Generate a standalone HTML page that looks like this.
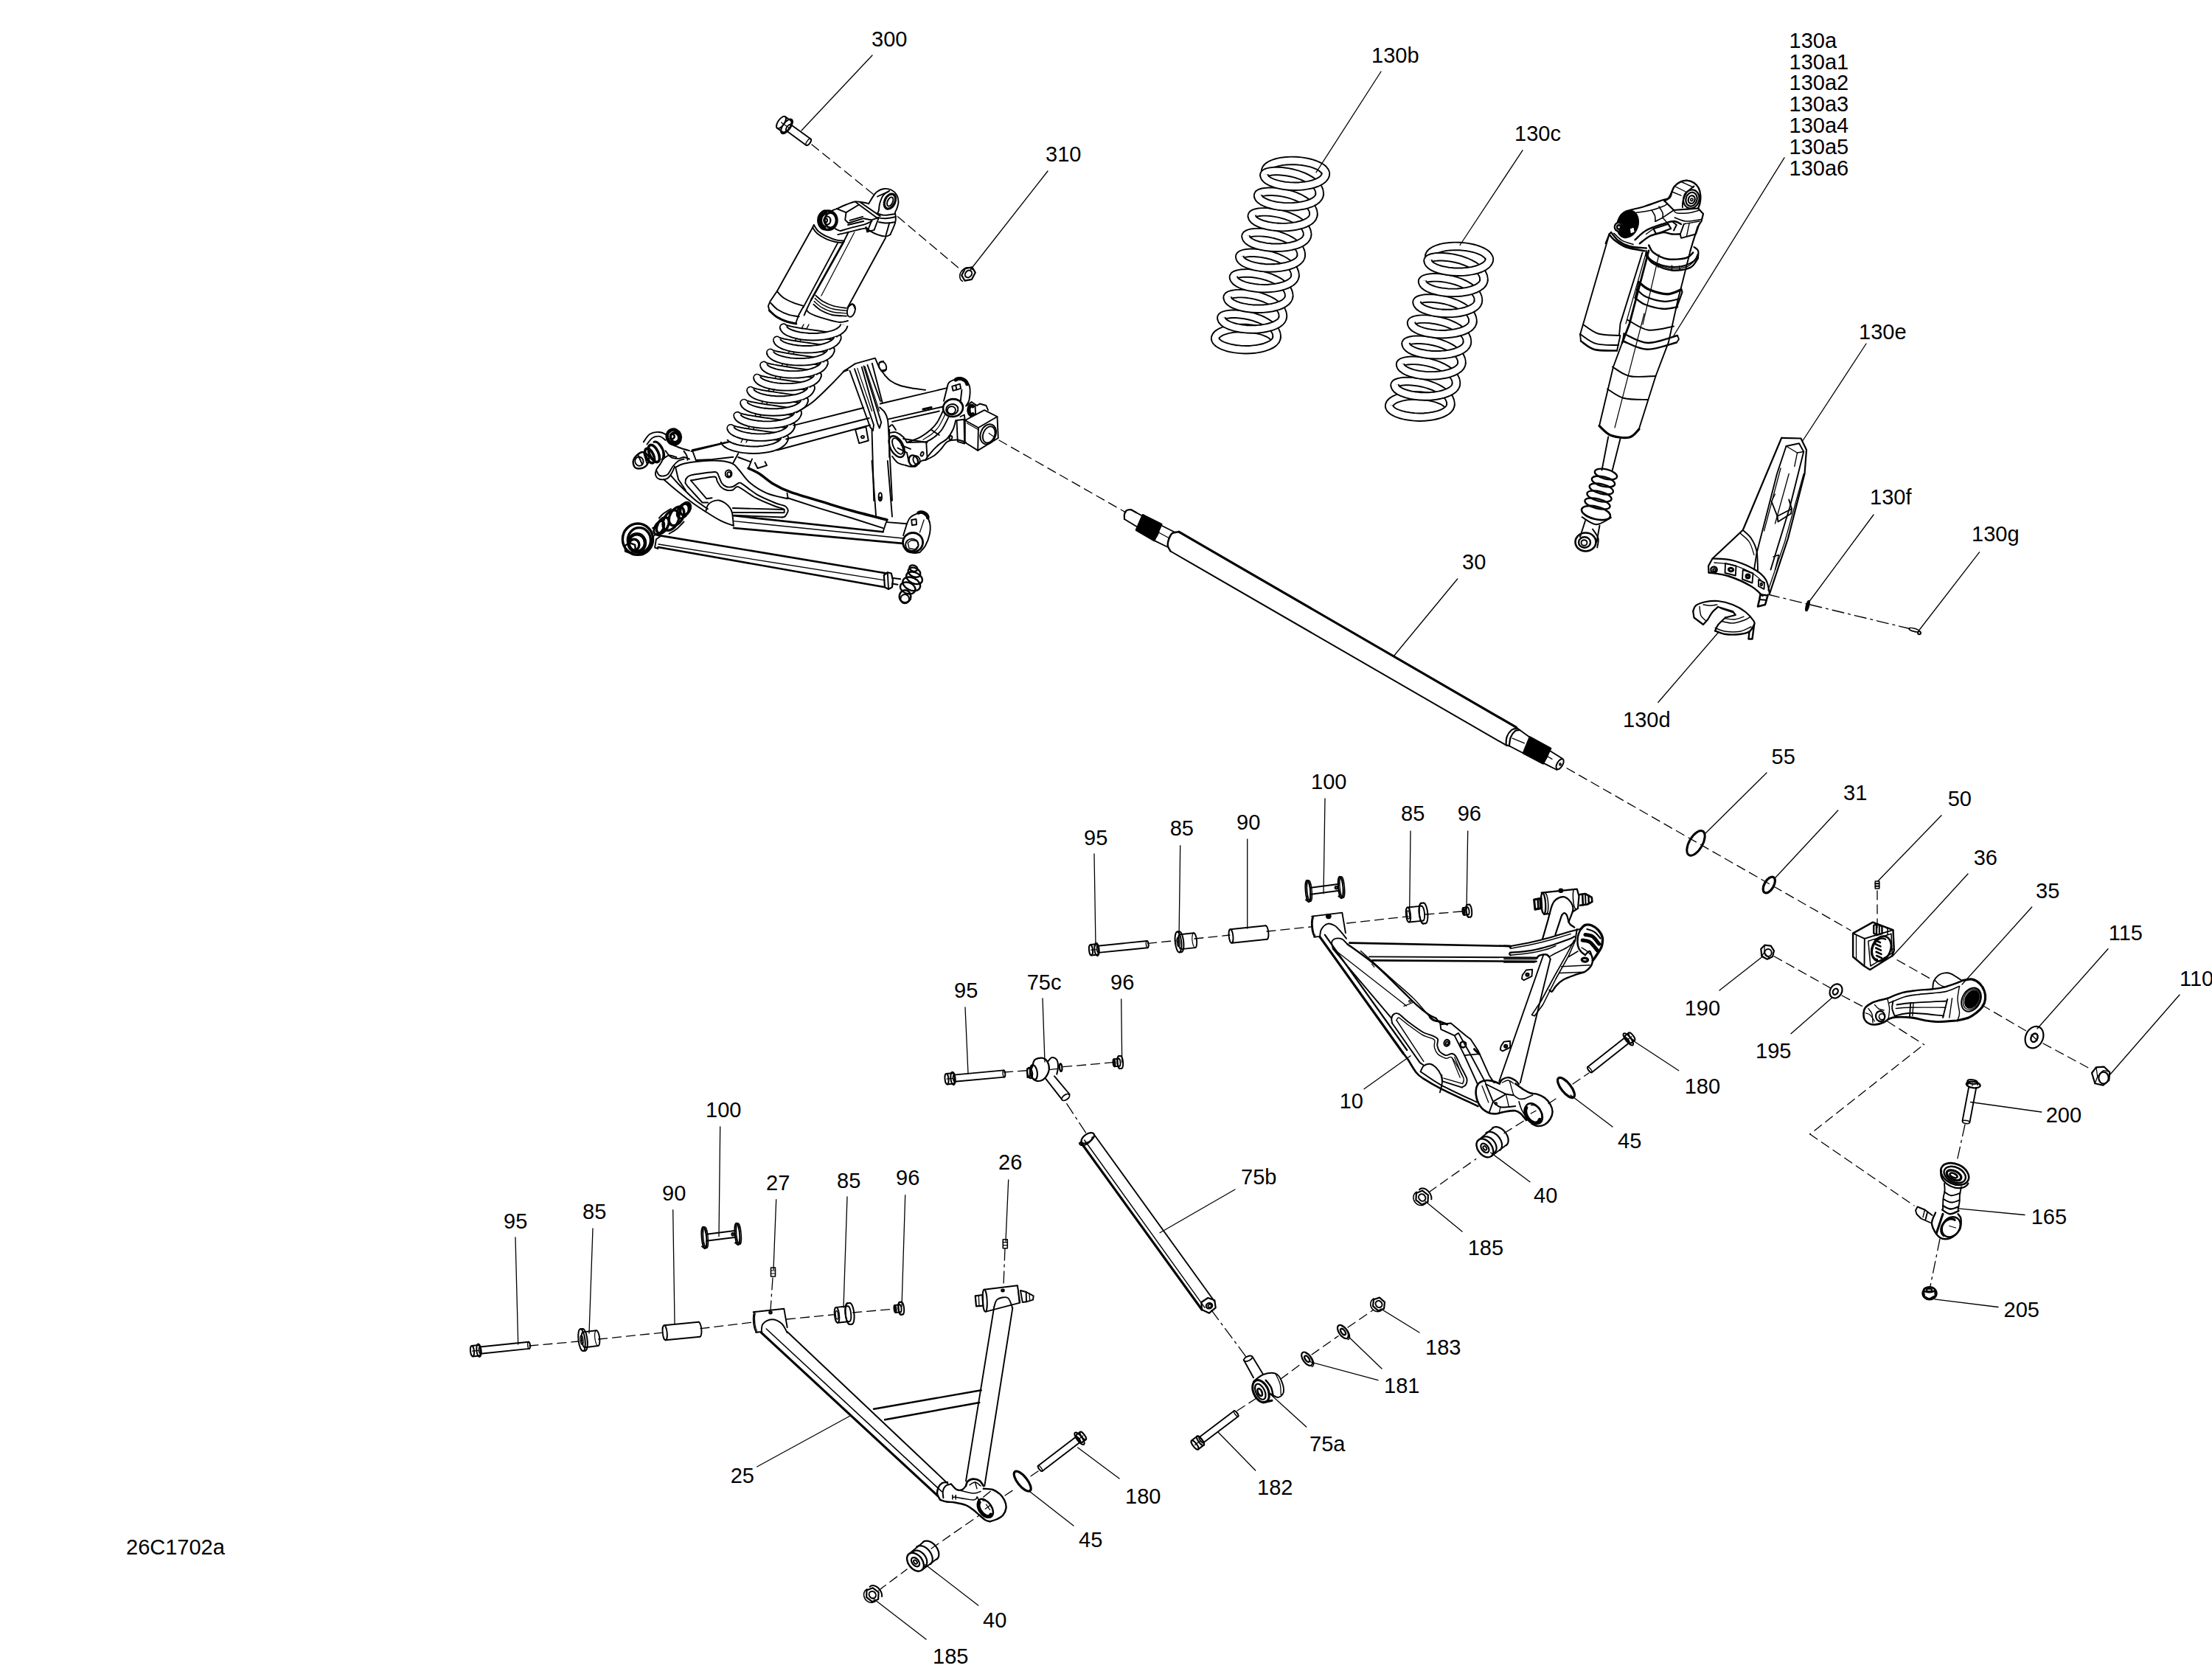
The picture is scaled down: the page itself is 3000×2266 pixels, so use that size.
<!DOCTYPE html>
<html><head><meta charset="utf-8"><title>26C1702a</title>
<style>
html,body{margin:0;padding:0;background:#fff;}
svg{display:block;}
svg path,svg ellipse{stroke-linecap:round;stroke-linejoin:round;}
svg text{font-family:"Liberation Sans",sans-serif;font-size:29px;fill:#000;}
</style></head><body>
<svg xmlns="http://www.w3.org/2000/svg" width="3000" height="2266" viewBox="0 0 3000 2266">
<rect width="3000" height="2266" fill="#fff"/>
<g id="p_10_asm_shock">
<path d="M1054 173.8 L1061.5 179.1" fill="none" stroke="#000" stroke-width="2"/>
<path d="M1065 158.2 L1072.5 163.5" fill="none" stroke="#000" stroke-width="2"/>
<ellipse cx="1059.5" cy="166" rx="4.3" ry="9.5" transform="rotate(35.2 1059.5 166)" fill="none" stroke="#000" stroke-width="2"/>
<path d="M1072.5 163.5 L1073.2 164.4 L1073.5 165.8 L1073.3 167.6 L1072.8 169.6 L1071.8 171.7 L1070.5 173.8 L1069 175.7 L1067.3 177.3 L1065.6 178.5 L1064 179.3 L1062.6 179.4 L1061.5 179.1" fill="none" stroke="#000" stroke-width="2"/>
<path d="M1059.5 166 L1067 171.3" fill="none" stroke="#000" stroke-width="1.2"/>
<ellipse cx="1067" cy="171.3" rx="5.2" ry="11.5" transform="rotate(36 1067 171.3)" fill="none" stroke="#000" stroke-width="2"/>
<path d="M1066.5 177.3 L1093.4 196.9" fill="none" stroke="#000" stroke-width="1.9"/>
<path d="M1072.6 168.9 L1099.6 188.5" fill="none" stroke="#000" stroke-width="1.9"/>
<path d="M1066.5 177.3 L1066.1 176.8 L1065.9 176.1 L1066 175.1 L1066.3 174 L1066.9 172.9 L1067.6 171.7 L1068.5 170.7 L1069.4 169.8 L1070.3 169.2 L1071.2 168.8 L1072 168.7 L1072.6 168.9" fill="none" stroke="#000" stroke-width="1.9"/>
<path d="M1099.6 188.5 L1099.9 189 L1100.1 189.7 L1100 190.7 L1099.7 191.8 L1099.1 192.9 L1098.4 194.1 L1097.5 195.1 L1096.6 196 L1095.7 196.6 L1094.8 197 L1094 197.1 L1093.4 196.9" fill="none" stroke="#000" stroke-width="1.9"/>
<path d="M1069.7 173.3 L1069.7 173.3 L1069.7 173.3 L1069.7 173.3 L1069.7 173.3 L1069.7 173.3 L1069.7 173.3 L1069.7 173.3 L1069.7 173.3 L1069.7 173.3 L1069.7 173.3 L1069.7 173.3 L1069.7 173.3 L1069.7 173.3 L1069.7 173.3 L1069.7 173.3 L1069.7 173.3 L1069.7 173.3 L1069.7 173.3 L1069.7 173.3 L1069.7 173.3 L1069.7 173.3 L1069.7 173.3 L1069.7 173.3 L1069.7 173.3" fill="none" stroke="#000" stroke-width="1.9"/>
<ellipse cx="1096.5" cy="192.7" rx="2.3" ry="5.2" transform="rotate(36 1096.5 192.7)" fill="none" stroke="#000" stroke-width="1.4"/>
<path d="M1318 378.8 L1308.6 380.7 L1304.2 373.4 L1309 364.2 L1318.4 362.3 L1322.8 369.6Z" fill="none" stroke="#000" stroke-width="2.2"/>
<ellipse cx="1313.5" cy="371.5" rx="4.2" ry="5.2" transform="rotate(40 1313.5 371.5)" fill="none" stroke="#000" stroke-width="2"/>
<path d="M1305.5 381.4 L1304.4 380.7 L1303.5 379.9 L1302.8 378.9 L1302.3 377.7 L1301.9 376.5 L1301.7 375.2 L1301.7 373.8 L1301.9 372.4 L1302.3 371 L1302.9 369.6 L1303.7 368.3 L1304.6 367.1 L1305.6 366 L1306.8 365 L1308 364.2 L1309.3 363.6 L1310.7 363.1 L1312 362.9 L1313.4 362.8 L1314.6 363 L1315.9 363.3 L1317 363.9 L1317.9 364.6 L1318.8 365.5" fill="none" stroke="#000" stroke-width="1.6"/>
<path d="M1178.1 276.2 C1179.1 274.7 1181.9 269.6 1183.8 266.9 C1185.6 264.2 1186.9 261.8 1189.4 260 C1191.9 258.2 1195.5 256.4 1198.8 256 C1202 255.6 1205.8 256.1 1208.8 257.5 C1211.7 258.9 1214.6 261.7 1216.2 264.4 C1217.9 267.1 1218.5 270.7 1218.5 273.8 C1218.5 276.8 1217.2 280.1 1216.5 282.5 C1215.8 284.9 1214.3 286.2 1214 288.1 C1213.7 290 1214.8 291.4 1214.8 293.8 C1214.8 296.1 1215.2 298.4 1214 302.5 C1212.8 306.6 1208.6 315.5 1207.5 318.1" fill="none" stroke="#000" stroke-width="1.9"/>
<path d="M1206.2 258.8 C1204.8 259.8 1199.9 262.1 1197.8 265 C1195.6 267.9 1194.1 272.9 1193.1 276.2 C1192.1 279.6 1192.4 282.8 1191.9 285 C1191.4 287.2 1190.3 288.6 1190 289.4" fill="none" stroke="#000" stroke-width="1.9"/>
<path d="M1190 266.5 L1204.8 259.8" fill="none" stroke="#000" stroke-width="1.9"/>
<ellipse cx="1206.9" cy="273.1" rx="6.9" ry="10.6" transform="rotate(25 1206.9 273.1)" fill="none" stroke="#000" stroke-width="3.2"/>
<ellipse cx="1207.2" cy="273.5" rx="3.5" ry="6.5" transform="rotate(25 1207.2 273.5)" fill="none" stroke="#000" stroke-width="1.9"/>
<path d="M1190 289.4 C1191.7 289.8 1196 291.8 1200 291.9 C1204 292 1211.7 290.3 1214 290" fill="none" stroke="#000" stroke-width="1.9"/>
<path d="M1189.4 295 C1191.4 295.2 1197 296.4 1201.2 296.2 C1205.5 296.1 1212.5 294.4 1214.8 294" fill="none" stroke="#000" stroke-width="1.9"/>
<path d="M1191.9 301.2 C1193.6 301.5 1198.8 302.5 1202.5 302.5 C1206.2 302.5 1212.1 301.5 1214 301.2" fill="none" stroke="#000" stroke-width="1.9"/>
<path d="M1207.5 318.1 C1206.5 318.5 1204.2 320.6 1201.2 320.6 C1198.3 320.6 1193.5 319.4 1190 318.1 C1186.5 316.9 1182.6 314.8 1180 313.1 C1177.4 311.5 1175.3 309 1174.4 308.1" fill="none" stroke="#000" stroke-width="1.9"/>
<path d="M1206.2 302.5 L1201.2 320" fill="none" stroke="#000" stroke-width="1.9"/>
<path d="M1135 283.1 C1137.1 282.2 1143.3 279.1 1147.5 277.5 C1151.7 275.9 1155.8 274 1160 273.5 C1164.2 273 1169.5 274.3 1172.5 274.8 C1175.5 275.2 1177.2 276 1178.1 276.2" fill="none" stroke="#000" stroke-width="1.9"/>
<path d="M1160 273.5 L1165 277.5 L1188.8 295" fill="none" stroke="#000" stroke-width="1.9"/>
<path d="M1166.2 274 L1193.8 293.1" fill="none" stroke="#000" stroke-width="1.9"/>
<path d="M1165 277.5 L1147.5 288.1 L1135 283.1" fill="none" stroke="#000" stroke-width="1.9"/>
<path d="M1147.5 288.1 L1146.2 298.1 L1150.6 302.5 L1171.2 296.2 L1182.5 298.5" fill="none" stroke="#000" stroke-width="1.9"/>
<path d="M1140 313.1 C1142.1 312.5 1147.1 310.8 1152.5 309.4 C1157.9 307.9 1167.5 305.9 1172.5 304.4 C1177.5 302.8 1180.8 300.7 1182.5 300" fill="none" stroke="#000" stroke-width="1.9"/>
<path d="M1136.2 318.1 C1138.5 317.6 1145.2 316.1 1150 315 C1154.8 313.9 1160.8 312.2 1165 311.2 C1169.2 310.3 1173.3 309.7 1175 309.4" fill="none" stroke="#000" stroke-width="1.9"/>
<path d="M1152.5 298.8 L1170 293.8" fill="none" stroke="#000" stroke-width="1.9"/>
<path d="M1150 305 L1171.2 300" fill="none" stroke="#000" stroke-width="1.9"/>
<path d="M1182.5 298.1 L1191.9 295 L1185.6 311.9 L1176.2 314.4Z" fill="none" stroke="#000" stroke-width="1.9"/>
<path d="M1174.4 308.1 L1176.2 314.4" fill="none" stroke="#000" stroke-width="1.9"/>
<path d="M1127.5 286.5 C1128.1 286.1 1130 284.9 1131.2 284.4 C1132.5 283.8 1134.4 283.3 1135 283.1" fill="none" stroke="#000" stroke-width="1.9"/>
<path d="M1132.5 310 C1133.1 310.3 1135 311.4 1136.2 311.9 C1137.5 312.4 1139.4 312.9 1140 313.1" fill="none" stroke="#000" stroke-width="1.9"/>
<ellipse cx="1123.1" cy="298.8" rx="11.9" ry="12.8" transform="rotate(0 1123.1 298.8)" fill="none" stroke="#000" stroke-width="3.5"/>
<ellipse cx="1126.2" cy="298.8" rx="7.8" ry="10" transform="rotate(0 1126.2 298.8)" fill="none" stroke="#000" stroke-width="2.6"/>
<ellipse cx="1121.9" cy="299" rx="4.5" ry="5.5" transform="rotate(0 1121.9 299)" fill="none" stroke="#000" stroke-width="2.2"/>
<ellipse cx="1120" cy="298.8" rx="2" ry="2.5" transform="rotate(0 1120 298.8)" fill="none" stroke="#000" stroke-width="2.2"/>
<path d="M1116.8 308.7 L1115.9 308.1 L1115.2 307.5 L1114.5 306.7 L1113.8 305.9 L1113.3 305 L1112.8 304.1 L1112.4 303.1 L1112.1 302 L1111.8 301 L1111.7 299.9 L1111.6 298.8 L1111.7 297.7 L1111.8 296.7 L1112 295.6 L1112.3 294.6 L1112.7 293.6 L1113.2 292.6 L1113.7 291.7 L1114.4 290.9 L1115.1 290.2 L1115.8 289.5 L1116.6 288.9 L1117.5 288.4 L1118.4 287.9" fill="none" stroke="#000" stroke-width="7"/>
<path d="M1103.8 305 C1104.8 306.5 1106.9 311 1110 313.8 C1113.1 316.5 1118.3 319.3 1122.5 321.2 C1126.7 323.2 1131.4 324.8 1135 325.6 C1138.6 326.5 1142.8 326.4 1144.4 326.5" fill="none" stroke="#000" stroke-width="1.9"/>
<path d="M1102.1 308.5 C1103.1 309.8 1104.9 313.9 1108.1 316.5 C1111.3 319.1 1117 322.4 1121.2 324.4 C1125.5 326.3 1130.2 327.4 1133.8 328.2 C1137.3 329.1 1141.2 329.1 1142.8 329.2" fill="none" stroke="#000" stroke-width="1.9"/>
<path d="M1103.8 305 L1102.1 308.5 L1053.8 395" fill="none" stroke="#000" stroke-width="1.9"/>
<path d="M1136.2 329.4 L1089.4 416.9" fill="none" stroke="#000" stroke-width="1.9"/>
<path d="M1144.4 327.5 L1100 406.9" fill="none" stroke="#000" stroke-width="2.6"/>
<path d="M1158.8 315 L1113.8 401.2" fill="none" stroke="#000" stroke-width="1.2"/>
<path d="M1201.2 322.2 L1150 416.2" fill="none" stroke="#000" stroke-width="1.9"/>
<path d="M1150.6 315 L1144.4 327.5" fill="none" stroke="#000" stroke-width="1.9"/>
<path d="M1053.8 395 C1055.2 396.5 1058.8 401.1 1062.5 403.8 C1066.2 406.4 1071.7 408.8 1076.2 410.6 C1080.8 412.5 1087.7 414.1 1090 414.8" fill="none" stroke="#000" stroke-width="1.9"/>
<path d="M1053.8 395 L1044.4 408.8 L1041.9 415 L1043.5 421.2" fill="none" stroke="#000" stroke-width="1.9"/>
<path d="M1045 410.6 C1046.7 412.2 1050.8 417.3 1055 420 C1059.2 422.7 1065.2 425.3 1070 426.9 C1074.8 428.4 1081.5 429 1083.8 429.4" fill="none" stroke="#000" stroke-width="1.9"/>
<path d="M1043.5 421.2 C1045.2 422.7 1049.8 427.5 1053.8 430 C1057.8 432.5 1063.2 434.8 1067.5 436.2 C1071.8 437.8 1077.7 438.5 1079.8 439" fill="none" stroke="#000" stroke-width="3"/>
<path d="M1090 415 L1083.1 427.5 L1079 439" fill="none" stroke="#000" stroke-width="1.9"/>
<path d="M1100 406.9 L1095 417.5 L1090.6 427.5" fill="none" stroke="#000" stroke-width="1.9"/>
<path d="M1106.2 400.6 C1107.9 402 1112.2 406.4 1116.2 408.8 C1120.3 411.1 1125.3 413.5 1130.6 415 C1135.9 416.5 1145.2 417.3 1148.1 417.8" fill="none" stroke="#000" stroke-width="1.8"/>
<path d="M1105.2 404.6 C1106.9 406 1111.1 410.4 1115.2 412.8 C1119.4 415.1 1124.4 417.6 1129.9 419 C1135.4 420.4 1145.1 421 1148.1 421.4" fill="none" stroke="#000" stroke-width="1.4"/>
<path d="M1104.2 408.6 C1105.9 410 1110.1 414.4 1114.2 416.8 C1118.4 419.1 1123.5 421.6 1129.1 423 C1134.8 424.4 1145 424.6 1148.1 424.9" fill="none" stroke="#000" stroke-width="1.4"/>
<path d="M1103.2 412.6 C1104.9 414 1109.1 418.4 1113.2 420.8 C1117.4 423.1 1122.6 425.7 1128.4 427 C1134.2 428.3 1144.8 428.3 1148.1 428.6" fill="none" stroke="#000" stroke-width="1.8"/>
<ellipse cx="1154.4" cy="421" rx="5.2" ry="9" transform="rotate(15 1154.4 421)" fill="none" stroke="#000" stroke-width="1.9"/>
<path d="M1150 416.2 C1151 415.6 1154.6 412.1 1156.2 412.5 C1157.9 412.9 1159.2 417.7 1159.8 418.8" fill="none" stroke="#000" stroke-width="1.9"/>
<path d="M1093.8 420 C1094.6 420.8 1095.2 423.1 1098.8 425 C1102.3 426.9 1108.5 429.3 1115 431.2 C1121.5 433.2 1131.7 436.2 1137.5 436.9 C1143.3 437.5 1147.9 435.3 1150 435" fill="none" stroke="#000" stroke-width="1.9"/>
</g>
<g id="p_12_asm_spring">
<path d="M1090 440 L1005 600" fill="none" stroke="#000" stroke-width="1.4"/>
<path d="M1097 440 L1012 600" fill="none" stroke="#000" stroke-width="1.4"/>
<path d="M1062.8 444.7 L1062.6 444.1 L1063.5 444.8 L1065.4 445.6 L1068.2 446.4 L1071.9 447.2 L1076.4 448.1 L1081.5 449 L1087.1 450 L1093.1 450.9 L1099.2 451.8 L1105.4 452.7 L1111.3 453.5 L1117 454.3 L1122.1 455 L1126.6 455.7 L1130.3 456.3 L1133.2 456.8 L1135.1 457.2 L1135.9 457.6 L1135.7 459.1" fill="none" stroke="#000" stroke-width="11.4" style="stroke-linecap:butt"/>
<path d="M1063 445.4 L1062.6 443.9 L1063.1 444.6 L1064.8 445.4 L1067.5 446.2 L1071.1 447.1 L1075.6 448 L1080.9 448.9 L1086.7 449.9 L1092.8 450.8 L1099.2 451.8 L1105.6 452.7 L1111.8 453.6 L1117.6 454.4 L1122.8 455.1 L1127.4 455.8 L1131.1 456.4 L1133.8 456.9 L1135.4 457.4 L1136 457.7 L1135.3 460.1" fill="none" stroke="#fff" stroke-width="7.6" style="stroke-linecap:butt"/>
<path d="M1053.8 461.8 L1053.7 461.2 L1054.5 461.9 L1056.4 462.6 L1059.2 463.4 L1062.9 464.3 L1067.4 465.2 L1072.5 466.1 L1078.2 467 L1084.1 467.9 L1090.3 468.8 L1096.4 469.7 L1102.4 470.6 L1108 471.4 L1113.2 472.1 L1117.6 472.7 L1121.4 473.3 L1124.2 473.9 L1126.1 474.3 L1127 474.7 L1126.7 476.1" fill="none" stroke="#000" stroke-width="11.4" style="stroke-linecap:butt"/>
<path d="M1054.1 462.5 L1053.6 461 L1054.2 461.7 L1055.8 462.4 L1058.5 463.3 L1062.2 464.1 L1066.7 465 L1071.9 466 L1077.7 466.9 L1083.9 467.9 L1090.3 468.8 L1096.6 469.8 L1102.8 470.6 L1108.6 471.4 L1113.9 472.2 L1118.4 472.9 L1122.1 473.5 L1124.8 474 L1126.5 474.4 L1127 474.8 L1126.3 477.2" fill="none" stroke="#fff" stroke-width="7.6" style="stroke-linecap:butt"/>
<path d="M1044.9 478.8 L1044.7 478.3 L1045.6 478.9 L1047.5 479.7 L1050.3 480.5 L1054 481.3 L1058.5 482.2 L1063.6 483.1 L1069.2 484.1 L1075.2 485 L1081.3 485.9 L1087.5 486.8 L1093.4 487.6 L1099.1 488.4 L1104.2 489.1 L1108.7 489.8 L1112.4 490.4 L1115.3 490.9 L1117.2 491.4 L1118 491.7 L1117.8 493.2" fill="none" stroke="#000" stroke-width="11.4" style="stroke-linecap:butt"/>
<path d="M1045.2 479.6 L1044.7 478 L1045.2 478.7 L1046.9 479.5 L1049.6 480.3 L1053.2 481.2 L1057.7 482.1 L1063 483 L1068.8 484 L1075 485 L1081.3 485.9 L1087.7 486.8 L1093.9 487.7 L1099.7 488.5 L1104.9 489.2 L1109.5 489.9 L1113.2 490.5 L1115.9 491 L1117.5 491.5 L1118.1 491.8 L1117.4 494.2" fill="none" stroke="#fff" stroke-width="7.6" style="stroke-linecap:butt"/>
<path d="M1035.9 495.9 L1035.8 495.3 L1036.6 496 L1038.5 496.7 L1041.3 497.5 L1045 498.4 L1049.5 499.3 L1054.6 500.2 L1060.3 501.1 L1066.2 502 L1072.4 502.9 L1078.5 503.8 L1084.5 504.7 L1090.1 505.5 L1095.3 506.2 L1099.8 506.9 L1103.5 507.4 L1106.3 508 L1108.2 508.4 L1109.1 508.8 L1108.8 510.2" fill="none" stroke="#000" stroke-width="11.4" style="stroke-linecap:butt"/>
<path d="M1036.2 496.6 L1035.8 495.1 L1036.3 495.8 L1037.9 496.5 L1040.6 497.4 L1044.3 498.2 L1048.8 499.1 L1054 500.1 L1059.8 501 L1066 502 L1072.4 502.9 L1078.8 503.9 L1084.9 504.7 L1090.7 505.5 L1096 506.3 L1100.5 507 L1104.2 507.6 L1106.9 508.1 L1108.6 508.5 L1109.1 508.9 L1108.4 511.3" fill="none" stroke="#fff" stroke-width="7.6" style="stroke-linecap:butt"/>
<path d="M1027 512.9 L1026.9 512.4 L1027.7 513 L1029.6 513.8 L1032.4 514.6 L1036.1 515.4 L1040.6 516.3 L1045.7 517.2 L1051.3 518.2 L1057.3 519.1 L1063.4 520 L1069.6 520.9 L1075.5 521.7 L1081.2 522.5 L1086.3 523.2 L1090.8 523.9 L1094.5 524.5 L1097.4 525 L1099.3 525.5 L1100.1 525.8 L1099.9 527.3" fill="none" stroke="#000" stroke-width="11.4" style="stroke-linecap:butt"/>
<path d="M1027.3 513.7 L1026.8 512.1 L1027.3 512.8 L1029 513.6 L1031.7 514.4 L1035.3 515.3 L1039.8 516.2 L1045.1 517.1 L1050.9 518.1 L1057.1 519.1 L1063.4 520 L1069.8 520.9 L1076 521.8 L1081.8 522.6 L1087 523.3 L1091.6 524 L1095.3 524.6 L1098 525.1 L1099.6 525.6 L1100.2 525.9 L1099.5 528.3" fill="none" stroke="#fff" stroke-width="7.6" style="stroke-linecap:butt"/>
<path d="M1018 530 L1017.9 529.4 L1018.8 530.1 L1020.6 530.8 L1023.4 531.7 L1027.2 532.5 L1031.6 533.4 L1036.8 534.3 L1042.4 535.2 L1048.3 536.1 L1054.5 537.1 L1060.6 537.9 L1066.6 538.8 L1072.2 539.6 L1077.4 540.3 L1081.9 541 L1085.6 541.6 L1088.4 542.1 L1090.3 542.5 L1091.2 542.9 L1090.9 544.3" fill="none" stroke="#000" stroke-width="11.4" style="stroke-linecap:butt"/>
<path d="M1018.3 530.7 L1017.9 529.2 L1018.4 529.9 L1020 530.6 L1022.7 531.5 L1026.4 532.3 L1030.9 533.3 L1036.1 534.2 L1041.9 535.2 L1048.1 536.1 L1054.5 537.1 L1060.9 538 L1067 538.8 L1072.8 539.6 L1078.1 540.4 L1082.6 541.1 L1086.3 541.7 L1089 542.2 L1090.7 542.6 L1091.2 543 L1090.5 545.4" fill="none" stroke="#fff" stroke-width="7.6" style="stroke-linecap:butt"/>
<path d="M1009.1 547 L1009 546.5 L1009.8 547.1 L1011.7 547.9 L1014.5 548.7 L1018.2 549.6 L1022.7 550.4 L1027.8 551.4 L1033.4 552.3 L1039.4 553.2 L1045.5 554.1 L1051.7 555 L1057.6 555.8 L1063.3 556.6 L1068.4 557.3 L1072.9 558 L1076.6 558.6 L1079.5 559.1 L1081.4 559.6 L1082.2 559.9 L1082 561.4" fill="none" stroke="#000" stroke-width="11.4" style="stroke-linecap:butt"/>
<path d="M1009.4 547.8 L1008.9 546.2 L1009.4 546.9 L1011.1 547.7 L1013.8 548.5 L1017.4 549.4 L1022 550.3 L1027.2 551.2 L1033 552.2 L1039.2 553.2 L1045.5 554.1 L1051.9 555 L1058.1 555.9 L1063.9 556.7 L1069.1 557.5 L1073.7 558.1 L1077.4 558.7 L1080.1 559.2 L1081.7 559.7 L1082.3 560 L1081.6 562.4" fill="none" stroke="#fff" stroke-width="7.6" style="stroke-linecap:butt"/>
<path d="M1000.1 564.1 L1000 563.5 L1000.9 564.2 L1002.7 565 L1005.5 565.8 L1009.3 566.6 L1013.7 567.5 L1018.9 568.4 L1024.5 569.3 L1030.4 570.2 L1036.6 571.2 L1042.7 572 L1048.7 572.9 L1054.3 573.7 L1059.5 574.4 L1064 575.1 L1067.7 575.7 L1070.5 576.2 L1072.4 576.6 L1073.3 577 L1073 578.4" fill="none" stroke="#000" stroke-width="11.4" style="stroke-linecap:butt"/>
<path d="M1000.4 564.8 L1000 563.3 L1000.5 564 L1002.1 564.7 L1004.8 565.6 L1008.5 566.4 L1013 567.4 L1018.2 568.3 L1024 569.3 L1030.2 570.2 L1036.6 571.2 L1043 572.1 L1049.1 572.9 L1055 573.8 L1060.2 574.5 L1064.7 575.2 L1068.4 575.8 L1071.1 576.3 L1072.8 576.7 L1073.3 577.1 L1072.6 579.5" fill="none" stroke="#fff" stroke-width="7.6" style="stroke-linecap:butt"/>
<path d="M991.2 581.1 L991.1 580.6 L991.9 581.3 L993.8 582 L996.6 582.8 L1000.3 583.7 L1004.8 584.5 L1009.9 585.5 L1015.5 586.4 L1021.5 587.3 L1027.6 588.2 L1033.8 589.1 L1039.8 589.9 L1045.4 590.7 L1050.5 591.5 L1055 592.1 L1058.7 592.7 L1061.6 593.2 L1063.5 593.7 L1064.3 594 L1064.1 595.5" fill="none" stroke="#000" stroke-width="11.4" style="stroke-linecap:butt"/>
<path d="M991.5 581.9 L991 580.3 L991.5 581 L993.2 581.8 L995.9 582.6 L999.5 583.5 L1004.1 584.4 L1009.3 585.4 L1015.1 586.3 L1021.3 587.3 L1027.6 588.2 L1034 589.1 L1040.2 590 L1046 590.8 L1051.3 591.6 L1055.8 592.2 L1059.5 592.8 L1062.2 593.4 L1063.9 593.8 L1064.4 594.1 L1063.7 596.5" fill="none" stroke="#fff" stroke-width="7.6" style="stroke-linecap:butt"/>
<path d="M1144.9 440.6 L1144.5 442.2 L1143 445 L1140.5 447.5 L1137.1 449.8 L1132.8 451.9 L1127.7 453.6 L1122 454.9 L1115.9 455.9 L1109.4 456.5 L1102.8 456.7 L1096.2 456.5 L1089.8 456 L1083.7 455.1 L1078.2 453.8 L1073.4 452.3 L1069.3 450.6 L1066.2 448.8 L1064 446.8 L1062.8 444.9 L1062.6 444.1" fill="none" stroke="#000" stroke-width="11.4" style="stroke-linecap:butt"/>
<path d="M1144.7 440.5 L1144.8 441.3 L1143.6 444.1 L1141.3 446.8 L1138 449.3 L1133.7 451.5 L1128.5 453.3 L1122.7 454.8 L1116.3 455.9 L1109.6 456.5 L1102.8 456.7 L1095.9 456.5 L1089.3 455.9 L1083.1 454.9 L1077.4 453.6 L1072.5 452 L1068.5 450.2 L1065.5 448.3 L1063.5 446.2 L1062.7 444.2 L1062.8 444.3" fill="none" stroke="#fff" stroke-width="7.6" style="stroke-linecap:butt"/>
<path d="M1135.9 457.6 L1135.6 459.3 L1134.1 462 L1131.6 464.6 L1128.1 466.9 L1123.8 468.9 L1118.8 470.6 L1113.1 472 L1106.9 473 L1100.4 473.6 L1093.8 473.8 L1087.2 473.6 L1080.8 473 L1074.8 472.1 L1069.3 470.9 L1064.4 469.4 L1060.4 467.7 L1057.2 465.8 L1055 463.9 L1053.9 461.9 L1053.7 461.1" fill="none" stroke="#000" stroke-width="11.4" style="stroke-linecap:butt"/>
<path d="M1135.8 457.5 L1135.9 458.3 L1134.7 461.2 L1132.4 463.9 L1129 466.4 L1124.7 468.5 L1119.6 470.4 L1113.7 471.9 L1107.4 472.9 L1100.7 473.6 L1093.8 473.8 L1087 473.6 L1080.3 473 L1074.1 472 L1068.5 470.7 L1063.6 469.1 L1059.6 467.3 L1056.5 465.3 L1054.6 463.3 L1053.7 461.2 L1053.8 461.4" fill="none" stroke="#fff" stroke-width="7.6" style="stroke-linecap:butt"/>
<path d="M1127 474.7 L1126.6 476.3 L1125.1 479.1 L1122.6 481.6 L1119.2 483.9 L1114.9 486 L1109.8 487.7 L1104.1 489.1 L1098 490 L1091.5 490.6 L1084.9 490.8 L1078.3 490.6 L1071.9 490.1 L1065.8 489.2 L1060.3 487.9 L1055.5 486.4 L1051.4 484.7 L1048.3 482.9 L1046.1 480.9 L1044.9 479 L1044.7 478.2" fill="none" stroke="#000" stroke-width="11.4" style="stroke-linecap:butt"/>
<path d="M1126.8 474.6 L1126.9 475.4 L1125.7 478.2 L1123.4 480.9 L1120.1 483.4 L1115.8 485.6 L1110.6 487.4 L1104.8 488.9 L1098.4 490 L1091.7 490.6 L1084.9 490.8 L1078 490.6 L1071.4 490 L1065.2 489 L1059.5 487.7 L1054.6 486.1 L1050.6 484.3 L1047.6 482.4 L1045.6 480.3 L1044.8 478.3 L1044.9 478.4" fill="none" stroke="#fff" stroke-width="7.6" style="stroke-linecap:butt"/>
<path d="M1118.1 491.7 L1117.7 493.4 L1116.2 496.1 L1113.7 498.7 L1110.2 501 L1105.9 503 L1100.9 504.7 L1095.2 506.1 L1089 507.1 L1082.5 507.7 L1075.9 507.9 L1069.3 507.7 L1062.9 507.1 L1056.9 506.2 L1051.4 505 L1046.5 503.5 L1042.5 501.8 L1039.3 499.9 L1037.1 498 L1036 496 L1035.8 495.3" fill="none" stroke="#000" stroke-width="11.4" style="stroke-linecap:butt"/>
<path d="M1117.9 491.6 L1118 492.4 L1116.8 495.3 L1114.5 498 L1111.1 500.5 L1106.8 502.7 L1101.7 504.5 L1095.9 506 L1089.5 507 L1082.8 507.7 L1075.9 507.9 L1069.1 507.7 L1062.4 507.1 L1056.2 506.1 L1050.6 504.8 L1045.7 503.2 L1041.7 501.4 L1038.6 499.4 L1036.7 497.4 L1035.8 495.3 L1035.9 495.5" fill="none" stroke="#fff" stroke-width="7.6" style="stroke-linecap:butt"/>
<path d="M1109.1 508.8 L1108.7 510.5 L1107.3 513.2 L1104.8 515.7 L1101.3 518 L1097 520.1 L1091.9 521.8 L1086.2 523.2 L1080.1 524.1 L1073.6 524.7 L1067 524.9 L1060.4 524.7 L1054 524.2 L1047.9 523.3 L1042.4 522 L1037.6 520.5 L1033.5 518.8 L1030.4 517 L1028.2 515 L1027 513.1 L1026.8 512.3" fill="none" stroke="#000" stroke-width="11.4" style="stroke-linecap:butt"/>
<path d="M1108.9 508.7 L1109 509.5 L1107.8 512.4 L1105.5 515 L1102.2 517.5 L1097.9 519.7 L1092.7 521.6 L1086.9 523 L1080.5 524.1 L1073.8 524.7 L1067 524.9 L1060.1 524.7 L1053.5 524.1 L1047.3 523.1 L1041.6 521.8 L1036.7 520.2 L1032.7 518.4 L1029.7 516.5 L1027.7 514.4 L1026.9 512.4 L1027 512.6" fill="none" stroke="#fff" stroke-width="7.6" style="stroke-linecap:butt"/>
<path d="M1100.2 525.8 L1099.8 527.5 L1098.3 530.2 L1095.8 532.8 L1092.4 535.1 L1088 537.1 L1083 538.8 L1077.3 540.2 L1071.1 541.2 L1064.6 541.8 L1058 542 L1051.4 541.8 L1045 541.2 L1039 540.3 L1033.5 539.1 L1028.6 537.6 L1024.6 535.9 L1021.4 534 L1019.2 532.1 L1018.1 530.1 L1017.9 529.4" fill="none" stroke="#000" stroke-width="11.4" style="stroke-linecap:butt"/>
<path d="M1100 525.7 L1100.1 526.5 L1098.9 529.4 L1096.6 532.1 L1093.2 534.6 L1088.9 536.8 L1083.8 538.6 L1078 540.1 L1071.6 541.1 L1064.9 541.8 L1058 542 L1051.2 541.8 L1044.5 541.2 L1038.3 540.2 L1032.7 538.9 L1027.8 537.3 L1023.8 535.5 L1020.7 533.5 L1018.8 531.5 L1017.9 529.5 L1018 529.6" fill="none" stroke="#fff" stroke-width="7.6" style="stroke-linecap:butt"/>
<path d="M1091.2 542.9 L1090.8 544.6 L1089.4 547.3 L1086.9 549.8 L1083.4 552.1 L1079.1 554.2 L1074 555.9 L1068.3 557.3 L1062.2 558.3 L1055.7 558.8 L1049.1 559 L1042.5 558.8 L1036.1 558.3 L1030 557.4 L1024.5 556.1 L1019.7 554.7 L1015.6 553 L1012.5 551.1 L1010.3 549.2 L1009.1 547.2 L1008.9 546.4" fill="none" stroke="#000" stroke-width="11.4" style="stroke-linecap:butt"/>
<path d="M1091 542.8 L1091.1 543.6 L1089.9 546.5 L1087.6 549.2 L1084.3 551.6 L1080 553.8 L1074.8 555.7 L1069 557.1 L1062.7 558.2 L1055.9 558.8 L1049.1 559 L1042.2 558.8 L1035.6 558.2 L1029.4 557.2 L1023.7 555.9 L1018.9 554.3 L1014.8 552.5 L1011.8 550.6 L1009.8 548.5 L1009 546.5 L1009.1 546.7" fill="none" stroke="#fff" stroke-width="7.6" style="stroke-linecap:butt"/>
<path d="M1082.3 560 L1081.9 561.6 L1080.4 564.3 L1077.9 566.9 L1074.5 569.2 L1070.1 571.2 L1065.1 572.9 L1059.4 574.3 L1053.2 575.3 L1046.7 575.9 L1040.1 576.1 L1033.5 575.9 L1027.1 575.3 L1021.1 574.4 L1015.6 573.2 L1010.7 571.7 L1006.7 570 L1003.5 568.2 L1001.3 566.2 L1000.2 564.2 L1000 563.5" fill="none" stroke="#000" stroke-width="11.4" style="stroke-linecap:butt"/>
<path d="M1082.1 559.8 L1082.2 560.6 L1081 563.5 L1078.7 566.2 L1075.3 568.7 L1071 570.9 L1065.9 572.7 L1060.1 574.2 L1053.7 575.2 L1047 575.9 L1040.1 576.1 L1033.3 575.9 L1026.7 575.3 L1020.4 574.3 L1014.8 573 L1009.9 571.4 L1005.9 569.6 L1002.8 567.6 L1000.9 565.6 L1000 563.6 L1000.2 563.7" fill="none" stroke="#fff" stroke-width="7.6" style="stroke-linecap:butt"/>
<path d="M1073.3 577 L1073 578.7 L1071.5 581.4 L1069 583.9 L1065.5 586.2 L1061.2 588.3 L1056.1 590 L1050.4 591.4 L1044.3 592.4 L1037.8 593 L1031.2 593.1 L1024.6 593 L1018.2 592.4 L1012.1 591.5 L1006.6 590.2 L1001.8 588.8 L997.7 587.1 L994.6 585.2 L992.4 583.3 L991.2 581.3 L991 580.5" fill="none" stroke="#000" stroke-width="11.4" style="stroke-linecap:butt"/>
<path d="M1073.1 576.9 L1073.2 577.7 L1072 580.6 L1069.7 583.3 L1066.4 585.7 L1062.1 587.9 L1056.9 589.8 L1051.1 591.2 L1044.8 592.3 L1038 592.9 L1031.2 593.1 L1024.3 592.9 L1017.7 592.3 L1011.5 591.3 L1005.9 590 L1001 588.4 L996.9 586.6 L993.9 584.7 L991.9 582.7 L991.1 580.6 L991.2 580.8" fill="none" stroke="#fff" stroke-width="7.6" style="stroke-linecap:butt"/>
<path d="M1064.4 594.1 L1064 595.7 L1062.5 598.4 L1060 601 L1056.6 603.3 L1052.2 605.3 L1047.2 607.1 L1041.5 608.4 L1035.3 609.4 L1028.8 610 L1022.2 610.2 L1015.6 610 L1009.2 609.4 L1003.2 608.5 L997.7 607.3 L992.8 605.8 L988.8 604.1 L985.6 602.3 L983.4 600.3 L982.3 598.3 L982.1 597.6" fill="none" stroke="#000" stroke-width="11.4" style="stroke-linecap:butt"/>
<path d="M1064.2 593.9 L1064.3 594.8 L1063.1 597.6 L1060.8 600.3 L1057.4 602.8 L1053.1 605 L1048 606.8 L1042.2 608.3 L1035.8 609.3 L1029.1 610 L1022.2 610.2 L1015.4 610 L1008.8 609.4 L1002.5 608.4 L996.9 607.1 L992 605.5 L988 603.7 L985 601.7 L983 599.7 L982.1 597.7 L982.3 597.8" fill="none" stroke="#fff" stroke-width="7.6" style="stroke-linecap:butt"/>
</g>
<g id="p_14_asm_right">
<path d="M1080 559.5 C1083.8 557.1 1095 551 1102.5 545 C1110 539 1117.8 530.8 1125 523.8 C1132.2 516.7 1142.1 506 1145.5 502.5" fill="none" stroke="#000" stroke-width="1.9"/>
<path d="M1143.8 503.8 L1160 493.1 L1186.9 485.6 L1192.5 498.8 L1200 508.8" fill="none" stroke="#000" stroke-width="1.9"/>
<path d="M1143.8 503.8 L1150 501.9" fill="none" stroke="#000" stroke-width="1.9"/>
<path d="M1200 508.8 C1201.2 510 1204.2 514 1207.5 516.2 C1210.8 518.5 1215.2 520.8 1220 522.5 C1224.8 524.2 1230.4 525.2 1236.2 526.2 C1242.1 527.3 1251.9 528.3 1255 528.8" fill="none" stroke="#000" stroke-width="1.9"/>
<ellipse cx="1197.1" cy="496.9" rx="4.8" ry="6.9" transform="rotate(-20 1197.1 496.9)" fill="none" stroke="#000" stroke-width="1.9"/>
<path d="M1192.5 491.9 L1198.1 489.8" fill="none" stroke="#000" stroke-width="1.9"/>
<path d="M1195 502.8 L1201.9 501.2" fill="none" stroke="#000" stroke-width="1.9"/>
<path d="M1152.5 502.8 L1180 578.8 L1184 584 L1185 576.2 L1159 500.2" fill="none" stroke="#000" stroke-width="1.9"/>
<path d="M1168.8 497.8 L1190 573.8 L1192.8 580.6 L1195.2 572.8 L1171.5 496.5" fill="none" stroke="#000" stroke-width="1.9"/>
<path d="M1176.5 495 L1194 544" fill="none" stroke="#000" stroke-width="1.9"/>
<path d="M1182.8 492.8 L1196.5 545.2" fill="none" stroke="#000" stroke-width="1.9"/>
<path d="M1162.8 499.4 L1182.5 557.5" fill="none" stroke="#000" stroke-width="1.2"/>
<path d="M1173.1 496.9 L1192.5 557.5" fill="none" stroke="#000" stroke-width="1.2"/>
<path d="M937.5 612 L990 599" fill="none" stroke="#000" stroke-width="1.9"/>
<path d="M1076.2 576.8 L1171.2 553" fill="none" stroke="#000" stroke-width="1.9"/>
<path d="M1193.8 547.5 L1284.4 526.2" fill="none" stroke="#000" stroke-width="1.9"/>
<path d="M1053.8 610.5 L1180 576.5" fill="none" stroke="#000" stroke-width="1.9"/>
<path d="M1066.2 595.5 L1178.8 567" fill="none" stroke="#000" stroke-width="1.9"/>
<path d="M1205 568.4 L1278.8 551.5" fill="none" stroke="#000" stroke-width="1.9"/>
<path d="M1210 571.9 L1273.8 557.5" fill="none" stroke="#000" stroke-width="1.9"/>
<path d="M1251.9 555 L1263.1 552.5" fill="none" stroke="#000" stroke-width="3"/>
<path d="M1193.1 552.5 C1194.3 553.6 1198.2 556.7 1200 559.4 C1201.8 562.1 1202.9 564.9 1203.8 568.8 C1204.6 572.6 1204.8 580.2 1205 582.5" fill="none" stroke="#000" stroke-width="1.9"/>
<path d="M1205 582.5 L1210 678.9" fill="none" stroke="#000" stroke-width="1.9"/>
<path d="M1182.5 583.1 L1185.2 678.9" fill="none" stroke="#000" stroke-width="1.9"/>
<path d="M1182.5 625 L1188 698.8" fill="none" stroke="#000" stroke-width="1.9"/>
<path d="M1203.8 625 L1210 700.5" fill="none" stroke="#000" stroke-width="1.9"/>
<ellipse cx="1193.8" cy="673.8" rx="2.2" ry="5.5" transform="rotate(0 1193.8 673.8)" fill="none" stroke="#000" stroke-width="1.9"/>
<ellipse cx="1193.8" cy="676.2" rx="1.2" ry="2" transform="rotate(0 1193.8 676.2)" fill="none" stroke="#000" stroke-width="1.9"/>
<path d="M1160 582.5 L1174.4 578.8 L1177.8 597.5 L1165.2 601.2Z" fill="none" stroke="#000" stroke-width="1.9"/>
<ellipse cx="1170" cy="592.5" rx="2" ry="1.6" transform="rotate(0 1170 592.5)" fill="none" stroke="#000" stroke-width="1.9"/>
<path d="M1284.4 526.2 C1284.9 524.9 1284.9 520.3 1287.8 518.1 C1290.6 515.9 1297.5 513.4 1301.2 513.1 C1305 512.9 1307.7 514.5 1310 516.5 C1312.3 518.5 1314.5 520.7 1315.2 525 C1316 529.3 1315.2 538.2 1314.4 542.5 C1313.5 546.8 1310.7 549.3 1310 550.6" fill="none" stroke="#000" stroke-width="1.9"/>
<path d="M1296.1 515.2 L1296.7 514.7 L1297.2 514.4 L1297.9 514.1 L1298.6 513.8 L1299.4 513.6 L1300.2 513.5 L1301 513.4 L1301.8 513.4 L1302.7 513.5 L1303.6 513.6 L1304.4 513.9 L1305.3 514.1 L1306.1 514.5 L1306.9 514.9 L1307.6 515.3 L1308.3 515.8 L1309 516.3 L1309.6 516.9 L1310.1 517.5 L1310.6 518.1 L1310.9 518.8 L1311.2 519.5 L1311.5 520.1 L1311.6 520.8" fill="none" stroke="#000" stroke-width="5"/>
<path d="M1291.2 523.8 L1301.9 520.6 L1303.1 526.9 L1292.5 529.8Z" fill="none" stroke="#000" stroke-width="1.9"/>
<path d="M1296.2 522.5 L1297.5 528.5" fill="none" stroke="#000" stroke-width="1.9"/>
<path d="M1284.4 526.2 L1280 543.8" fill="none" stroke="#000" stroke-width="1.9"/>
<path d="M1304.4 528.8 L1302.5 546.2" fill="none" stroke="#000" stroke-width="1.9"/>
<ellipse cx="1292.5" cy="553.1" rx="13.5" ry="11.9" transform="rotate(-10 1292.5 553.1)" fill="none" stroke="#000" stroke-width="2.6"/>
<ellipse cx="1291.2" cy="555.2" rx="8.2" ry="7.2" transform="rotate(-10 1291.2 555.2)" fill="none" stroke="#000" stroke-width="1.9"/>
<ellipse cx="1290.4" cy="556.2" rx="5.6" ry="5" transform="rotate(-10 1290.4 556.2)" fill="none" stroke="#000" stroke-width="1.9"/>
<path d="M1281.2 546.2 C1282.7 545.4 1286.7 541.7 1290 541.2 C1293.3 540.8 1298.5 542.1 1301.2 543.8 C1304 545.4 1305.4 550 1306.2 551.2" fill="none" stroke="#000" stroke-width="1.9"/>
<path d="M1278.8 557.5 C1277.5 560 1274 568.3 1271.2 572.5 C1268.5 576.7 1266.5 579.1 1262.5 582.5 C1258.5 585.9 1252.9 590.2 1247.5 593.1 C1242.1 596 1232.9 598.9 1230 600" fill="none" stroke="#000" stroke-width="1.9"/>
<path d="M1286.2 566.2 C1284.8 569 1280.6 578.1 1277.5 582.5 C1274.4 586.9 1271 589.7 1267.5 592.5 C1264 595.3 1258.1 598.2 1256.2 599.4" fill="none" stroke="#000" stroke-width="1.9"/>
<path d="M1281.9 561.9 C1280.5 564.5 1276.6 573.2 1273.8 577.5 C1270.9 581.8 1268.6 584.4 1265 587.5 C1261.4 590.6 1254.1 594.8 1251.9 596.2" fill="none" stroke="#000" stroke-width="1.2"/>
<path d="M1296.2 570 C1295.6 572.1 1294.5 578.3 1292.5 582.5 C1290.5 586.7 1287.5 591.7 1284.4 595 C1281.2 598.3 1277.4 599.4 1273.8 602.5 C1270.1 605.6 1265.6 610.2 1262.5 613.8 C1259.4 617.3 1256.2 622.1 1255 623.8" fill="none" stroke="#000" stroke-width="1.9"/>
<path d="M1310 600 C1308.1 599.4 1302.9 596.7 1298.8 596.5 C1294.6 596.3 1288.5 596.9 1285 598.8 C1281.5 600.6 1280.4 604.4 1277.5 607.5 C1274.6 610.6 1271.2 614.8 1267.5 617.5 C1263.8 620.2 1257.1 622.9 1255 624" fill="none" stroke="#000" stroke-width="1.9"/>
<path d="M1262.5 582.5 L1273.8 590" fill="none" stroke="#000" stroke-width="1.9"/>
<path d="M1256.2 599.4 L1257.5 620" fill="none" stroke="#000" stroke-width="1.9"/>
<ellipse cx="1289.4" cy="593.8" rx="1.8" ry="2.8" transform="rotate(20 1289.4 593.8)" fill="none" stroke="#000" stroke-width="1.9"/>
<path d="M1297.5 570 L1307.5 568.8 L1308.1 601.5 L1298.8 598.8Z" fill="none" stroke="#000" stroke-width="1.9"/>
<path d="M1302.5 565 L1307.8 562.5 L1308.8 570" fill="none" stroke="#000" stroke-width="1.9"/>
<path d="M1308.8 570 L1308.8 600 L1326.2 610.9 L1353.8 594 L1352.5 565 L1335 556.2 L1308.8 570" fill="none" stroke="#000" stroke-width="1.9"/>
<path d="M1308.8 570 L1326.9 580 L1352.5 565" fill="none" stroke="#000" stroke-width="1.9"/>
<path d="M1326.9 580 L1326.2 610.9" fill="none" stroke="#000" stroke-width="1.9"/>
<path d="M1311.2 573.8 L1327.5 583.1" fill="none" stroke="#000" stroke-width="1.2"/>
<ellipse cx="1340.2" cy="588.8" rx="10.2" ry="14" transform="rotate(22 1340.2 588.8)" fill="none" stroke="#000" stroke-width="1.9"/>
<ellipse cx="1341.2" cy="589.4" rx="7.8" ry="11.5" transform="rotate(22 1341.2 589.4)" fill="none" stroke="#000" stroke-width="1.9"/>
<path d="M1341.2 587.5 L1347.5 591.9" fill="none" stroke="#000" stroke-width="1.2"/>
<path d="M1311.2 550 L1317.5 545 L1325 550 L1328.8 547.5 L1337.5 550 L1340 556.2" fill="none" stroke="#000" stroke-width="1.9"/>
<path d="M1315 551.2 L1316.2 565" fill="none" stroke="#000" stroke-width="1.9"/>
<path d="M1322.5 550 L1323.1 561.9" fill="none" stroke="#000" stroke-width="1.9"/>
<path d="M1319.4 561.7 L1318.8 562.1 L1318.2 562.4 L1317.5 562.5 L1316.8 562.4 L1316.2 562.1 L1315.6 561.7 L1315.1 561 L1314.6 560.3 L1314.3 559.4 L1314 558.4 L1313.8 557.3 L1313.8 556.2 L1313.8 555.2 L1314 554.1 L1314.3 553.1 L1314.6 552.2 L1315.1 551.5 L1315.6 550.8 L1316.2 550.4 L1316.8 550.1 L1317.5 550 L1318.2 550.1 L1318.8 550.4 L1319.4 550.8" fill="none" stroke="#000" stroke-width="5"/>
<path d="M1206.2 578.8 C1206.9 578.3 1208.5 575.5 1210 576.2 C1211.5 577 1214.2 582 1215 583.1" fill="none" stroke="#000" stroke-width="1.9"/>
<path d="M1206.9 586.9 C1208.2 586.8 1212 585.3 1215 586.2 C1218 587.2 1222.5 590.2 1225 592.5 C1227.5 594.8 1229.2 598.8 1230 600" fill="none" stroke="#000" stroke-width="1.9"/>
<ellipse cx="1216.2" cy="605.6" rx="8.8" ry="15.6" transform="rotate(-28 1216.2 605.6)" fill="none" stroke="#000" stroke-width="2.4"/>
<ellipse cx="1217.5" cy="605" rx="5.6" ry="11.9" transform="rotate(-28 1217.5 605)" fill="none" stroke="#000" stroke-width="1.9"/>
<path d="M1210 618.8 C1211.2 620.2 1214.4 625.4 1217.5 627.5 C1220.6 629.6 1226.9 630.6 1228.8 631.2" fill="none" stroke="#000" stroke-width="1.9"/>
<path d="M1225 595 L1257.5 600" fill="none" stroke="#000" stroke-width="1.9"/>
<path d="M1230 600 L1256.2 599.4" fill="none" stroke="#000" stroke-width="1.9"/>
<path d="M1228.8 631.2 C1230.2 631.5 1234 633.5 1237.5 632.5 C1241 631.5 1247.1 626.4 1250 625 C1252.9 623.6 1254.2 624.2 1255 624" fill="none" stroke="#000" stroke-width="1.9"/>
<ellipse cx="1238.8" cy="625" rx="6" ry="7.8" transform="rotate(-20 1238.8 625)" fill="none" stroke="#000" stroke-width="2.4"/>
<ellipse cx="1243.1" cy="624" rx="4.5" ry="6" transform="rotate(-20 1243.1 624)" fill="none" stroke="#000" stroke-width="1.9"/>
<path d="M1217.5 607.5 L1230 613.8 L1232.5 626.2" fill="none" stroke="#000" stroke-width="1.9"/>
<path d="M1222.5 603.8 L1235 608.8" fill="none" stroke="#000" stroke-width="1.9"/>
<ellipse cx="1250.6" cy="615.6" rx="1.8" ry="3" transform="rotate(20 1250.6 615.6)" fill="none" stroke="#000" stroke-width="1.9"/>
<path d="M1206.2 582.5 L1206.2 620" fill="none" stroke="#000" stroke-width="1.9"/>
</g>
<g id="p_16_asm_left">
<path d="M858.8 625 C859.4 622.1 862.7 618.2 865 616.2 C867.3 614.3 870.2 612.5 872.8 613.1 C875.3 613.8 879.5 617.1 880.2 620 C881 622.9 879.4 627.7 877.5 630.2 C875.6 632.8 871.7 634.7 869 635.2 C866.3 635.8 863 635.5 861.2 633.8 C859.5 632 858.1 627.9 858.8 625Z" fill="none" stroke="#000" stroke-width="2.4"/>
<ellipse cx="866.9" cy="625.6" rx="5.6" ry="6.2" transform="rotate(-20 866.9 625.6)" fill="none" stroke="#000" stroke-width="1.9"/>
<path d="M865 616.5 L871.2 630" fill="none" stroke="#000" stroke-width="1.9"/>
<path d="M872.8 613.2 L877.5 628.8" fill="none" stroke="#000" stroke-width="1.9"/>
<ellipse cx="881.2" cy="618.1" rx="5.2" ry="10.6" transform="rotate(-25 881.2 618.1)" fill="none" stroke="#000" stroke-width="3.6"/>
<ellipse cx="886.9" cy="615" rx="6" ry="12.5" transform="rotate(-25 886.9 615)" fill="none" stroke="#000" stroke-width="3.6"/>
<path d="M887 599.4 L887.8 599.1 L888.7 599 L889.6 599.2 L890.6 599.6 L891.7 600.1 L892.7 600.9 L893.8 601.8 L894.8 602.9 L895.8 604.2 L896.8 605.5 L897.6 607 L898.4 608.5 L899.1 610.1 L899.6 611.7 L900.1 613.3 L900.4 614.8 L900.6 616.3 L900.6 617.7 L900.5 619 L900.2 620.2 L899.9 621.2 L899.4 622 L898.8 622.7 L898 623.1" fill="none" stroke="#000" stroke-width="3"/>
<path d="M872.8 599.4 C874.2 597.6 877.8 591 881.2 588.8 C884.8 586.5 889.8 585.6 893.8 586 C897.7 586.4 902.6 588.7 905 591.2 C907.4 593.8 907.6 599.6 908.1 601.2" fill="none" stroke="#000" stroke-width="1.9"/>
<path d="M877.5 602.5 C878.8 601 882.1 595.5 885 593.8 C887.9 592 892.1 591.4 895 591.9 C897.9 592.4 901.2 596 902.5 596.9" fill="none" stroke="#000" stroke-width="1.9"/>
<ellipse cx="913.8" cy="592.5" rx="9" ry="10" transform="rotate(-20 913.8 592.5)" fill="none" stroke="#000" stroke-width="4.5"/>
<ellipse cx="915" cy="593.1" rx="5.6" ry="6.5" transform="rotate(-20 915 593.1)" fill="none" stroke="#000" stroke-width="3.4"/>
<ellipse cx="911.9" cy="591.9" rx="2.8" ry="3.2" transform="rotate(0 911.9 591.9)" fill="none" stroke="#000" stroke-width="2.6"/>
<path d="M892.5 601.2 C893.5 602.9 897.7 607.7 898.8 611.2 C899.8 614.8 899.4 619.4 898.8 622.5 C898.1 625.6 895.6 628.8 895 630" fill="none" stroke="#000" stroke-width="1.9"/>
<path d="M908.1 601.2 C910.1 602.1 915.5 604.8 920 606.5 C924.5 608.2 932.5 610.5 935 611.2" fill="none" stroke="#000" stroke-width="1.9"/>
<path d="M902.5 611.2 C903.8 612.7 907.1 618.2 910 620 C912.9 621.8 917.1 621.9 920 621.9 C922.9 621.9 925 619.9 927.5 620 C930 620.1 933.8 622.1 935 622.5" fill="none" stroke="#000" stroke-width="1.9"/>
<path d="M890 637.5 C890.8 638.8 892.5 644 895 645 C897.5 646 902.1 645.8 905 643.8 C907.9 641.7 910 635.6 912.5 632.5 C915 629.4 917.5 626.7 920 625 C922.5 623.3 926.2 622.9 927.5 622.5" fill="none" stroke="#000" stroke-width="1.9"/>
<path d="M895 630 C894.2 631.2 890.9 635 890 637.5 C889.1 640 888.5 642.9 889.4 645 C890.2 647.1 892.4 649.4 895 650 C897.6 650.6 902.3 650.2 905 648.8 C907.7 647.3 909.6 644 911.2 641.2 C912.9 638.5 914.4 634 915 632.5" fill="none" stroke="#000" stroke-width="1.9"/>
<path d="M898.8 622.5 C900.2 621.7 904.4 617.9 907.5 617.5 C910.6 617.1 915.8 619.6 917.5 620" fill="none" stroke="#000" stroke-width="1.9"/>
<path d="M938.8 610.2 L986.2 599.4" fill="none" stroke="#000" stroke-width="1.9"/>
<path d="M938.8 610.2 L943.8 624" fill="none" stroke="#000" stroke-width="1.9"/>
<path d="M927.5 611.9 C928.1 612.8 930.4 615.5 931.2 617.5 C932.1 619.5 932.3 622.7 932.5 623.8" fill="none" stroke="#000" stroke-width="1.9"/>
<path d="M943.8 624 L966.2 623 L994.4 619.8" fill="none" stroke="#000" stroke-width="1.9"/>
<path d="M916.2 633.8 C918.1 632.9 921.5 630.2 927.5 628.8 C933.5 627.3 944.2 625.9 952.5 625.2 C960.8 624.6 970.6 624.4 977.5 625 C984.4 625.6 989.6 626.7 993.8 628.8 C997.9 630.8 998.5 633.1 1002.5 637.5 C1006.5 641.9 1011.2 649.8 1017.5 655 C1023.8 660.2 1031.7 665.2 1040 668.8 C1048.3 672.3 1062.9 675 1067.5 676.2" fill="none" stroke="#000" stroke-width="1.9"/>
<path d="M900 650 C902.9 652.5 910.8 659.6 917.5 665 C924.2 670.4 933.1 677.5 940 682.5 C946.9 687.5 952.5 691 958.8 695 C965 699 972.3 703.5 977.5 706.2 C982.7 709 987.1 710.2 990 711.2 C992.9 712.3 994.2 712.5 995 712.8" fill="none" stroke="#000" stroke-width="1.9"/>
<path d="M910 645 C911.9 647.1 915.8 652 921.2 657.5 C926.7 663 936 672.3 942.5 677.8 C949 683.2 957.1 688.2 960 690.2" fill="none" stroke="#000" stroke-width="1.9"/>
<path d="M916.2 633.8 L920 650 L930 665" fill="none" stroke="#000" stroke-width="1.9"/>
<path d="M930 650 C930.4 649.6 932 647 933.1 646.2 C934.3 645.5 935.7 644.5 940 643.8 C944.3 643 965.9 639.7 970 640 C974.1 640.3 974 644.5 975 646.2 C976 648 977.6 653.4 978.8 655 C979.9 656.6 983.2 659.4 985 660 C986.8 660.6 992 660.4 993.8 660 C995.5 659.6 998.7 656.8 1000 656.2 C1001.3 655.7 1001.8 653.5 1005 655.2 C1008.2 657 1022 668.1 1027.5 671.2 C1033 674.4 1048.1 680.7 1052.5 682.5 C1056.9 684.3 1063.1 685.3 1065 686.5 C1066.9 687.7 1068.8 690.9 1068.8 692.5 C1068.8 694.1 1065.9 699 1065 700 C1064.1 701 1061.7 701.3 1061.2 701.5" fill="none" stroke="#000" stroke-width="1.9"/>
<path d="M936.9 651.5 C940.6 650.9 964.6 646.4 968.8 646.5 C972.9 646.6 971.7 651.1 972.8 652.8 C973.8 654.4 976.1 658.9 977.5 660.2 C978.9 661.6 983.1 664 985 664.5 C986.9 665 991.9 665 993.8 664.5 C995.6 664 997.6 659 1001.2 660.2 C1004.9 661.5 1019.2 672.2 1025 675.2 C1030.8 678.3 1046.8 684.8 1051.2 686.5 C1055.7 688.2 1061.3 689.3 1062.8 690.2 C1064.2 691.2 1063.6 694.4 1063.8 695" fill="none" stroke="#000" stroke-width="1.9"/>
<path d="M930 650 L929.4 655 L933.1 660.2 L952.5 681.5 L960 681.5" fill="none" stroke="#000" stroke-width="1.9"/>
<path d="M936.9 651.5 L958.1 676.2 L965.6 675.2" fill="none" stroke="#000" stroke-width="1.9"/>
<path d="M957.5 692.8 C957.9 691.5 958.5 687.1 960 685 C961.5 682.9 963.8 681.1 966.2 680 C968.8 678.9 972.1 678.1 975 678.5 C977.9 678.9 981.2 680.8 983.8 682.5 C986.2 684.2 988.4 686.5 990 688.8 C991.6 691 992.3 692.2 993.1 696.2 C993.9 700.2 994.5 710 994.8 712.8" fill="none" stroke="#000" stroke-width="1.9"/>
<path d="M993.8 689 L1063.8 691" fill="none" stroke="#000" stroke-width="1.9"/>
<path d="M993.5 695 L1062.8 695.2" fill="none" stroke="#000" stroke-width="1.9"/>
<path d="M995 698.8 L1061.2 701.5" fill="none" stroke="#000" stroke-width="1.9"/>
<ellipse cx="988.1" cy="642.5" rx="4.4" ry="5" transform="rotate(0 988.1 642.5)" fill="none" stroke="#000" stroke-width="1.9"/>
<ellipse cx="988.8" cy="643.1" rx="2.5" ry="3" transform="rotate(0 988.8 643.1)" fill="none" stroke="#000" stroke-width="1.9"/>
<path d="M1067.5 668.8 L1068.8 676.2" fill="none" stroke="#000" stroke-width="1.9"/>
<path d="M993.8 628.8 L1001.2 615" fill="none" stroke="#000" stroke-width="1.9"/>
<path d="M1015 635 L1020 622.5" fill="none" stroke="#000" stroke-width="1.9"/>
<path d="M1001.2 620 L1017.5 626.2" fill="none" stroke="#000" stroke-width="1.9"/>
<path d="M1023.8 627.5 L1027.5 635 L1040 631.2 L1037.5 626.2" fill="none" stroke="#000" stroke-width="1.9"/>
<path d="M895 727.8 L890 731.2 L888.1 742.5 L892.5 744" fill="none" stroke="#000" stroke-width="1.9"/>
<ellipse cx="929.4" cy="690" rx="6.2" ry="9" transform="rotate(30 929.4 690)" fill="none" stroke="#000" stroke-width="3.6"/>
<ellipse cx="926.2" cy="693.1" rx="6.9" ry="10.6" transform="rotate(30 926.2 693.1)" fill="none" stroke="#000" stroke-width="3"/>
<ellipse cx="917.5" cy="700" rx="8.8" ry="13.8" transform="rotate(30 917.5 700)" fill="none" stroke="#000" stroke-width="3.4"/>
<ellipse cx="910" cy="705.6" rx="9.4" ry="14.8" transform="rotate(30 910 705.6)" fill="none" stroke="#000" stroke-width="3.4"/>
<path d="M910 690 C908.3 691 902.7 694.2 900 696.2 C897.3 698.3 894.8 701.5 893.8 702.5" fill="none" stroke="#000" stroke-width="1.9"/>
<path d="M927.5 707.5 C925.8 709.2 920.8 714.8 917.5 717.5 C914.2 720.2 909.2 722.7 907.5 723.8" fill="none" stroke="#000" stroke-width="1.9"/>
<ellipse cx="898.8" cy="712.5" rx="6.9" ry="11.9" transform="rotate(30 898.8 712.5)" fill="none" stroke="#000" stroke-width="3.4"/>
<ellipse cx="893.8" cy="715.6" rx="5.6" ry="10" transform="rotate(30 893.8 715.6)" fill="none" stroke="#000" stroke-width="3"/>
<path d="M885 716.2 L892.5 712.5" fill="none" stroke="#000" stroke-width="1.9"/>
<path d="M887.5 726.2 L895 721.9" fill="none" stroke="#000" stroke-width="1.9"/>
<ellipse cx="865" cy="731.2" rx="20.6" ry="21.2" transform="rotate(0 865 731.2)" fill="none" stroke="#000" stroke-width="3.4"/>
<ellipse cx="866.9" cy="732.5" rx="15.6" ry="16.9" transform="rotate(0 866.9 732.5)" fill="none" stroke="#000" stroke-width="3.4"/>
<ellipse cx="863.8" cy="736.2" rx="11.2" ry="11.9" transform="rotate(0 863.8 736.2)" fill="none" stroke="#000" stroke-width="4.5"/>
<ellipse cx="860" cy="738.8" rx="6.9" ry="7.5" transform="rotate(0 860 738.8)" fill="none" stroke="#000" stroke-width="3.4"/>
<path d="M847.5 740 L853.8 736.2 L861.2 738.8 L861.9 746.2 L855 750 L848.1 747.5Z" fill="none" stroke="#000" stroke-width="2.4"/>
</g>
<g id="p_18_asm_lower">
<path d="M1015 635 C1017.5 636.2 1024.4 639 1030 642.5 C1035.6 646 1041.9 652.2 1048.8 656.2 C1055.6 660.3 1059.8 662.7 1071.2 666.9 C1082.7 671.1 1103.5 677 1117.5 681.2 C1131.5 685.5 1140.8 688.5 1155 692.5 C1169.2 696.5 1195 702.9 1203 705" fill="none" stroke="#000" stroke-width="3.4"/>
<path d="M1067.5 675 L1110 688.8 L1155 702.5 L1197.5 716.2" fill="none" stroke="#000" stroke-width="1.9"/>
<path d="M1203.1 705 L1200 713.8 L1197.5 721.5" fill="none" stroke="#000" stroke-width="1.9"/>
<path d="M995 699.3 L1197.5 721.2" fill="none" stroke="#000" stroke-width="2.6"/>
<path d="M995 706.6 L1225 730" fill="none" stroke="#000" stroke-width="1.4"/>
<path d="M995 716 L1223.8 736.9" fill="none" stroke="#000" stroke-width="2.6"/>
<path d="M1203.1 708.1 L1230 710.2" fill="none" stroke="#000" stroke-width="1.9"/>
<path d="M891.2 725.6 L1202.5 777.5" fill="none" stroke="#000" stroke-width="2.6"/>
<path d="M893 738 L1200 786.9" fill="none" stroke="#000" stroke-width="1.4"/>
<path d="M892.5 742 L1200 796.2" fill="none" stroke="#000" stroke-width="2.6"/>
<path d="M1230 710.2 C1230.8 708.8 1232.1 703.7 1235 701.2 C1237.9 698.8 1244 695.8 1247.5 695.6 C1251 695.4 1254 697.6 1256.2 700 C1258.5 702.4 1260.5 705.8 1261.2 710 C1262 714.2 1261.7 720 1260.6 725 C1259.6 730 1257.2 736 1255 740 C1252.8 744 1248.8 747.5 1247.5 749" fill="none" stroke="#000" stroke-width="1.9"/>
<path d="M1245.6 695.5 L1246.1 695.2 L1246.7 694.9 L1247.3 694.7 L1247.9 694.6 L1248.6 694.5 L1249.4 694.5 L1250.1 694.5 L1250.9 694.7 L1251.7 694.8 L1252.5 695.1 L1253.2 695.4 L1253.9 695.8 L1254.6 696.2 L1255.3 696.6 L1255.9 697.1 L1256.5 697.7 L1257 698.2 L1257.4 698.8 L1257.8 699.4 L1258 700 L1258.2 700.6 L1258.3 701.2 L1258.4 701.8 L1258.3 702.3" fill="none" stroke="#000" stroke-width="4.5"/>
<path d="M1230 710.2 L1225 726.2" fill="none" stroke="#000" stroke-width="1.9"/>
<path d="M1253.1 705 L1247.5 721.9" fill="none" stroke="#000" stroke-width="1.3"/>
<path d="M1236.2 705 L1242.5 704 L1243.1 711.2 L1236.9 712.2Z" fill="none" stroke="#000" stroke-width="1.9"/>
<ellipse cx="1238.1" cy="735.6" rx="13.5" ry="13.1" transform="rotate(0 1238.1 735.6)" fill="none" stroke="#000" stroke-width="2.8"/>
<ellipse cx="1236.9" cy="738.8" rx="8.8" ry="8.2" transform="rotate(0 1236.9 738.8)" fill="none" stroke="#000" stroke-width="1.9"/>
<path d="M1231.2 736.2 L1236.2 732.5 L1243.8 733.8 L1245.6 740 L1241.2 745 L1233.1 743.8Z" fill="none" stroke="#000" stroke-width="1.4"/>
<path d="M1225 740 C1225.8 741.2 1227.5 745.8 1230 747.5 C1232.5 749.2 1237.1 749.8 1240 750 C1242.9 750.2 1246.2 749.2 1247.5 749" fill="none" stroke="#000" stroke-width="1.9"/>
<path d="M1198.8 780 L1203.8 776.2 L1208.8 777.5 L1210.9 786.2 L1210 796.2 L1205 799 L1200 796.2Z" fill="none" stroke="#000" stroke-width="2.2"/>
<path d="M1203.8 776.5 L1205 798.8" fill="none" stroke="#000" stroke-width="1.9"/>
<path d="M1210 783.8 L1221.2 785.2" fill="none" stroke="#000" stroke-width="1.9"/>
<path d="M1210 791.5 L1217.5 792.8" fill="none" stroke="#000" stroke-width="1.9"/>
<ellipse cx="1238.8" cy="770.6" rx="5.6" ry="4" transform="rotate(20 1238.8 770.6)" fill="none" stroke="#000" stroke-width="2.4"/>
<ellipse cx="1240" cy="776.2" rx="8.8" ry="6" transform="rotate(25 1240 776.2)" fill="none" stroke="#000" stroke-width="2.4"/>
<ellipse cx="1240" cy="783.8" rx="11.5" ry="7.5" transform="rotate(25 1240 783.8)" fill="none" stroke="#000" stroke-width="2.4"/>
<ellipse cx="1236.2" cy="791.9" rx="12.5" ry="8.5" transform="rotate(25 1236.2 791.9)" fill="none" stroke="#000" stroke-width="2.4"/>
<ellipse cx="1231.2" cy="797.5" rx="10.6" ry="7.5" transform="rotate(20 1231.2 797.5)" fill="none" stroke="#000" stroke-width="2.4"/>
<ellipse cx="1227.5" cy="808.8" rx="7.8" ry="8.5" transform="rotate(0 1227.5 808.8)" fill="none" stroke="#000" stroke-width="2.6"/>
<ellipse cx="1227.2" cy="812.2" rx="5.8" ry="6.2" transform="rotate(0 1227.2 812.2)" fill="none" stroke="#000" stroke-width="1.9"/>
<path d="M1220 806.2 L1220.2 812.5" fill="none" stroke="#000" stroke-width="1.9"/>
<path d="M1235 806.2 L1235 813.1" fill="none" stroke="#000" stroke-width="1.9"/>
</g>
<g id="p_20_springs">
<path d="M1716.1 233.1 L1716.3 230.4 L1717.6 227.9 L1719.9 225.5 L1723.3 223.4 L1727.5 221.6 L1732.6 220 L1738.3 218.9 L1744.6 218.2 L1751.1 217.9 L1757.8 218 L1764.5 218.6 L1771 219.6 L1777.1 220.9 L1782.7 222.7 L1787.6 224.7 L1791.6 227 L1794.8 229.5 L1796.8 232.1 L1797.9 234.7 L1797.8 237.3" fill="none" stroke="#000" stroke-width="12.4" style="stroke-linecap:butt"/>
<path d="M1716.3 234.1 L1716.1 231.3 L1717.1 228.7 L1719.2 226.2 L1722.4 223.9 L1726.7 221.9 L1731.8 220.3 L1737.6 219 L1744.1 218.2 L1750.9 217.9 L1757.8 218 L1764.8 218.6 L1771.5 219.7 L1777.8 221.1 L1783.5 223 L1788.4 225.1 L1792.4 227.5 L1795.4 230.2 L1797.3 232.9 L1797.9 235.6 L1797.4 238.3" fill="none" stroke="#fff" stroke-width="8.6" style="stroke-linecap:butt"/>
<path d="M1648.1 460.1 L1648.3 457.4 L1649.6 454.9 L1651.9 452.5 L1655.3 450.4 L1659.5 448.6 L1664.6 447 L1670.3 445.9 L1676.6 445.2 L1683.1 444.9 L1689.8 445 L1696.5 445.6 L1703 446.6 L1709.1 447.9 L1714.7 449.7 L1719.6 451.7 L1723.6 454 L1726.8 456.5 L1728.8 459.1 L1729.9 461.7 L1729.8 464.3" fill="none" stroke="#000" stroke-width="12.4" style="stroke-linecap:butt"/>
<path d="M1648.3 461.1 L1648.1 458.3 L1649.1 455.7 L1651.2 453.2 L1654.4 450.9 L1658.7 448.9 L1663.8 447.3 L1669.6 446 L1676.1 445.2 L1682.9 444.9 L1689.8 445 L1696.8 445.6 L1703.5 446.7 L1709.8 448.1 L1715.5 450 L1720.4 452.1 L1724.4 454.5 L1727.4 457.2 L1729.3 459.9 L1729.9 462.6 L1729.4 465.3" fill="none" stroke="#fff" stroke-width="8.6" style="stroke-linecap:butt"/>
<path d="M1714.5 238.5 L1714.4 236.6 L1715.4 235.2 L1717.4 234 L1720.4 233.1 L1724.3 232.4 L1729 232 L1734.4 232 L1740.3 232.5 L1746.5 233.3 L1752.9 234.6 L1759.2 236.4 L1765.4 238.5 L1771.1 241 L1776.4 243.9 L1780.9 247.1 L1784.6 250.6 L1787.3 254.2 L1789.1 258 L1789.8 261.8 L1789.4 265.2" fill="none" stroke="#000" stroke-width="12.4" style="stroke-linecap:butt"/>
<path d="M1714.7 239.4 L1714.4 237.1 L1715 235.6 L1716.8 234.3 L1719.6 233.3 L1723.5 232.5 L1728.3 232 L1733.8 232 L1739.8 232.4 L1746.2 233.3 L1752.9 234.6 L1759.5 236.4 L1765.8 238.7 L1771.8 241.4 L1777.1 244.4 L1781.7 247.8 L1785.3 251.4 L1787.9 255.2 L1789.4 259.1 L1789.7 263.1 L1789.1 266.3" fill="none" stroke="#fff" stroke-width="8.6" style="stroke-linecap:butt"/>
<path d="M1706.2 266.2 L1706.2 264.3 L1707.1 262.9 L1709.1 261.7 L1712.1 260.7 L1716 260.1 L1720.7 259.7 L1726.1 259.7 L1732 260.2 L1738.2 261 L1744.6 262.3 L1750.9 264 L1757.1 266.2 L1762.8 268.7 L1768.1 271.6 L1772.6 274.8 L1776.3 278.2 L1779 281.9 L1780.8 285.6 L1781.5 289.5 L1781.1 292.8" fill="none" stroke="#000" stroke-width="12.4" style="stroke-linecap:butt"/>
<path d="M1706.5 267.1 L1706.1 264.8 L1706.7 263.3 L1708.5 262 L1711.3 260.9 L1715.2 260.2 L1720 259.7 L1725.5 259.7 L1731.5 260.1 L1738 261 L1744.6 262.3 L1751.2 264.1 L1757.5 266.4 L1763.5 269 L1768.8 272.1 L1773.4 275.4 L1777 279.1 L1779.6 282.9 L1781.1 286.8 L1781.4 290.8 L1780.8 293.9" fill="none" stroke="#fff" stroke-width="8.6" style="stroke-linecap:butt"/>
<path d="M1697.9 293.8 L1697.9 292 L1698.8 290.6 L1700.8 289.4 L1703.8 288.4 L1707.7 287.7 L1712.4 287.4 L1717.8 287.4 L1723.7 287.8 L1729.9 288.7 L1736.3 290 L1742.6 291.7 L1748.8 293.9 L1754.5 296.4 L1759.8 299.3 L1764.3 302.5 L1768 305.9 L1770.8 309.6 L1772.5 313.3 L1773.2 317.1 L1772.8 320.5" fill="none" stroke="#000" stroke-width="12.4" style="stroke-linecap:butt"/>
<path d="M1698.2 294.7 L1697.8 292.5 L1698.4 291 L1700.2 289.7 L1703 288.6 L1706.9 287.8 L1711.7 287.4 L1717.2 287.4 L1723.2 287.8 L1729.7 288.7 L1736.3 290 L1742.9 291.8 L1749.2 294.1 L1755.2 296.7 L1760.5 299.8 L1765.1 303.1 L1768.7 306.8 L1771.3 310.6 L1772.8 314.5 L1773.1 318.4 L1772.5 321.6" fill="none" stroke="#fff" stroke-width="8.6" style="stroke-linecap:butt"/>
<path d="M1689.6 321.5 L1689.6 319.7 L1690.5 318.3 L1692.5 317.1 L1695.5 316.1 L1699.4 315.4 L1704.1 315.1 L1709.5 315.1 L1715.4 315.5 L1721.6 316.4 L1728 317.7 L1734.3 319.4 L1740.5 321.6 L1746.2 324.1 L1751.5 327 L1756 330.2 L1759.7 333.6 L1762.5 337.2 L1764.2 341 L1764.9 344.8 L1764.6 348.2" fill="none" stroke="#000" stroke-width="12.4" style="stroke-linecap:butt"/>
<path d="M1689.9 322.4 L1689.5 320.1 L1690.1 318.7 L1691.9 317.4 L1694.7 316.3 L1698.6 315.5 L1703.4 315.1 L1708.9 315.1 L1714.9 315.5 L1721.4 316.3 L1728 317.7 L1734.6 319.5 L1740.9 321.7 L1746.9 324.4 L1752.2 327.4 L1756.8 330.8 L1760.4 334.4 L1763 338.2 L1764.5 342.2 L1764.8 346.1 L1764.2 349.3" fill="none" stroke="#fff" stroke-width="8.6" style="stroke-linecap:butt"/>
<path d="M1681.3 349.2 L1681.3 347.3 L1682.2 346 L1684.2 344.8 L1687.2 343.8 L1691.1 343.1 L1695.9 342.7 L1701.2 342.8 L1707.1 343.2 L1713.3 344.1 L1719.7 345.4 L1726 347.1 L1732.2 349.2 L1738 351.8 L1743.2 354.7 L1747.7 357.9 L1751.4 361.3 L1754.2 364.9 L1755.9 368.7 L1756.6 372.5 L1756.3 375.9" fill="none" stroke="#000" stroke-width="12.4" style="stroke-linecap:butt"/>
<path d="M1681.6 350.1 L1681.2 347.8 L1681.8 346.4 L1683.6 345.1 L1686.4 344 L1690.3 343.2 L1695.1 342.8 L1700.6 342.8 L1706.6 343.2 L1713.1 344 L1719.7 345.4 L1726.3 347.2 L1732.6 349.4 L1738.6 352.1 L1743.9 355.1 L1748.5 358.5 L1752.1 362.1 L1754.7 365.9 L1756.2 369.9 L1756.6 373.8 L1755.9 377" fill="none" stroke="#fff" stroke-width="8.6" style="stroke-linecap:butt"/>
<path d="M1673 376.9 L1673 375 L1673.9 373.7 L1675.9 372.4 L1678.9 371.5 L1682.8 370.8 L1687.6 370.4 L1692.9 370.5 L1698.8 370.9 L1705 371.8 L1711.4 373 L1717.7 374.8 L1723.9 376.9 L1729.7 379.5 L1734.9 382.3 L1739.4 385.5 L1743.1 389 L1745.9 392.6 L1747.6 396.4 L1748.3 400.2 L1748 403.6" fill="none" stroke="#000" stroke-width="12.4" style="stroke-linecap:butt"/>
<path d="M1673.3 377.8 L1672.9 375.5 L1673.5 374.1 L1675.3 372.7 L1678.2 371.7 L1682 370.9 L1686.8 370.5 L1692.3 370.4 L1698.3 370.8 L1704.8 371.7 L1711.4 373 L1718 374.8 L1724.4 377.1 L1730.3 379.8 L1735.6 382.8 L1740.2 386.2 L1743.8 389.8 L1746.4 393.6 L1747.9 397.5 L1748.3 401.5 L1747.6 404.7" fill="none" stroke="#fff" stroke-width="8.6" style="stroke-linecap:butt"/>
<path d="M1664.7 404.6 L1664.7 402.7 L1665.6 401.3 L1667.6 400.1 L1670.6 399.2 L1674.6 398.5 L1679.3 398.1 L1684.6 398.1 L1690.5 398.6 L1696.7 399.4 L1703.1 400.7 L1709.5 402.5 L1715.6 404.6 L1721.4 407.1 L1726.6 410 L1731.1 413.2 L1734.8 416.7 L1737.6 420.3 L1739.3 424.1 L1740 427.9 L1739.7 431.3" fill="none" stroke="#000" stroke-width="12.4" style="stroke-linecap:butt"/>
<path d="M1665 405.5 L1664.6 403.2 L1665.2 401.7 L1667 400.4 L1669.9 399.4 L1673.7 398.6 L1678.5 398.1 L1684 398.1 L1690.1 398.5 L1696.5 399.4 L1703.1 400.7 L1709.7 402.5 L1716.1 404.8 L1722 407.5 L1727.3 410.5 L1731.9 413.9 L1735.5 417.5 L1738.2 421.3 L1739.6 425.2 L1740 429.2 L1739.3 432.4" fill="none" stroke="#fff" stroke-width="8.6" style="stroke-linecap:butt"/>
<path d="M1656.4 432.2 L1656.4 430.4 L1657.3 429 L1659.3 427.8 L1662.3 426.8 L1666.3 426.2 L1671 425.8 L1676.3 425.8 L1682.2 426.3 L1688.4 427.1 L1694.8 428.4 L1701.2 430.1 L1707.3 432.3 L1713.1 434.8 L1718.3 437.7 L1722.8 440.9 L1726.5 444.3 L1729.3 448 L1731 451.7 L1731.7 455.5 L1731.4 458.9" fill="none" stroke="#000" stroke-width="12.4" style="stroke-linecap:butt"/>
<path d="M1656.7 433.1 L1656.3 430.9 L1656.9 429.4 L1658.7 428.1 L1661.6 427 L1665.4 426.3 L1670.2 425.8 L1675.7 425.8 L1681.8 426.2 L1688.2 427.1 L1694.8 428.4 L1701.4 430.2 L1707.8 432.5 L1713.7 435.1 L1719 438.2 L1723.6 441.5 L1727.2 445.2 L1729.9 449 L1731.4 452.9 L1731.7 456.9 L1731 460" fill="none" stroke="#fff" stroke-width="8.6" style="stroke-linecap:butt"/>
<path d="M1798 234.4 L1797.7 237.7 L1796.3 240.5 L1793.8 243.2 L1790.4 245.6 L1786.1 247.8 L1780.9 249.6 L1775.1 251 L1768.8 252 L1762.1 252.6 L1755.3 252.7 L1748.5 252.5 L1742 251.8 L1735.8 250.7 L1730.1 249.3 L1725.1 247.5 L1721 245.5 L1717.8 243.3 L1715.6 241 L1714.5 238.7 L1714.4 236.7" fill="none" stroke="#000" stroke-width="12.4" style="stroke-linecap:butt"/>
<path d="M1798 232.9 L1797.9 236.7 L1796.8 239.7 L1794.6 242.5 L1791.3 245.1 L1787 247.4 L1781.7 249.3 L1775.8 250.8 L1769.3 251.9 L1762.4 252.6 L1755.3 252.7 L1748.3 252.4 L1741.5 251.7 L1735.1 250.5 L1729.3 249 L1724.3 247.1 L1720.2 245 L1717.1 242.7 L1715.2 240.3 L1714.4 237.9 L1714.6 236.2" fill="none" stroke="#fff" stroke-width="8.6" style="stroke-linecap:butt"/>
<path d="M1789.8 262.1 L1789.4 265.4 L1788 268.2 L1785.6 270.9 L1782.1 273.3 L1777.8 275.4 L1772.6 277.2 L1766.8 278.7 L1760.5 279.7 L1753.8 280.3 L1747 280.4 L1740.3 280.2 L1733.7 279.5 L1727.5 278.4 L1721.8 276.9 L1716.9 275.2 L1712.7 273.2 L1709.5 271 L1707.3 268.7 L1706.2 266.3 L1706.1 264.4" fill="none" stroke="#000" stroke-width="12.4" style="stroke-linecap:butt"/>
<path d="M1789.7 260.6 L1789.6 264.4 L1788.5 267.4 L1786.3 270.2 L1783 272.8 L1778.7 275.1 L1773.4 277 L1767.5 278.5 L1761 279.6 L1754.1 280.3 L1747 280.4 L1740 280.1 L1733.2 279.4 L1726.8 278.2 L1721 276.7 L1716 274.8 L1711.9 272.7 L1708.8 270.4 L1706.9 268 L1706.1 265.5 L1706.3 263.9" fill="none" stroke="#fff" stroke-width="8.6" style="stroke-linecap:butt"/>
<path d="M1781.5 289.8 L1781.1 293.1 L1779.7 295.9 L1777.3 298.6 L1773.8 301 L1769.5 303.1 L1764.3 304.9 L1758.5 306.3 L1752.2 307.4 L1745.6 308 L1738.7 308.1 L1732 307.8 L1725.4 307.1 L1719.2 306.1 L1713.5 304.6 L1708.6 302.9 L1704.4 300.9 L1701.2 298.7 L1699 296.4 L1697.9 294 L1697.8 292.1" fill="none" stroke="#000" stroke-width="12.4" style="stroke-linecap:butt"/>
<path d="M1781.4 288.3 L1781.3 292.1 L1780.2 295.1 L1778 297.9 L1774.7 300.5 L1770.4 302.7 L1765.2 304.7 L1759.2 306.2 L1752.7 307.3 L1745.8 307.9 L1738.7 308.1 L1731.7 307.8 L1724.9 307.1 L1718.5 305.9 L1712.7 304.4 L1707.7 302.5 L1703.6 300.4 L1700.5 298.1 L1698.6 295.7 L1697.8 293.2 L1698 291.5" fill="none" stroke="#fff" stroke-width="8.6" style="stroke-linecap:butt"/>
<path d="M1773.2 317.5 L1772.8 320.8 L1771.4 323.6 L1769 326.2 L1765.5 328.7 L1761.2 330.8 L1756 332.6 L1750.2 334 L1743.9 335.1 L1737.3 335.6 L1730.5 335.8 L1723.7 335.5 L1717.1 334.8 L1710.9 333.7 L1705.2 332.3 L1700.3 330.6 L1696.1 328.6 L1692.9 326.4 L1690.8 324.1 L1689.7 321.7 L1689.5 319.8" fill="none" stroke="#000" stroke-width="12.4" style="stroke-linecap:butt"/>
<path d="M1773.1 316 L1773 319.8 L1771.9 322.7 L1769.7 325.6 L1766.4 328.1 L1762.1 330.4 L1756.9 332.4 L1750.9 333.9 L1744.4 335 L1737.5 335.6 L1730.5 335.8 L1723.4 335.5 L1716.6 334.8 L1710.2 333.6 L1704.4 332.1 L1699.4 330.2 L1695.3 328.1 L1692.2 325.8 L1690.3 323.4 L1689.5 320.9 L1689.7 319.2" fill="none" stroke="#fff" stroke-width="8.6" style="stroke-linecap:butt"/>
<path d="M1764.9 345.1 L1764.5 348.4 L1763.1 351.3 L1760.7 353.9 L1757.2 356.3 L1752.9 358.5 L1747.7 360.3 L1741.9 361.7 L1735.6 362.7 L1729 363.3 L1722.2 363.5 L1715.4 363.2 L1708.8 362.5 L1702.6 361.4 L1696.9 360 L1692 358.2 L1687.8 356.2 L1684.6 354.1 L1682.5 351.8 L1681.4 349.4 L1681.2 347.5" fill="none" stroke="#000" stroke-width="12.4" style="stroke-linecap:butt"/>
<path d="M1764.8 343.7 L1764.7 347.5 L1763.7 350.4 L1761.4 353.2 L1758.1 355.8 L1753.8 358.1 L1748.6 360 L1742.6 361.6 L1736.1 362.7 L1729.2 363.3 L1722.2 363.5 L1715.1 363.2 L1708.3 362.4 L1701.9 361.3 L1696.1 359.7 L1691.1 357.9 L1687 355.8 L1684 353.5 L1682 351 L1681.2 348.6 L1681.4 346.9" fill="none" stroke="#fff" stroke-width="8.6" style="stroke-linecap:butt"/>
<path d="M1756.6 372.8 L1756.2 376.1 L1754.8 379 L1752.4 381.6 L1748.9 384 L1744.6 386.2 L1739.4 388 L1733.6 389.4 L1727.3 390.4 L1720.7 391 L1713.9 391.2 L1707.1 390.9 L1700.5 390.2 L1694.3 389.1 L1688.6 387.7 L1683.7 385.9 L1679.5 383.9 L1676.3 381.7 L1674.2 379.4 L1673.1 377.1 L1673 375.1" fill="none" stroke="#000" stroke-width="12.4" style="stroke-linecap:butt"/>
<path d="M1756.5 371.4 L1756.4 375.1 L1755.4 378.1 L1753.1 380.9 L1749.8 383.5 L1745.5 385.8 L1740.3 387.7 L1734.3 389.3 L1727.8 390.4 L1720.9 391 L1713.9 391.2 L1706.8 390.9 L1700 390.1 L1693.6 389 L1687.8 387.4 L1682.8 385.6 L1678.7 383.4 L1675.7 381.1 L1673.7 378.7 L1672.9 376.3 L1673.1 374.6" fill="none" stroke="#fff" stroke-width="8.6" style="stroke-linecap:butt"/>
<path d="M1748.3 400.5 L1747.9 403.8 L1746.5 406.6 L1744.1 409.3 L1740.7 411.7 L1736.3 413.9 L1731.2 415.7 L1725.3 417.1 L1719 418.1 L1712.4 418.7 L1705.6 418.8 L1698.8 418.6 L1692.2 417.9 L1686 416.8 L1680.4 415.4 L1675.4 413.6 L1671.3 411.6 L1668.1 409.4 L1665.9 407.1 L1664.8 404.8 L1664.7 402.8" fill="none" stroke="#000" stroke-width="12.4" style="stroke-linecap:butt"/>
<path d="M1748.2 399 L1748.1 402.8 L1747.1 405.8 L1744.8 408.6 L1741.5 411.2 L1737.2 413.5 L1732 415.4 L1726 416.9 L1719.5 418 L1712.6 418.7 L1705.6 418.8 L1698.5 418.5 L1691.7 417.8 L1685.3 416.6 L1679.5 415.1 L1674.5 413.2 L1670.4 411.1 L1667.4 408.8 L1665.4 406.4 L1664.7 404 L1664.9 402.3" fill="none" stroke="#fff" stroke-width="8.6" style="stroke-linecap:butt"/>
<path d="M1740 428.2 L1739.6 431.5 L1738.2 434.3 L1735.8 437 L1732.4 439.4 L1728 441.5 L1722.9 443.3 L1717.1 444.8 L1710.7 445.8 L1704.1 446.4 L1697.3 446.5 L1690.5 446.2 L1683.9 445.6 L1677.7 444.5 L1672.1 443 L1667.1 441.3 L1663 439.3 L1659.8 437.1 L1657.6 434.8 L1656.5 432.4 L1656.4 430.5" fill="none" stroke="#000" stroke-width="12.4" style="stroke-linecap:butt"/>
<path d="M1739.9 426.7 L1739.8 430.5 L1738.8 433.5 L1736.6 436.3 L1733.2 438.9 L1728.9 441.2 L1723.7 443.1 L1717.7 444.6 L1711.2 445.7 L1704.4 446.4 L1697.3 446.5 L1690.2 446.2 L1683.4 445.5 L1677 444.3 L1671.3 442.8 L1666.2 440.9 L1662.1 438.8 L1659.1 436.5 L1657.1 434.1 L1656.4 431.6 L1656.6 430" fill="none" stroke="#fff" stroke-width="8.6" style="stroke-linecap:butt"/>
<path d="M1731.7 455.9 L1731.3 459.2 L1729.9 462 L1727.5 464.7 L1724.1 467.1 L1719.7 469.2 L1714.6 471 L1708.8 472.4 L1702.4 473.5 L1695.8 474.1 L1689 474.2 L1682.2 473.9 L1675.6 473.2 L1669.4 472.2 L1663.8 470.7 L1658.8 469 L1654.7 467 L1651.5 464.8 L1649.3 462.5 L1648.2 460.1 L1648.1 458.2" fill="none" stroke="#000" stroke-width="12.4" style="stroke-linecap:butt"/>
<path d="M1731.6 454.4 L1731.5 458.2 L1730.5 461.2 L1728.3 464 L1724.9 466.5 L1720.6 468.8 L1715.4 470.8 L1709.5 472.3 L1702.9 473.4 L1696.1 474 L1689 474.2 L1682 473.9 L1675.1 473.2 L1668.7 472 L1663 470.5 L1657.9 468.6 L1653.8 466.5 L1650.8 464.2 L1648.8 461.8 L1648.1 459.3 L1648.3 457.6" fill="none" stroke="#fff" stroke-width="8.6" style="stroke-linecap:butt"/>
<path d="M1938.1 349.1 L1938.3 346.4 L1939.6 343.9 L1941.9 341.5 L1945.3 339.4 L1949.5 337.6 L1954.6 336 L1960.3 334.9 L1966.6 334.2 L1973.1 333.9 L1979.8 334 L1986.5 334.6 L1993 335.6 L1999.1 336.9 L2004.7 338.7 L2009.6 340.7 L2013.6 343 L2016.8 345.5 L2018.8 348.1 L2019.9 350.7 L2019.8 353.3" fill="none" stroke="#000" stroke-width="12.4" style="stroke-linecap:butt"/>
<path d="M1938.3 350.1 L1938.1 347.3 L1939.1 344.7 L1941.2 342.2 L1944.4 339.9 L1948.7 337.9 L1953.8 336.3 L1959.6 335 L1966.1 334.2 L1972.9 333.9 L1979.8 334 L1986.8 334.6 L1993.5 335.7 L1999.8 337.1 L2005.5 339 L2010.4 341.1 L2014.4 343.5 L2017.4 346.2 L2019.3 348.9 L2019.9 351.6 L2019.4 354.3" fill="none" stroke="#fff" stroke-width="8.6" style="stroke-linecap:butt"/>
<path d="M1884.1 551.6 L1884.3 548.9 L1885.6 546.4 L1887.9 544 L1891.3 541.9 L1895.5 540.1 L1900.6 538.5 L1906.3 537.4 L1912.6 536.7 L1919.1 536.4 L1925.8 536.5 L1932.5 537.1 L1939 538.1 L1945.1 539.4 L1950.7 541.2 L1955.6 543.2 L1959.6 545.5 L1962.8 548 L1964.8 550.6 L1965.9 553.2 L1965.8 555.8" fill="none" stroke="#000" stroke-width="12.4" style="stroke-linecap:butt"/>
<path d="M1884.3 552.6 L1884.1 549.8 L1885.1 547.2 L1887.2 544.7 L1890.4 542.4 L1894.7 540.4 L1899.8 538.8 L1905.6 537.5 L1912.1 536.7 L1918.9 536.4 L1925.8 536.5 L1932.8 537.1 L1939.5 538.2 L1945.8 539.6 L1951.5 541.5 L1956.4 543.6 L1960.4 546 L1963.4 548.7 L1965.3 551.4 L1965.9 554.1 L1965.4 556.8" fill="none" stroke="#fff" stroke-width="8.6" style="stroke-linecap:butt"/>
<path d="M1936.6 354.6 L1936.6 352.7 L1937.6 351.4 L1939.6 350.2 L1942.7 349.2 L1946.6 348.5 L1951.4 348.2 L1956.8 348.3 L1962.7 348.7 L1968.9 349.6 L1975.3 350.9 L1981.7 352.6 L1987.9 354.8 L1993.7 357.4 L1999 360.3 L2003.5 363.5 L2007.3 366.9 L2010.1 370.6 L2011.8 374.4 L2012.5 378.2 L2012.2 381.6" fill="none" stroke="#000" stroke-width="12.4" style="stroke-linecap:butt"/>
<path d="M1936.9 355.5 L1936.5 353.2 L1937.2 351.8 L1939 350.5 L1941.9 349.4 L1945.8 348.6 L1950.6 348.2 L1956.1 348.2 L1962.2 348.7 L1968.7 349.5 L1975.3 350.9 L1982 352.7 L1988.4 355 L1994.3 357.7 L1999.7 360.7 L2004.3 364.1 L2008 367.8 L2010.6 371.6 L2012.2 375.5 L2012.5 379.5 L2011.9 382.7" fill="none" stroke="#fff" stroke-width="8.6" style="stroke-linecap:butt"/>
<path d="M1929.1 382.7 L1929.1 380.8 L1930.1 379.5 L1932.1 378.3 L1935.2 377.3 L1939.1 376.7 L1943.9 376.3 L1949.3 376.4 L1955.2 376.8 L1961.4 377.7 L1967.8 379 L1974.2 380.8 L1980.4 382.9 L1986.2 385.5 L1991.5 388.4 L1996 391.6 L1999.8 395.1 L2002.6 398.7 L2004.3 402.5 L2005 406.3 L2004.7 409.7" fill="none" stroke="#000" stroke-width="12.4" style="stroke-linecap:butt"/>
<path d="M1929.4 383.6 L1929 381.3 L1929.7 379.9 L1931.5 378.6 L1934.4 377.5 L1938.3 376.8 L1943.1 376.4 L1948.6 376.4 L1954.7 376.8 L1961.2 377.7 L1967.8 379 L1974.5 380.8 L1980.9 383.1 L1986.8 385.8 L1992.2 388.9 L1996.8 392.2 L2000.5 395.9 L2003.1 399.7 L2004.7 403.7 L2005 407.6 L2004.4 410.8" fill="none" stroke="#fff" stroke-width="8.6" style="stroke-linecap:butt"/>
<path d="M1921.6 410.8 L1921.6 409 L1922.6 407.6 L1924.6 406.4 L1927.7 405.5 L1931.6 404.8 L1936.4 404.5 L1941.8 404.5 L1947.7 405 L1953.9 405.8 L1960.3 407.1 L1966.7 408.9 L1972.9 411.1 L1978.7 413.6 L1984 416.5 L1988.5 419.7 L1992.3 423.2 L1995.1 426.8 L1996.8 430.6 L1997.5 434.4 L1997.2 437.9" fill="none" stroke="#000" stroke-width="12.4" style="stroke-linecap:butt"/>
<path d="M1921.9 411.7 L1921.5 409.4 L1922.2 408 L1924 406.7 L1926.9 405.7 L1930.8 404.9 L1935.6 404.5 L1941.1 404.5 L1947.2 404.9 L1953.7 405.8 L1960.3 407.1 L1967 409 L1973.4 411.2 L1979.3 413.9 L1984.7 417 L1989.3 420.4 L1993 424 L1995.6 427.8 L1997.2 431.8 L1997.5 435.8 L1996.9 438.9" fill="none" stroke="#fff" stroke-width="8.6" style="stroke-linecap:butt"/>
<path d="M1914.1 438.9 L1914.1 437.1 L1915.1 435.7 L1917.1 434.5 L1920.2 433.6 L1924.1 432.9 L1928.9 432.6 L1934.3 432.6 L1940.2 433.1 L1946.4 434 L1952.8 435.3 L1959.2 437 L1965.4 439.2 L1971.2 441.7 L1976.5 444.6 L1981 447.9 L1984.8 451.3 L1987.6 455 L1989.3 458.7 L1990 462.6 L1989.7 466" fill="none" stroke="#000" stroke-width="12.4" style="stroke-linecap:butt"/>
<path d="M1914.4 439.8 L1914 437.6 L1914.7 436.1 L1916.5 434.8 L1919.4 433.8 L1923.3 433 L1928.1 432.6 L1933.6 432.6 L1939.7 433 L1946.2 433.9 L1952.8 435.3 L1959.5 437.1 L1965.9 439.4 L1971.8 442.1 L1977.2 445.1 L1981.8 448.5 L1985.5 452.1 L1988.1 456 L1989.7 459.9 L1990 463.9 L1989.4 467.1" fill="none" stroke="#fff" stroke-width="8.6" style="stroke-linecap:butt"/>
<path d="M1906.6 467.1 L1906.6 465.2 L1907.6 463.9 L1909.6 462.7 L1912.7 461.7 L1916.6 461 L1921.4 460.7 L1926.8 460.8 L1932.7 461.2 L1938.9 462.1 L1945.3 463.4 L1951.7 465.1 L1957.9 467.3 L1963.7 469.9 L1969 472.8 L1973.5 476 L1977.3 479.4 L1980.1 483.1 L1981.8 486.9 L1982.5 490.7 L1982.2 494.1" fill="none" stroke="#000" stroke-width="12.4" style="stroke-linecap:butt"/>
<path d="M1906.9 468 L1906.5 465.7 L1907.2 464.3 L1909 463 L1911.9 461.9 L1915.8 461.1 L1920.6 460.7 L1926.1 460.7 L1932.2 461.2 L1938.7 462 L1945.3 463.4 L1952 465.2 L1958.4 467.5 L1964.3 470.2 L1969.7 473.2 L1974.3 476.6 L1978 480.3 L1980.6 484.1 L1982.2 488 L1982.5 492 L1981.9 495.2" fill="none" stroke="#fff" stroke-width="8.6" style="stroke-linecap:butt"/>
<path d="M1899.1 495.2 L1899.1 493.3 L1900.1 492 L1902.1 490.8 L1905.2 489.8 L1909.1 489.2 L1913.9 488.8 L1919.3 488.9 L1925.2 489.3 L1931.4 490.2 L1937.8 491.5 L1944.2 493.3 L1950.4 495.4 L1956.2 498 L1961.5 500.9 L1966 504.1 L1969.8 507.6 L1972.6 511.2 L1974.3 515 L1975 518.8 L1974.7 522.2" fill="none" stroke="#000" stroke-width="12.4" style="stroke-linecap:butt"/>
<path d="M1899.4 496.1 L1899 493.8 L1899.7 492.4 L1901.5 491.1 L1904.4 490 L1908.3 489.3 L1913.1 488.9 L1918.6 488.9 L1924.7 489.3 L1931.2 490.2 L1937.8 491.5 L1944.5 493.3 L1950.9 495.6 L1956.8 498.3 L1962.2 501.4 L1966.8 504.7 L1970.5 508.4 L1973.1 512.2 L1974.7 516.2 L1975 520.1 L1974.4 523.3" fill="none" stroke="#fff" stroke-width="8.6" style="stroke-linecap:butt"/>
<path d="M1891.6 523.3 L1891.6 521.5 L1892.6 520.1 L1894.6 518.9 L1897.7 518 L1901.6 517.3 L1906.4 517 L1911.8 517 L1917.7 517.5 L1923.9 518.3 L1930.3 519.6 L1936.7 521.4 L1942.9 523.6 L1948.7 526.1 L1954 529 L1958.5 532.2 L1962.3 535.7 L1965.1 539.3 L1966.8 543.1 L1967.5 546.9 L1967.2 550.4" fill="none" stroke="#000" stroke-width="12.4" style="stroke-linecap:butt"/>
<path d="M1891.9 524.2 L1891.5 521.9 L1892.2 520.5 L1894 519.2 L1896.9 518.2 L1900.8 517.4 L1905.6 517 L1911.1 517 L1917.2 517.4 L1923.7 518.3 L1930.3 519.6 L1937 521.5 L1943.4 523.7 L1949.3 526.4 L1954.7 529.5 L1959.3 532.9 L1963 536.5 L1965.6 540.3 L1967.2 544.3 L1967.5 548.3 L1966.9 551.4" fill="none" stroke="#fff" stroke-width="8.6" style="stroke-linecap:butt"/>
<path d="M2020 350.4 L2019.7 353.7 L2018.3 356.5 L2015.9 359.2 L2012.4 361.6 L2008.1 363.8 L2003 365.6 L1997.2 367 L1990.9 368 L1984.2 368.6 L1977.4 368.8 L1970.6 368.5 L1964.1 367.8 L1957.9 366.7 L1952.2 365.3 L1947.3 363.6 L1943.1 361.6 L1939.9 359.4 L1937.8 357.1 L1936.7 354.8 L1936.6 352.8" fill="none" stroke="#000" stroke-width="12.4" style="stroke-linecap:butt"/>
<path d="M2019.9 348.9 L2019.9 352.7 L2018.8 355.7 L2016.6 358.5 L2013.3 361.1 L2009 363.4 L2003.8 365.3 L1997.8 366.9 L1991.3 368 L1984.5 368.6 L1977.4 368.8 L1970.4 368.5 L1963.6 367.8 L1957.2 366.6 L1951.4 365.1 L1946.4 363.2 L1942.3 361.1 L1939.3 358.8 L1937.3 356.4 L1936.6 353.9 L1936.8 352.3" fill="none" stroke="#fff" stroke-width="8.6" style="stroke-linecap:butt"/>
<path d="M2012.5 378.5 L2012.2 381.8 L2010.8 384.7 L2008.4 387.3 L2004.9 389.8 L2000.6 391.9 L1995.5 393.7 L1989.7 395.1 L1983.4 396.2 L1976.7 396.8 L1969.9 396.9 L1963.1 396.6 L1956.6 396 L1950.4 394.9 L1944.7 393.4 L1939.8 391.7 L1935.6 389.7 L1932.4 387.5 L1930.3 385.2 L1929.2 382.9 L1929.1 380.9" fill="none" stroke="#000" stroke-width="12.4" style="stroke-linecap:butt"/>
<path d="M2012.4 377.1 L2012.4 380.9 L2011.3 383.8 L2009.1 386.6 L2005.8 389.2 L2001.5 391.5 L1996.3 393.5 L1990.3 395 L1983.8 396.1 L1977 396.7 L1969.9 396.9 L1962.9 396.6 L1956.1 395.9 L1949.7 394.7 L1943.9 393.2 L1938.9 391.3 L1934.8 389.2 L1931.8 386.9 L1929.8 384.5 L1929.1 382.1 L1929.3 380.4" fill="none" stroke="#fff" stroke-width="8.6" style="stroke-linecap:butt"/>
<path d="M2005 406.6 L2004.7 410 L2003.3 412.8 L2000.9 415.5 L1997.4 417.9 L1993.1 420 L1988 421.8 L1982.2 423.3 L1975.9 424.3 L1969.2 424.9 L1962.4 425 L1955.6 424.8 L1949.1 424.1 L1942.9 423 L1937.2 421.6 L1932.3 419.8 L1928.1 417.8 L1924.9 415.7 L1922.8 413.4 L1921.7 411 L1921.6 409.1" fill="none" stroke="#000" stroke-width="12.4" style="stroke-linecap:butt"/>
<path d="M2004.9 405.2 L2004.9 409 L2003.8 411.9 L2001.6 414.8 L1998.3 417.3 L1994 419.6 L1988.8 421.6 L1982.8 423.1 L1976.3 424.2 L1969.5 424.9 L1962.4 425 L1955.4 424.7 L1948.6 424 L1942.2 422.9 L1936.4 421.3 L1931.4 419.5 L1927.3 417.4 L1924.3 415.1 L1922.3 412.6 L1921.6 410.2 L1921.8 408.5" fill="none" stroke="#fff" stroke-width="8.6" style="stroke-linecap:butt"/>
<path d="M1997.5 434.8 L1997.2 438.1 L1995.8 440.9 L1993.4 443.6 L1989.9 446 L1985.6 448.2 L1980.5 450 L1974.7 451.4 L1968.4 452.4 L1961.7 453 L1954.9 453.2 L1948.1 452.9 L1941.6 452.2 L1935.4 451.1 L1929.7 449.7 L1924.8 448 L1920.6 446 L1917.4 443.8 L1915.3 441.5 L1914.2 439.1 L1914.1 437.2" fill="none" stroke="#000" stroke-width="12.4" style="stroke-linecap:butt"/>
<path d="M1997.4 433.3 L1997.4 437.1 L1996.3 440.1 L1994.1 442.9 L1990.8 445.5 L1986.5 447.8 L1981.3 449.7 L1975.3 451.2 L1968.8 452.3 L1962 453 L1954.9 453.2 L1947.9 452.9 L1941.1 452.1 L1934.7 451 L1928.9 449.4 L1923.9 447.6 L1919.8 445.5 L1916.8 443.2 L1914.8 440.8 L1914.1 438.3 L1914.3 436.7" fill="none" stroke="#fff" stroke-width="8.6" style="stroke-linecap:butt"/>
<path d="M1990 462.9 L1989.7 466.2 L1988.3 469 L1985.9 471.7 L1982.4 474.1 L1978.1 476.3 L1973 478.1 L1967.2 479.5 L1960.9 480.5 L1954.2 481.1 L1947.4 481.3 L1940.6 481 L1934.1 480.3 L1927.9 479.2 L1922.2 477.8 L1917.3 476.1 L1913.1 474.1 L1909.9 471.9 L1907.8 469.6 L1906.7 467.3 L1906.6 465.3" fill="none" stroke="#000" stroke-width="12.4" style="stroke-linecap:butt"/>
<path d="M1989.9 461.4 L1989.9 465.2 L1988.8 468.2 L1986.6 471 L1983.3 473.6 L1979 475.9 L1973.8 477.8 L1967.8 479.4 L1961.3 480.5 L1954.5 481.1 L1947.4 481.3 L1940.4 481 L1933.6 480.3 L1927.2 479.1 L1921.4 477.6 L1916.4 475.7 L1912.3 473.6 L1909.3 471.3 L1907.3 468.9 L1906.6 466.4 L1906.8 464.8" fill="none" stroke="#fff" stroke-width="8.6" style="stroke-linecap:butt"/>
<path d="M1982.5 491 L1982.2 494.3 L1980.8 497.2 L1978.4 499.8 L1974.9 502.3 L1970.6 504.4 L1965.5 506.2 L1959.7 507.6 L1953.4 508.7 L1946.7 509.3 L1939.9 509.4 L1933.1 509.1 L1926.6 508.5 L1920.4 507.4 L1914.7 505.9 L1909.8 504.2 L1905.6 502.2 L1902.4 500 L1900.3 497.7 L1899.2 495.4 L1899.1 493.4" fill="none" stroke="#000" stroke-width="12.4" style="stroke-linecap:butt"/>
<path d="M1982.4 489.6 L1982.4 493.4 L1981.3 496.3 L1979.1 499.1 L1975.8 501.7 L1971.5 504 L1966.3 506 L1960.3 507.5 L1953.8 508.6 L1947 509.2 L1939.9 509.4 L1932.9 509.1 L1926.1 508.4 L1919.7 507.2 L1913.9 505.7 L1908.9 503.8 L1904.8 501.7 L1901.8 499.4 L1899.8 497 L1899.1 494.6 L1899.3 492.9" fill="none" stroke="#fff" stroke-width="8.6" style="stroke-linecap:butt"/>
<path d="M1975 519.1 L1974.7 522.5 L1973.3 525.3 L1970.9 528 L1967.4 530.4 L1963.1 532.5 L1958 534.3 L1952.2 535.8 L1945.9 536.8 L1939.2 537.4 L1932.4 537.5 L1925.6 537.3 L1919.1 536.6 L1912.9 535.5 L1907.2 534.1 L1902.3 532.3 L1898.1 530.3 L1894.9 528.2 L1892.8 525.9 L1891.7 523.5 L1891.6 521.6" fill="none" stroke="#000" stroke-width="12.4" style="stroke-linecap:butt"/>
<path d="M1974.9 517.7 L1974.9 521.5 L1973.8 524.4 L1971.6 527.3 L1968.3 529.8 L1964 532.1 L1958.8 534.1 L1952.8 535.6 L1946.3 536.7 L1939.5 537.4 L1932.4 537.5 L1925.4 537.2 L1918.6 536.5 L1912.2 535.4 L1906.4 533.8 L1901.4 532 L1897.3 529.9 L1894.3 527.6 L1892.3 525.1 L1891.6 522.7 L1891.8 521" fill="none" stroke="#fff" stroke-width="8.6" style="stroke-linecap:butt"/>
<path d="M1967.5 547.3 L1967.2 550.6 L1965.8 553.4 L1963.4 556.1 L1959.9 558.5 L1955.6 560.7 L1950.5 562.5 L1944.7 563.9 L1938.4 564.9 L1931.7 565.5 L1924.9 565.7 L1918.1 565.4 L1911.6 564.7 L1905.4 563.6 L1899.7 562.2 L1894.8 560.5 L1890.6 558.5 L1887.4 556.3 L1885.3 554 L1884.2 551.6 L1884.1 549.7" fill="none" stroke="#000" stroke-width="12.4" style="stroke-linecap:butt"/>
<path d="M1967.4 545.8 L1967.4 549.6 L1966.3 552.6 L1964.1 555.4 L1960.8 558 L1956.5 560.3 L1951.3 562.2 L1945.3 563.7 L1938.8 564.8 L1932 565.5 L1924.9 565.7 L1917.9 565.4 L1911.1 564.6 L1904.7 563.5 L1898.9 561.9 L1893.9 560.1 L1889.8 558 L1886.8 555.7 L1884.8 553.3 L1884.1 550.8 L1884.3 549.2" fill="none" stroke="#fff" stroke-width="8.6" style="stroke-linecap:butt"/>
</g>
<g id="p_30_shock130a">
<path d="M2257.5 272.5 C2258.8 271.7 2263.3 269.6 2265 267.5 C2266.7 265.4 2266.5 262.5 2267.5 260 C2268.5 257.5 2269.2 254.8 2271.2 252.5 C2273.3 250.2 2277.1 247.5 2280 246.2 C2282.9 245 2285.8 244.4 2288.8 244.8 C2291.7 245.1 2295 246.4 2297.5 248.1 C2300 249.8 2302.3 252.2 2303.8 255 C2305.2 257.8 2305.9 261.7 2306.2 265 C2306.6 268.3 2306.1 272.1 2305.6 275 C2305.1 277.9 2303.5 281.2 2303.1 282.5" fill="none" stroke="#000" stroke-width="2.4"/>
<path d="M2297.5 252.5 C2295.8 254 2290 257.9 2287.5 261.2 C2285 264.6 2283.4 269.2 2282.5 272.5 C2281.6 275.8 2282 279.8 2281.9 281.2" fill="none" stroke="#000" stroke-width="1.9"/>
<path d="M2267.5 260 L2280 265.2" fill="none" stroke="#000" stroke-width="1.4"/>
<path d="M2280 246.5 L2296.9 254" fill="none" stroke="#000" stroke-width="1.4"/>
<path d="M2271.2 252.5 L2286.2 260" fill="none" stroke="#000" stroke-width="1.3"/>
<ellipse cx="2293.8" cy="270" rx="10.6" ry="12.8" transform="rotate(15 2293.8 270)" fill="none" stroke="#000" stroke-width="2.2"/>
<ellipse cx="2294" cy="270.2" rx="7.5" ry="9.5" transform="rotate(15 2294 270.2)" fill="none" stroke="#000" stroke-width="2.2"/>
<ellipse cx="2294.2" cy="270.6" rx="4.4" ry="5.4" transform="rotate(15 2294.2 270.6)" fill="none" stroke="#000" stroke-width="2.2"/>
<ellipse cx="2294.4" cy="270.8" rx="1.5" ry="1.8" transform="rotate(0 2294.4 270.8)" fill="none" stroke="#000" stroke-width="1.6"/>
<path d="M2257.5 272.5 L2270 285 L2303.1 282.5 L2310 290 L2307.5 300 L2302.5 307.5 L2296.2 327.5 L2292.5 340" fill="none" stroke="#000" stroke-width="2.2"/>
<path d="M2270 285 C2270.6 285.6 2270.4 288.1 2273.8 288.8 C2277.1 289.4 2284.8 289.4 2290 288.8 C2295.2 288.1 2302.5 285.6 2305 285" fill="none" stroke="#000" stroke-width="1.5"/>
<path d="M2271.2 295 C2273.8 295.8 2280.2 299.6 2286.2 300 C2292.3 300.4 2304 297.9 2307.5 297.5" fill="none" stroke="#000" stroke-width="1.5"/>
<path d="M2283.8 303.8 L2278.8 317.5 L2280 322.8 L2300 317.5 L2305 302.8" fill="none" stroke="#000" stroke-width="1.9"/>
<path d="M2283.8 303.8 L2305 300" fill="none" stroke="#000" stroke-width="1.4"/>
<path d="M2291.2 302.5 L2287.5 320" fill="none" stroke="#000" stroke-width="1.3"/>
<path d="M2210 285 C2213.3 284.2 2222.5 282.3 2230 280 C2237.5 277.7 2249.6 273.1 2255 271.2 C2260.4 269.4 2260.4 270.6 2262.5 268.8 C2264.6 266.9 2266.7 261.5 2267.5 260" fill="none" stroke="#000" stroke-width="2.2"/>
<path d="M2217.5 288.8 C2221.2 288.1 2233.8 286.5 2240 285 C2246.2 283.5 2251.5 281.4 2255 280 C2258.5 278.6 2260.2 277.1 2261.2 276.5" fill="none" stroke="#000" stroke-width="1.5"/>
<path d="M2240 285 C2240.7 286.2 2243.5 290 2244.4 292.5 C2245.2 295 2244.9 299 2245 300.2" fill="none" stroke="#000" stroke-width="1.6"/>
<path d="M2250 280.2 C2250.8 281.7 2254.2 286.2 2255 288.8 C2255.8 291.2 2255 294.2 2255 295.2" fill="none" stroke="#000" stroke-width="1.6"/>
<path d="M2245 300.2 L2255 295.2 L2270 285" fill="none" stroke="#000" stroke-width="1.6"/>
<path d="M2217.5 325.2 C2220 323.1 2226.2 316.1 2232.5 312.5 C2238.8 308.9 2248.8 305.8 2255 303.8 C2261.2 301.7 2265.8 300 2270 300 C2274.2 300 2278.3 303.3 2280 304" fill="none" stroke="#000" stroke-width="2.4"/>
<path d="M2223.8 330.2 C2226 328.6 2232.3 322.8 2237.5 320.2 C2242.7 317.8 2250 315.7 2255 315.2 C2260 314.8 2263.5 317.1 2267.5 317.5 C2271.5 317.9 2276.9 317.5 2278.8 317.5" fill="none" stroke="#000" stroke-width="2.4"/>
<path d="M2242.5 310.2 L2262.5 303.8 L2266.2 310 L2246.2 317.5Z" fill="none" stroke="#000" stroke-width="2.2"/>
<path d="M2232.5 317.5 L2242.5 310.2" fill="none" stroke="#000" stroke-width="1.4"/>
<path d="M2255 295.2 L2262.5 303.8" fill="none" stroke="#000" stroke-width="1.4"/>
<path d="M2267.5 300 L2273.8 305 L2270 312.5" fill="none" stroke="#000" stroke-width="2"/>
<ellipse cx="2207.5" cy="303.8" rx="14" ry="18.8" transform="rotate(18 2207.5 303.8)" fill="#000" stroke="#000" stroke-width="2"/>
<ellipse cx="2195" cy="307.8" rx="5.2" ry="5.8" transform="rotate(0 2195 307.8)" fill="#fff" stroke="#fff" stroke-width="2"/>
<ellipse cx="2195" cy="307.8" rx="5.2" ry="5.8" transform="rotate(0 2195 307.8)" fill="none" stroke="#000" stroke-width="2.4"/>
<ellipse cx="2195.6" cy="308" rx="2.5" ry="2.8" transform="rotate(0 2195.6 308)" fill="none" stroke="#000" stroke-width="2.4"/>
<path d="M2210 310 L2216.2 307.5 L2217.5 315 L2211.2 317.5Z" fill="#fff" stroke="#000" stroke-width="1.6"/>
<path d="M2182.5 317.5 C2183.5 318.8 2185 322.1 2188.8 325 C2192.5 327.9 2198.1 332.5 2205 335 C2211.9 337.5 2225.8 339.4 2230 340.2" fill="none" stroke="#000" stroke-width="2.4"/>
<path d="M2185 315 C2186.7 316.9 2190.8 323.3 2195 326.5 C2199.2 329.7 2203.7 332.3 2210 334 C2216.3 335.7 2229 336.1 2232.8 336.5" fill="none" stroke="#000" stroke-width="2.4"/>
<path d="M2188.8 316.2 C2190.6 317.9 2195.6 323.7 2200 326.2 C2204.4 328.8 2212.5 330.6 2215 331.5" fill="none" stroke="#000" stroke-width="1.5"/>
<path d="M2185 315 L2182.5 317.5 L2177.5 330.2" fill="none" stroke="#000" stroke-width="1.9"/>
<path d="M2181.9 320 L2143 453.8" fill="none" stroke="#000" stroke-width="1.9"/>
<path d="M2227.5 342.5 L2197.5 438.9 L2196 455" fill="none" stroke="#000" stroke-width="1.9"/>
<path d="M2232.5 342.5 L2205 438.9" fill="none" stroke="#000" stroke-width="1.3"/>
<path d="M2236 340 L2210 438.9 L2200 465" fill="none" stroke="#000" stroke-width="2.8"/>
<path d="M2292.5 340 L2282.5 380 L2276 405 L2263 463.8" fill="none" stroke="#000" stroke-width="1.9"/>
<path d="M2250 345 L2228 440" fill="none" stroke="#000" stroke-width="1.2"/>
<path d="M2236.2 332.5 C2237.3 334.2 2238.3 339.4 2242.5 342.5 C2246.7 345.6 2254 350 2261.2 351.2 C2268.5 352.5 2280.4 351.5 2286.2 350 C2292.1 348.5 2294.6 343.8 2296.2 342.5" fill="none" stroke="#000" stroke-width="2.4"/>
<path d="M2232.5 340 C2233.1 341.7 2232.5 346.7 2236.2 350 C2240 353.3 2247.7 358.1 2255 360 C2262.3 361.9 2272.9 362.3 2280 361.2 C2287.1 360.2 2293.8 356.5 2297.5 353.8 C2301.2 351 2301.7 346.5 2302.5 345" fill="none" stroke="#000" stroke-width="2"/>
<path d="M2232.5 346.2 C2234.2 348.1 2236.7 354.1 2242.5 357.5 C2248.3 360.9 2259.2 365.6 2267.5 366.5 C2275.8 367.4 2286.6 365.5 2292.5 362.8 C2298.4 360 2301 352.3 2302.8 350.2" fill="none" stroke="#000" stroke-width="2.4"/>
<path d="M2233.8 343.1 C2234.8 344.9 2235.4 350.4 2240 353.8 C2244.6 357.1 2253.5 361.7 2261.2 363.1 C2269 364.5 2279.8 364.1 2286.2 362.2 C2292.7 360.4 2297.7 353.6 2300 351.9" fill="none" stroke="#000" stroke-width="1.4"/>
<path d="M2232.5 340 L2232.5 346.2" fill="none" stroke="#000" stroke-width="1.9"/>
<path d="M2297.5 335 C2298.4 335.8 2302.2 337.5 2303.1 340 C2304 342.5 2302.8 348.5 2302.8 350.2" fill="none" stroke="#000" stroke-width="2.2"/>
<path d="M2267.5 360 L2267.5 366.5" fill="none" stroke="#000" stroke-width="1.4"/>
<path d="M2277.5 361 L2278.1 365.6" fill="none" stroke="#000" stroke-width="1.4"/>
<path d="M2250 357.5 L2248.8 362.5" fill="none" stroke="#000" stroke-width="1.4"/>
<path d="M2222.5 382.5 C2224.8 384.2 2229.8 389.8 2236.2 392.5 C2242.7 395.2 2254 398.7 2261.2 398.8 C2268.5 398.8 2276.9 393.8 2280 392.8" fill="none" stroke="#000" stroke-width="3.2"/>
<path d="M2220 392.5 C2222.1 394.2 2226.2 399.8 2232.5 402.5 C2238.8 405.2 2249.9 408.3 2257.5 408.8 C2265.1 409.2 2274.7 405.6 2278.1 405" fill="none" stroke="#000" stroke-width="2.2"/>
<path d="M2217.5 403.8 C2219.6 405.2 2223.8 410 2230 412.5 C2236.2 415 2247.5 418.1 2255 418.8 C2262.5 419.4 2271.7 416.7 2275 416.2" fill="none" stroke="#000" stroke-width="2.4"/>
<path d="M2280 391.5 L2281.5 396.2 L2273.8 417.5" fill="none" stroke="#000" stroke-width="2.2"/>
<path d="M2222.5 382.5 L2217.5 403.8" fill="none" stroke="#000" stroke-width="1.6"/>
<path d="M2147 440 C2150.4 442.1 2159.3 450 2167.5 452.5 C2175.7 455 2191.5 454.6 2196.2 455" fill="none" stroke="#000" stroke-width="1.9"/>
<path d="M2143 453 C2146.7 455.2 2156.3 463.8 2165 466.2 C2173.7 468.8 2190 467.7 2195 468" fill="none" stroke="#000" stroke-width="1.9"/>
<path d="M2144 462.5 C2147.1 464.4 2154.3 471.8 2162.5 474 C2170.7 476.2 2187.9 475.2 2193 475.5" fill="none" stroke="#000" stroke-width="2.6"/>
<path d="M2143 453 L2144 462.5" fill="none" stroke="#000" stroke-width="1.9"/>
<path d="M2197.5 455 L2193 475.5" fill="none" stroke="#000" stroke-width="1.9"/>
<path d="M2200 465 L2188 497.5 L2169 577.5" fill="none" stroke="#000" stroke-width="1.9"/>
<path d="M2263 463.8 L2245.5 510 L2223 581.2" fill="none" stroke="#000" stroke-width="1.9"/>
<path d="M2207.5 433.8 C2212.1 436 2224.6 446 2235 447.5 C2245.4 449 2264.2 443.3 2270 442.5" fill="none" stroke="#000" stroke-width="1.9"/>
<path d="M2202.5 452.5 C2207.9 454.6 2222.9 464.6 2235 465 C2247.1 465.4 2268.3 456.7 2275 455" fill="none" stroke="#000" stroke-width="2.4"/>
<path d="M2201.2 462.5 C2206.7 464.4 2221.7 473.4 2233.8 473.8 C2245.8 474.1 2267.1 466 2273.8 464.5" fill="none" stroke="#000" stroke-width="2.4"/>
<path d="M2275 455 L2277 460 L2273.8 464.5" fill="none" stroke="#000" stroke-width="1.9"/>
<path d="M2202.5 452.5 L2200.8 462.5" fill="none" stroke="#000" stroke-width="1.9"/>
<path d="M2187 497.5 C2190.8 499.6 2200.2 507.9 2210 510 C2219.8 512.1 2239.6 510 2245.5 510" fill="none" stroke="#000" stroke-width="1.9"/>
<path d="M2180 527.5 C2183.8 529.6 2193.3 537.6 2202.5 540 C2211.7 542.4 2229.6 541.7 2235 542" fill="none" stroke="#000" stroke-width="1.9"/>
<path d="M2169 577.5 C2171.7 579.7 2178.2 587.9 2185 590.5 C2191.8 593.1 2203.7 594.4 2210 593 C2216.3 591.6 2220.8 583.8 2223 582" fill="none" stroke="#000" stroke-width="3.2"/>
<path d="M2230 425 L2190 580" fill="none" stroke="#000" stroke-width="1.2"/>
<path d="M2181.2 592.5 L2172.5 637.5" fill="none" stroke="#000" stroke-width="1.9"/>
<path d="M2197.5 595 L2186.8 637.5" fill="none" stroke="#000" stroke-width="1.9"/>
<ellipse cx="2178" cy="643" rx="15.5" ry="6.5" transform="rotate(14 2178 643)" fill="none" stroke="#000" stroke-width="2.4"/>
<ellipse cx="2174.5" cy="653" rx="16" ry="6.5" transform="rotate(14 2174.5 653)" fill="none" stroke="#000" stroke-width="2.4"/>
<ellipse cx="2171.8" cy="663" rx="16.5" ry="6.5" transform="rotate(14 2171.8 663)" fill="none" stroke="#000" stroke-width="2.4"/>
<ellipse cx="2169" cy="673" rx="17" ry="6.5" transform="rotate(14 2169 673)" fill="none" stroke="#000" stroke-width="2.4"/>
<ellipse cx="2166.5" cy="683" rx="17.5" ry="6.5" transform="rotate(14 2166.5 683)" fill="none" stroke="#000" stroke-width="2.4"/>
<ellipse cx="2164.5" cy="695.5" rx="20" ry="8.5" transform="rotate(14 2164.5 695.5)" fill="none" stroke="#000" stroke-width="2.6"/>
<path d="M2145.5 701.2 C2148.8 702.9 2158.4 711.1 2165 711.2 C2171.6 711.4 2181.7 703.5 2185 702" fill="none" stroke="#000" stroke-width="1.9"/>
<path d="M2150 706.2 L2143 728" fill="none" stroke="#000" stroke-width="1.9"/>
<path d="M2169.5 712.5 L2165.5 735" fill="none" stroke="#000" stroke-width="1.9"/>
<ellipse cx="2150.5" cy="735" rx="14" ry="12.5" transform="rotate(0 2150.5 735)" fill="none" stroke="#000" stroke-width="2.6"/>
<ellipse cx="2149" cy="735.5" rx="8" ry="7.2" transform="rotate(0 2149 735.5)" fill="none" stroke="#000" stroke-width="2.4"/>
<ellipse cx="2148.5" cy="736" rx="4" ry="3.8" transform="rotate(0 2148.5 736)" fill="none" stroke="#000" stroke-width="1.9"/>
<path d="M2160 717.5 C2161.2 719.6 2166.5 725.8 2167.5 730 C2168.5 734.2 2166.5 740.4 2166.2 742.5" fill="none" stroke="#000" stroke-width="1.9"/>
</g>
<g id="p_32_guard">
<path d="M2416.2 593.8 L2363.8 718.8 L2322.5 757.5 L2317 767.5 L2317.5 776.5" fill="none" stroke="#000" stroke-width="2.2"/>
<path d="M2416.2 593.8 L2442.5 594.5 L2450 610 L2447.5 642.5 L2425 730 L2400 805" fill="none" stroke="#000" stroke-width="2.2"/>
<path d="M2446.2 642.5 L2420.5 735 L2398 800.5" fill="none" stroke="#000" stroke-width="1.3"/>
<path d="M2422.5 605 L2410 642.5 L2382.5 750 L2379 772.5" fill="none" stroke="#000" stroke-width="1.9"/>
<path d="M2422.5 605 L2440 601.2 L2446.2 612.5 L2427.5 687.5 L2401.5 772.5" fill="none" stroke="#000" stroke-width="1.9"/>
<path d="M2422.5 605 L2437.5 614 L2446.2 612.5" fill="none" stroke="#000" stroke-width="1.4"/>
<path d="M2437.5 614 L2433.8 632.5" fill="none" stroke="#000" stroke-width="1.3"/>
<path d="M2415 635 L2392.5 720" fill="none" stroke="#000" stroke-width="1.3"/>
<path d="M2426.2 642.5 L2407.5 710" fill="none" stroke="#000" stroke-width="1.3"/>
<path d="M2402.5 680 L2410.5 700 L2430 690 L2426.2 677.5" fill="none" stroke="#000" stroke-width="1.9"/>
<path d="M2410.5 700 L2411.5 707.5 L2429 696.5 L2430 690" fill="none" stroke="#000" stroke-width="1.9"/>
<path d="M2402.5 680 L2407.5 670" fill="none" stroke="#000" stroke-width="1.3"/>
<path d="M2363.8 718.8 C2365.6 720.6 2371.9 725.2 2375 730 C2378.1 734.8 2381 739.9 2382.5 747.5 C2384 755.1 2383.8 770.8 2384 775.5" fill="none" stroke="#000" stroke-width="1.9"/>
<path d="M2360 723 C2362.1 725 2369.3 730.1 2372.5 735 C2375.7 739.9 2377.9 749.6 2379 752.5" fill="none" stroke="#000" stroke-width="1.3"/>
<path d="M2405 755 L2412.5 752.5 L2407.5 772.5" fill="none" stroke="#000" stroke-width="1.4"/>
<path d="M2322.5 757.5 C2327.1 757.9 2340.4 757.5 2350 760 C2359.6 762.5 2372.5 768.1 2380 772.5 C2387.5 776.9 2391.7 780.8 2395 786.2 C2398.3 791.7 2399.2 801.9 2400 805" fill="none" stroke="#000" stroke-width="2.2"/>
<path d="M2317.5 776.5 C2322.1 777.3 2335.4 778.4 2345 781.5 C2354.6 784.6 2367.4 790.6 2375 795 C2382.6 799.4 2387.9 805.8 2390.5 808" fill="none" stroke="#000" stroke-width="2.4"/>
<path d="M2325 763 C2329.2 763.5 2341.2 763.8 2350 766.2 C2358.8 768.8 2370.4 773.8 2377.5 778 C2384.6 782.2 2390 789 2392.5 791.2" fill="none" stroke="#000" stroke-width="1.3"/>
<path d="M2340 763.8 L2354.5 767.5 L2353.8 780.5 L2339.5 777Z" fill="none" stroke="#000" stroke-width="1.9"/>
<ellipse cx="2347.5" cy="772.5" rx="3.2" ry="2.2" transform="rotate(10 2347.5 772.5)" fill="none" stroke="#000" stroke-width="3"/>
<path d="M2363.8 772.5 L2377.5 777.5 L2376.5 790.5 L2363 785.5Z" fill="none" stroke="#000" stroke-width="1.9"/>
<ellipse cx="2370.5" cy="781.5" rx="2.2" ry="2.2" transform="rotate(0 2370.5 781.5)" fill="none" stroke="#000" stroke-width="3.4"/>
<path d="M2385 786.2 L2393 790 L2392.5 798.8 L2385 795Z" fill="none" stroke="#000" stroke-width="1.9"/>
<ellipse cx="2388.8" cy="792.5" rx="1.2" ry="1.8" transform="rotate(0 2388.8 792.5)" fill="none" stroke="#000" stroke-width="1.9"/>
<ellipse cx="2324.5" cy="772.5" rx="4.2" ry="4" transform="rotate(0 2324.5 772.5)" fill="none" stroke="#000" stroke-width="2.4"/>
<ellipse cx="2325" cy="773" rx="1.8" ry="1.8" transform="rotate(0 2325 773)" fill="none" stroke="#000" stroke-width="2"/>
<path d="M2387.5 806.2 L2397.5 807.5 L2394 820 L2384 822.5 L2386.2 813Z" fill="none" stroke="#000" stroke-width="2.6"/>
<path d="M2386.2 813 L2395 813.8" fill="none" stroke="#000" stroke-width="1.9"/>
<path d="M2296.2 828.8 C2296.9 827.5 2297.3 823.3 2300 821.2 C2302.7 819.2 2307.5 817.3 2312.5 816.2 C2317.5 815.2 2323.8 814.4 2330 815 C2336.2 815.6 2343.8 817.5 2350 820 C2356.2 822.5 2362.7 826.2 2367.5 830 C2372.3 833.8 2376.8 839.6 2378.8 842.5 C2380.7 845.4 2379 846.7 2379 847.5" fill="none" stroke="#000" stroke-width="2.2"/>
<path d="M2296.2 828.8 L2297.5 837.5 L2310 847 L2316.2 840" fill="none" stroke="#000" stroke-width="2.2"/>
<path d="M2316.2 840 C2317.3 838.3 2320.2 832.8 2322.5 830 C2324.8 827.2 2328.8 824.2 2330 823" fill="none" stroke="#000" stroke-width="2.2"/>
<path d="M2330 823 L2350 829 L2353.8 834 L2340 837.5" fill="none" stroke="#000" stroke-width="2.2"/>
<path d="M2340 837.5 C2338.3 839.2 2332.3 844.5 2330 847.5 C2327.7 850.5 2326.9 854.2 2326.2 855.5" fill="none" stroke="#000" stroke-width="2.2"/>
<path d="M2305 822.5 C2305.3 824.6 2305.5 831.8 2307 835 C2308.5 838.2 2312.6 840.8 2313.8 842" fill="none" stroke="#000" stroke-width="1.4"/>
<path d="M2310 820 C2311.7 820.2 2316.9 821.2 2320 821.2 C2323.1 821.2 2327.3 820.2 2328.8 820" fill="none" stroke="#000" stroke-width="1.4"/>
<path d="M2333.8 825 L2350 830.5" fill="none" stroke="#000" stroke-width="1.4"/>
<path d="M2326.2 855.5 C2328.5 856.2 2334.4 859.2 2340 860 C2345.6 860.8 2354.6 860.6 2360 860 C2365.4 859.4 2369.3 858.6 2372.5 856.5 C2375.7 854.4 2377.9 849 2379 847.5" fill="none" stroke="#000" stroke-width="2.4"/>
<path d="M2326.2 851.5 C2328.5 852.3 2334.4 855.5 2340 856.2 C2345.6 857 2354.2 857.3 2360 856.2 C2365.8 855.2 2372.5 851 2375 850" fill="none" stroke="#000" stroke-width="1.5"/>
<path d="M2335 842.5 C2337.5 842.9 2345 845.2 2350 845 C2355 844.8 2361.2 842.6 2365 841.2 C2368.8 839.9 2371.7 837.7 2373 837" fill="none" stroke="#000" stroke-width="1.5"/>
<path d="M2340 838.8 C2342.1 839 2348.3 840.4 2352.5 840 C2356.7 839.6 2362.9 836.9 2365 836.2" fill="none" stroke="#000" stroke-width="1.4"/>
<path d="M2379 847.5 L2376.5 866.5 L2371.5 866.5 L2372.5 856.5" fill="none" stroke="#000" stroke-width="2.4"/>
<ellipse cx="2451.5" cy="821.5" rx="1.2" ry="6.5" transform="rotate(15 2451.5 821.5)" fill="none" stroke="#000" stroke-width="3"/>
<ellipse cx="2595.8" cy="854.2" rx="7" ry="2" transform="rotate(15 2595.8 854.2)" fill="none" stroke="#000" stroke-width="1.6"/>
<ellipse cx="2603" cy="858.2" rx="2" ry="2" transform="rotate(0 2603 858.2)" fill="none" stroke="#000" stroke-width="1.9"/>
</g>
<g id="p_40_axle">
<path d="M1541.2 695.2 C1540 694.6 1536 691.7 1533.8 691.2 C1531.5 690.8 1529 691.5 1527.5 692.5 C1526 693.5 1525.4 695.6 1525 697.5 C1524.6 699.4 1525 702.9 1525 704" fill="none" stroke="#000" stroke-width="2.2"/>
<path d="M1533.8 691.2 L1550 700" fill="none" stroke="#000" stroke-width="1.9"/>
<path d="M1525 704 L1541.5 714" fill="none" stroke="#000" stroke-width="1.9"/>
<path d="M1550 698.5 L1575 711.2 L1565.2 732.8 L1541.2 718.8Z" fill="#000" stroke="#000" stroke-width="3"/>
<path d="M1575 712.5 L1592.8 721.5" fill="none" stroke="#000" stroke-width="1.9"/>
<path d="M1565.2 732.8 L1582.8 741.5" fill="none" stroke="#000" stroke-width="1.9"/>
<path d="M1571.2 719.6 L1571.4 719.7 L1571.5 720 L1571.6 720.3 L1571.6 720.8 L1571.5 721.2 L1571.4 721.8 L1571.2 722.4 L1571 723.1 L1570.7 723.7 L1570.4 724.4 L1570 725.2 L1569.6 725.9 L1569.2 726.6 L1568.8 727.2 L1568.3 727.9 L1567.9 728.5 L1567.4 729 L1567 729.4 L1566.6 729.8 L1566.2 730.1 L1565.8 730.3 L1565.5 730.5 L1565.2 730.5 L1565 730.4" fill="none" stroke="#000" stroke-width="1.6"/>
<path d="M1570 721.2 L1586.2 730" fill="none" stroke="#000" stroke-width="1.3"/>
<path d="M1598.8 721.2 C1597.3 721.6 1592.2 721.7 1590 723.1 C1587.8 724.6 1586.7 727.2 1585.6 730 C1584.6 732.8 1583.4 737.1 1583.8 740 C1584.1 742.9 1586.9 746.2 1587.5 747.5" fill="none" stroke="#000" stroke-width="2.4"/>
<path d="M1598.8 721.2 L2056.2 986.2" fill="none" stroke="#000" stroke-width="3.2"/>
<path d="M1587.5 747.5 L2043.8 1011.2" fill="none" stroke="#000" stroke-width="2"/>
<path d="M2042.5 1010 C2042.7 1008.1 2042.5 1002.1 2043.8 998.8 C2045 995.4 2047.7 991.9 2050 990 C2052.3 988.1 2056.2 987.9 2057.5 987.5" fill="none" stroke="#000" stroke-width="2.2"/>
<path d="M2046.9 1011.5 C2047.2 1009.6 2047.4 1003.4 2048.8 1000 C2050.1 996.6 2052.9 992.9 2055 991.2 C2057.1 989.6 2060.2 990.2 2061.2 990" fill="none" stroke="#000" stroke-width="2.2"/>
<path d="M2056.2 986.2 L2061.2 990" fill="none" stroke="#000" stroke-width="1.9"/>
<path d="M2042.5 1010 L2046.9 1011.5" fill="none" stroke="#000" stroke-width="1.9"/>
<path d="M2061.2 990 L2075 1000" fill="none" stroke="#000" stroke-width="1.9"/>
<path d="M2046.9 1011.5 L2066.2 1021.5" fill="none" stroke="#000" stroke-width="1.9"/>
<path d="M2051.2 1001.2 L2067.5 1007.8" fill="none" stroke="#000" stroke-width="1.3"/>
<path d="M2075 999.8 L2102.8 1015 L2092.8 1035.2 L2066.2 1021.2Z" fill="#000" stroke="#000" stroke-width="3"/>
<path d="M2098.9 1020.8 L2099.1 1021 L2099.2 1021.3 L2099.2 1021.7 L2099.2 1022.2 L2099.1 1022.8 L2099 1023.5 L2098.7 1024.2 L2098.4 1025 L2098.1 1025.9 L2097.7 1026.7 L2097.2 1027.6 L2096.7 1028.5 L2096.2 1029.4 L2095.7 1030.2 L2095.1 1031 L2094.6 1031.7 L2094 1032.4 L2093.5 1033 L2093 1033.4 L2092.5 1033.8 L2092.1 1034.1 L2091.7 1034.2 L2091.4 1034.3 L2091.1 1034.2" fill="none" stroke="#000" stroke-width="2.2"/>
<path d="M2101.5 1017.8 L2119 1028.8" fill="none" stroke="#000" stroke-width="1.9"/>
<path d="M2093.5 1034.8 L2111.5 1044" fill="none" stroke="#000" stroke-width="1.9"/>
<ellipse cx="2115.6" cy="1036.2" rx="3.8" ry="7.8" transform="rotate(30 2115.6 1036.2)" fill="none" stroke="#000" stroke-width="2"/>
<ellipse cx="2116" cy="1036.5" rx="1.1" ry="1.5" transform="rotate(0 2116 1036.5)" fill="none" stroke="#000" stroke-width="1.6"/>
<path d="M2097.5 1025 L2105 1029.4" fill="none" stroke="#000" stroke-width="1.3"/>
<ellipse cx="2300" cy="1143.3" rx="9" ry="18.7" transform="rotate(30 2300 1143.3)" fill="none" stroke="#000" stroke-width="3"/>
<ellipse cx="2399.3" cy="1200" rx="6.3" ry="12" transform="rotate(30 2399.3 1200)" fill="none" stroke="#000" stroke-width="3.2"/>
<path d="M2543.3 1195 L2548.7 1195 L2548.7 1205 L2543.3 1205Z" fill="none" stroke="#000" stroke-width="1.6"/>
<path d="M2543.3 1198.3 L2548.7 1198.3" fill="none" stroke="#000" stroke-width="1.9"/>
<path d="M2543.3 1201.7 L2548.7 1201.7" fill="none" stroke="#000" stroke-width="1.9"/>
<path d="M2513.1 1265.6 L2540 1250.6 L2556.2 1256.9 L2567.5 1261.2 L2568.8 1288.8 L2566.2 1296.2 L2536.2 1315 L2528.1 1310 L2513.1 1297.5Z" fill="none" stroke="#000" stroke-width="2.4"/>
<path d="M2513.1 1265.6 L2528.8 1272.8 L2567.5 1261.2" fill="none" stroke="#000" stroke-width="1.9"/>
<path d="M2528.8 1272.8 L2528.5 1310" fill="none" stroke="#000" stroke-width="1.9"/>
<path d="M2517.5 1268.8 L2517.5 1300" fill="none" stroke="#000" stroke-width="1.3"/>
<path d="M2533.8 1276.2 L2565 1266.2 L2566.2 1292.5 L2536.9 1310Z" fill="none" stroke="#000" stroke-width="1.5"/>
<ellipse cx="2551.5" cy="1286.5" rx="12.5" ry="17.5" transform="rotate(22 2551.5 1286.5)" fill="none" stroke="#000" stroke-width="2.6"/>
<path d="M2546.1 1301.2 L2544.7 1300.9 L2543.3 1300.2 L2542.1 1299.3 L2541.1 1298.1 L2540.2 1296.7 L2539.6 1295.1 L2539.2 1293.3 L2539 1291.3 L2539 1289.3 L2539.3 1287.2 L2539.8 1285.1 L2540.5 1283 L2541.4 1281.1 L2542.5 1279.2 L2543.8 1277.5 L2545.1 1276 L2546.6 1274.8 L2548.2 1273.8 L2549.8 1273 L2551.4 1272.6 L2553 1272.4 L2554.5 1272.6 L2555.9 1273.1 L2557.2 1273.8" fill="none" stroke="#000" stroke-width="2.2"/>
<path d="M2543.1 1275 L2550 1278.1" fill="none" stroke="#000" stroke-width="2.6"/>
<path d="M2543.6 1280.2 L2550.5 1283.4" fill="none" stroke="#000" stroke-width="2.6"/>
<path d="M2544.1 1285.5 L2551 1288.6" fill="none" stroke="#000" stroke-width="2.6"/>
<path d="M2544.6 1290.8 L2551.5 1293.9" fill="none" stroke="#000" stroke-width="2.6"/>
<path d="M2545.1 1296 L2552 1299.1" fill="none" stroke="#000" stroke-width="2.6"/>
<path d="M2541.2 1255 L2545 1253.1 L2552.5 1256.2 L2552.5 1266.2 L2545 1268.1 L2541.2 1265.6Z" fill="none" stroke="#000" stroke-width="2.4"/>
<path d="M2545 1253.1 L2545 1268.1" fill="none" stroke="#000" stroke-width="2.4"/>
<path d="M2548.8 1255 L2548.8 1266.9" fill="none" stroke="#000" stroke-width="2"/>
<path d="M2556.2 1256.9 L2560 1259.4 L2560 1267.5" fill="none" stroke="#000" stroke-width="1.5"/>
<path d="M2563.8 1288.8 L2567.5 1286.9" fill="none" stroke="#000" stroke-width="1.4"/>
<path d="M2388.3 1286.7 L2393.3 1281.7 L2401.7 1282.7 L2406 1289.3 L2404 1297.3 L2396.7 1300.7 L2389.3 1296.7Z" fill="none" stroke="#000" stroke-width="2.2"/>
<ellipse cx="2398" cy="1292" rx="4.7" ry="5" transform="rotate(0 2398 1292)" fill="none" stroke="#000" stroke-width="1.9"/>
<path d="M2393.3 1282 L2392.7 1291.7 L2389.3 1296.7" fill="none" stroke="#000" stroke-width="1.3"/>
<path d="M2392.7 1291.7 L2400 1300" fill="none" stroke="#000" stroke-width="1.3"/>
<ellipse cx="2490" cy="1344" rx="8" ry="10" transform="rotate(30 2490 1344)" fill="none" stroke="#000" stroke-width="2.2"/>
<ellipse cx="2489.3" cy="1344.7" rx="3.3" ry="4.3" transform="rotate(30 2489.3 1344.7)" fill="none" stroke="#000" stroke-width="2.2"/>
<path d="M2560 1353.8 C2558.3 1354.2 2553.5 1355.2 2550 1356.2 C2546.5 1357.3 2542.1 1358.3 2538.8 1360 C2535.4 1361.7 2531.9 1364 2530 1366.2 C2528.1 1368.5 2527.7 1371 2527.5 1373.8 C2527.3 1376.5 2527.5 1380.1 2528.8 1382.5 C2530 1384.9 2532.5 1387 2535 1388.1 C2537.5 1389.3 2540.4 1389.7 2543.8 1389.4 C2547.1 1389.1 2552.1 1387.5 2555 1386.2 C2557.9 1385 2560.2 1382.6 2561.2 1381.9" fill="none" stroke="#000" stroke-width="2.6"/>
<ellipse cx="2550.2" cy="1378.1" rx="6.2" ry="7" transform="rotate(-15 2550.2 1378.1)" fill="none" stroke="#000" stroke-width="2.2"/>
<ellipse cx="2552.2" cy="1378.8" rx="3.8" ry="4" transform="rotate(-15 2552.2 1378.8)" fill="none" stroke="#000" stroke-width="1.6"/>
<path d="M2533.8 1367.5 C2534.6 1368.8 2537.7 1371.8 2538.8 1375 C2539.8 1378.2 2539.8 1384.9 2540 1386.9" fill="none" stroke="#000" stroke-width="1.4"/>
<path d="M2542.5 1362.5 C2543.4 1363.4 2546 1366.9 2548.1 1368.1 C2550.2 1369.4 2553.9 1369.7 2555 1370" fill="none" stroke="#000" stroke-width="1.4"/>
<path d="M2530 1373.8 C2531 1374.2 2534.2 1374.4 2536.2 1376.2 C2538.3 1378.1 2541.5 1383.5 2542.5 1385" fill="none" stroke="#000" stroke-width="1.2"/>
<path d="M2560 1353.8 C2563.3 1352.5 2573.5 1348 2580 1346.2 C2586.5 1344.5 2591.9 1344 2598.8 1343.1 C2605.6 1342.3 2615 1342 2621.2 1341.2 C2627.5 1340.5 2630.6 1340.2 2636.2 1338.8 C2641.9 1337.3 2650.6 1334.1 2655 1332.5 C2659.4 1330.9 2661.2 1329.9 2662.5 1329.4" fill="none" stroke="#000" stroke-width="2.4"/>
<path d="M2562.5 1360 C2565.8 1358.6 2576.2 1353.8 2582.5 1351.9 C2588.8 1350 2593.5 1349.6 2600 1348.8 C2606.5 1347.9 2614.6 1347.6 2621.2 1346.9 C2627.9 1346.1 2634 1345.9 2640 1344.4 C2646 1342.8 2654.6 1338.6 2657.5 1337.5" fill="none" stroke="#000" stroke-width="1.6"/>
<path d="M2621.2 1341.2 C2621.5 1339.6 2621.2 1334.3 2622.5 1331.2 C2623.8 1328.2 2626.2 1324.7 2628.8 1322.8 C2631.2 1320.8 2634.6 1319.7 2637.5 1319.4 C2640.4 1319 2642.3 1318.9 2646.2 1320.6 C2650.2 1322.4 2658.8 1328.4 2661.2 1330" fill="none" stroke="#000" stroke-width="1.9"/>
<path d="M2623.8 1328.8 C2624.8 1329.8 2627.7 1333.4 2630 1335 C2632.3 1336.6 2636.2 1337.9 2637.5 1338.5" fill="none" stroke="#000" stroke-width="1.4"/>
<path d="M2662.5 1329.4 C2664.6 1329.2 2671.2 1327.4 2675 1328.1 C2678.8 1328.9 2682.3 1331.1 2685 1333.8 C2687.7 1336.4 2690 1340.2 2691.2 1343.8 C2692.5 1347.3 2692.9 1351.5 2692.5 1355 C2692.1 1358.5 2690.8 1361.9 2688.8 1365 C2686.7 1368.1 2683.1 1371.2 2680 1373.8 C2676.9 1376.2 2674.2 1378.3 2670 1380 C2665.8 1381.7 2657.5 1383.1 2655 1383.8" fill="none" stroke="#000" stroke-width="3.2"/>
<ellipse cx="2674.4" cy="1355" rx="8.5" ry="12.5" transform="rotate(28 2674.4 1355)" fill="#000" stroke="#000" stroke-width="2"/>
<ellipse cx="2673.5" cy="1355.6" rx="12.2" ry="16.9" transform="rotate(28 2673.5 1355.6)" fill="none" stroke="#000" stroke-width="2"/>
<ellipse cx="2674" cy="1355.2" rx="10.5" ry="14.8" transform="rotate(28 2674 1355.2)" fill="none" stroke="#000" stroke-width="1.3"/>
<path d="M2561.2 1381.9 C2562.9 1381.5 2566 1379.7 2571.2 1379.4 C2576.5 1379.1 2585.8 1379.3 2592.5 1380 C2599.2 1380.7 2605 1382.8 2611.2 1383.8 C2617.5 1384.7 2622.7 1385.6 2630 1385.6 C2637.3 1385.6 2650.8 1384.1 2655 1383.8" fill="none" stroke="#000" stroke-width="2.8"/>
<path d="M2572.5 1362.5 C2575.8 1362.1 2581.2 1360.8 2592.5 1360 C2603.8 1359.2 2632.1 1357.9 2640 1357.5" fill="none" stroke="#000" stroke-width="1.9"/>
<path d="M2571.2 1367.5 C2574.4 1367.3 2578.8 1366.5 2590 1366.2 C2601.2 1366 2630.6 1366.2 2638.8 1366.2" fill="none" stroke="#000" stroke-width="1.4"/>
<path d="M2570 1377.5 C2573.8 1376.9 2581.5 1373.8 2592.5 1373.8 C2603.5 1373.8 2629 1376.9 2636.2 1377.5" fill="none" stroke="#000" stroke-width="1.9"/>
<path d="M2591.2 1360 L2590 1378.8" fill="none" stroke="#000" stroke-width="1.9"/>
<path d="M2595 1360 L2593.8 1377.5" fill="none" stroke="#000" stroke-width="1.4"/>
<path d="M2641.2 1355 L2635 1380" fill="none" stroke="#000" stroke-width="1.9"/>
<path d="M2647.5 1353.8 L2643.8 1380" fill="none" stroke="#000" stroke-width="1.4"/>
<path d="M2567.5 1357.5 C2567.3 1359.2 2565.8 1364 2566.2 1367.5 C2566.7 1371 2569.4 1376.9 2570 1378.8" fill="none" stroke="#000" stroke-width="1.9"/>
<path d="M2560 1355 C2560.4 1357.1 2562.3 1363.1 2562.5 1367.5 C2562.7 1371.9 2561.5 1379 2561.2 1381.2" fill="none" stroke="#000" stroke-width="1.4"/>
<path d="M2657.5 1337.5 C2657.1 1340.4 2655 1349 2655 1355 C2655 1361 2657.5 1369 2657.5 1373.8 C2657.5 1378.5 2655.4 1381.9 2655 1383.5" fill="none" stroke="#000" stroke-width="1.4"/>
<ellipse cx="2759" cy="1406.7" rx="11.7" ry="15.3" transform="rotate(25 2759 1406.7)" fill="none" stroke="#000" stroke-width="2.2"/>
<ellipse cx="2759" cy="1407.3" rx="4.3" ry="6" transform="rotate(25 2759 1407.3)" fill="none" stroke="#000" stroke-width="2.4"/>
<path d="M2755 1403.3 L2763 1410.7" fill="none" stroke="#000" stroke-width="1.3"/>
<path d="M2837 1455 L2843 1447.3 L2853.7 1446.7 L2861.3 1454 L2860.3 1465 L2852.3 1471.7 L2841.3 1469.3Z" fill="none" stroke="#000" stroke-width="2.2"/>
<ellipse cx="2853" cy="1461.7" rx="6.7" ry="8" transform="rotate(0 2853 1461.7)" fill="none" stroke="#000" stroke-width="2.2"/>
<path d="M2843 1447.3 L2844.7 1460 L2841.3 1469.3" fill="none" stroke="#000" stroke-width="1.3"/>
<path d="M2844.7 1460 C2846.1 1458.6 2850.2 1452.7 2853 1451.7 C2855.8 1450.7 2859.9 1453.6 2861.3 1454" fill="none" stroke="#000" stroke-width="1.3"/>
</g>
<g id="p_50_arm10">
<path d="M1779.2 1242.6 L1820.3 1237.6 L1824.9 1265.2" fill="none" stroke="#000" stroke-width="1.9"/>
<path d="M1784 1270.5 L1783.5 1270.5 L1783 1270.1 L1782.5 1269.6 L1782 1268.8 L1781.5 1267.8 L1781 1266.7 L1780.6 1265.3 L1780.2 1263.8 L1779.8 1262.2 L1779.5 1260.5 L1779.3 1258.7 L1779.1 1256.8 L1778.9 1255 L1778.9 1253.2 L1778.9 1251.4 L1778.9 1249.8 L1779.1 1248.2 L1779.3 1246.8 L1779.5 1245.6 L1779.8 1244.5 L1780.2 1243.7 L1780.6 1243.1 L1781 1242.7 L1781.5 1242.5" fill="none" stroke="#000" stroke-width="1.9"/>
<path d="M1782.1 1270.6 L1790.4 1269.9" fill="none" stroke="#000" stroke-width="1.9"/>
<path d="M1783.8 1268.2 L1783.4 1268.1 L1783.1 1267.9 L1782.8 1267.4 L1782.4 1266.7 L1782.1 1265.9 L1781.8 1264.9 L1781.5 1263.8 L1781.2 1262.5 L1781 1261.2 L1780.7 1259.7 L1780.5 1258.2 L1780.4 1256.7 L1780.3 1255.2 L1780.2 1253.7 L1780.2 1252.2 L1780.2 1250.9 L1780.3 1249.6 L1780.4 1248.4 L1780.5 1247.4 L1780.7 1246.5 L1780.9 1245.8 L1781.1 1245.3 L1781.4 1245 L1781.7 1244.8" fill="none" stroke="#000" stroke-width="1.3"/>
<ellipse cx="1801.8" cy="1242.6" rx="2.8" ry="2.5" transform="rotate(0 1801.8 1242.6)" fill="none" stroke="#000" stroke-width="2.2"/>
<ellipse cx="1801.8" cy="1242.6" rx="1.2" ry="1" transform="rotate(0 1801.8 1242.6)" fill="none" stroke="#000" stroke-width="1.9"/>
<path d="M1790.1 1270.3 C1790.4 1268.6 1790.4 1263.1 1792.1 1260.2 C1793.8 1257.3 1797.1 1253.7 1800.2 1252.8 C1803.2 1252 1807.1 1253.4 1810.2 1255.2 C1813.3 1257 1815.9 1260.6 1818.6 1263.6 C1821.2 1266.5 1824.9 1271.2 1826.1 1272.8" fill="none" stroke="#000" stroke-width="1.9"/>
<path d="M1790.1 1270.6 L1903.2 1428.5" fill="none" stroke="#000" stroke-width="3.2"/>
<path d="M1796.8 1267.7 L1908.2 1424" fill="none" stroke="#000" stroke-width="2.2"/>
<path d="M1806 1279 C1806.2 1278.3 1806.2 1276.3 1807.2 1275.3 C1808.2 1274.2 1809.7 1272.9 1811.9 1272.6 C1814.1 1272.3 1817.7 1272.4 1820.3 1273.6 C1822.8 1274.8 1825.8 1278.9 1827 1280" fill="none" stroke="#000" stroke-width="1.9"/>
<path d="M1806 1279 L1807.9 1287 L1887.3 1380.8" fill="none" stroke="#000" stroke-width="1.9"/>
<path d="M1807.9 1286.3 L1907.4 1364.1" fill="none" stroke="#000" stroke-width="1.3"/>
<path d="M1827 1280 C1833.1 1284.5 1852.1 1297.6 1863.8 1307.4 C1875.5 1317.3 1887.8 1330.1 1897.3 1339.3 C1906.8 1348.4 1914.1 1356.3 1920.8 1362.4 C1927.5 1368.5 1933 1372.7 1937.5 1375.8 C1942 1378.9 1946.2 1380.2 1947.9 1381.1" fill="none" stroke="#000" stroke-width="2.4"/>
<path d="M1845.4 1289.5 C1852.4 1295.8 1875.2 1316.4 1887.3 1327.2 C1899.3 1338 1908.7 1345.7 1917.4 1354.3 C1926.1 1363 1935.5 1375 1939.2 1379.1" fill="none" stroke="#000" stroke-width="1.4"/>
<path d="M1860.5 1307.1 L1863.8 1311.3" fill="none" stroke="#000" stroke-width="1.2"/>
<path d="M1904 1364.4 L1917.4 1359" fill="none" stroke="#000" stroke-width="1.3"/>
<ellipse cx="1912.4" cy="1357.7" rx="1.7" ry="1.3" transform="rotate(0 1912.4 1357.7)" fill="none" stroke="#000" stroke-width="1.3"/>
<path d="M1830.3 1278.6 L2048.1 1283" fill="none" stroke="#000" stroke-width="2.6"/>
<path d="M1857.1 1297.4 L2083.6 1298.4" fill="none" stroke="#000" stroke-width="1.9"/>
<path d="M1861.3 1302.4 L2083.6 1303.8" fill="none" stroke="#000" stroke-width="2.6"/>
<path d="M2093.3 1294.7 L2033.3 1466.2" fill="none" stroke="#000" stroke-width="1.9"/>
<path d="M2102.7 1300.7 L2061.8 1468.2" fill="none" stroke="#000" stroke-width="1.9"/>
<path d="M2084.9 1299.1 C2085.5 1298.5 2086 1296.5 2088.3 1295.7 C2090.5 1295 2095.9 1293.7 2098.3 1294.5 C2100.7 1295.4 2101.9 1299.7 2102.7 1300.7" fill="none" stroke="#000" stroke-width="1.9"/>
<path d="M2069.8 1315.5 L2078.2 1314.6 L2077.5 1323.9 L2066.8 1329.2 L2064 1327.2 L2064.8 1322.2Z" fill="none" stroke="#000" stroke-width="1.9"/>
<ellipse cx="2071.5" cy="1321.8" rx="1.8" ry="1.7" transform="rotate(0 2071.5 1321.8)" fill="none" stroke="#000" stroke-width="2.6"/>
<path d="M2039.7 1412.6 L2048.1 1411.8 L2048.1 1420.3 L2038 1425.4 L2034.7 1423.5 L2035.7 1418.5Z" fill="none" stroke="#000" stroke-width="1.9"/>
<ellipse cx="2042.2" cy="1418.7" rx="1.8" ry="1.7" transform="rotate(0 2042.2 1418.7)" fill="none" stroke="#000" stroke-width="2.6"/>
<path d="M1888.1 1387.5 C1888 1386.6 1886.9 1382.5 1887.3 1380.8 C1887.6 1379.2 1889.3 1375.9 1890.6 1375.1 C1891.9 1374.3 1894.8 1373.8 1897.3 1375.1 C1899.8 1376.4 1904.8 1381.8 1909 1385 C1913.3 1388.2 1924.4 1396.5 1929.1 1399.2 C1933.8 1401.9 1941.4 1403.8 1944.2 1405.1 C1947 1406.4 1949.4 1407.6 1950.1 1409.3 C1950.7 1411 1948.9 1415.4 1949.2 1417.7 C1949.6 1419.9 1951 1424.2 1952.6 1426 C1954.1 1427.8 1958.7 1430.7 1961 1431.1 C1963.2 1431.4 1967.5 1428.5 1969.3 1428.7 C1971.2 1428.9 1973.1 1430.4 1974.7 1432.7 C1976.3 1435.1 1979.1 1442.1 1981.1 1446.1 C1983 1450.2 1988.5 1459.5 1989.4 1462.9 C1990.3 1466.2 1988.6 1469.7 1987.8 1471.3 C1986.9 1472.8 1983.4 1474.2 1982.7 1474.6" fill="none" stroke="#000" stroke-width="1.9"/>
<path d="M1982.7 1474.6 L1955.9 1466.2 L1955.3 1457.9" fill="none" stroke="#000" stroke-width="1.9"/>
<path d="M1888.1 1387.5 L1925.8 1441.1 L1930.8 1444.5" fill="none" stroke="#000" stroke-width="1.9"/>
<path d="M1894 1383.5 C1894.4 1383 1895.3 1379.4 1897.3 1380.1 C1899.3 1380.9 1904.8 1386.1 1909 1389.2 C1913.3 1392.3 1924.7 1400.8 1929.1 1403.4 C1933.6 1406 1940.3 1407.4 1942.5 1408.4 C1944.8 1409.5 1945.5 1409.8 1945.9 1411.3 C1946.2 1412.7 1944.7 1416.9 1945.2 1419.3 C1945.8 1421.7 1948 1427.3 1950.1 1429.4 C1952.2 1431.5 1958.5 1434.7 1961 1435.2 C1963.4 1435.8 1966.4 1432.1 1968.7 1433.7 C1970.9 1435.4 1975.5 1443.9 1977.7 1447.8 C1979.9 1451.7 1984.5 1460 1985.2 1462.9 C1986 1465.8 1983.8 1468.7 1983.6 1469.6" fill="none" stroke="#000" stroke-width="1.4"/>
<path d="M1894 1383.5 L1930.8 1439.4" fill="none" stroke="#000" stroke-width="1.4"/>
<path d="M1983.6 1469.6 L1957.9 1462.2" fill="none" stroke="#000" stroke-width="1.4"/>
<path d="M1926.6 1453.2 C1927.3 1451.9 1928.7 1447.2 1930.8 1445.5 C1932.9 1443.7 1936.4 1442.4 1939.2 1442.8 C1942 1443.2 1945 1445.3 1947.6 1447.8 C1950.1 1450.3 1952.9 1454.5 1954.3 1457.9 C1955.7 1461.2 1956.2 1464 1955.9 1467.9 C1955.7 1471.8 1953.4 1479.1 1952.9 1481.3" fill="none" stroke="#000" stroke-width="1.9"/>
<path d="M1969.3 1434.4 L1980.2 1461.2" fill="none" stroke="#000" stroke-width="1.2"/>
<path d="M1972.7 1433.6 L1982.7 1457.9" fill="none" stroke="#000" stroke-width="1.2"/>
<path d="M1947.9 1381.1 L1954.3 1389.2 L1967.7 1387.5 L1987.8 1404.3 L1994.5 1409.3 L2004.5 1424.4 L2019.6 1457.9 L2026.3 1468.2" fill="none" stroke="#000" stroke-width="1.9"/>
<path d="M1953.4 1389.2 L1954.3 1395.9 L1972.7 1404.3 L1986.1 1431.1 L2004.5 1471.3" fill="none" stroke="#000" stroke-width="1.9"/>
<path d="M1972.7 1404.3 L1978 1400.9 L1993.1 1427.7 L2014.6 1467.9" fill="none" stroke="#000" stroke-width="1.9"/>
<path d="M1986.1 1431.1 L2004.5 1429.4" fill="none" stroke="#000" stroke-width="1.9"/>
<path d="M1999.5 1422.7 L2006.2 1429.4" fill="none" stroke="#000" stroke-width="3"/>
<ellipse cx="1962.3" cy="1414.3" rx="3.7" ry="4.4" transform="rotate(20 1962.3 1414.3)" fill="none" stroke="#000" stroke-width="2.2"/>
<ellipse cx="1962.6" cy="1414.6" rx="1.7" ry="2.2" transform="rotate(20 1962.6 1414.6)" fill="none" stroke="#000" stroke-width="1.9"/>
<path d="M1980.7 1414.3 L1984.4 1412 L1988.1 1414.3 L1988.1 1418.7 L1984.4 1420.7 L1980.7 1418.7Z" fill="none" stroke="#000" stroke-width="2.2"/>
<path d="M1939.2 1379.1 C1940 1379.8 1941.7 1382.2 1944.2 1383.3 C1946.7 1384.4 1951.2 1384.9 1954.3 1385.8 C1957.3 1386.8 1961.2 1388.6 1962.6 1389.2" fill="none" stroke="#000" stroke-width="3"/>
<path d="M1903.2 1428.5 C1904.1 1429.8 1906.1 1431.8 1909 1436.1 C1912 1440.4 1917.1 1450 1920.8 1454.5 C1924.4 1459 1925.2 1459.3 1930.8 1462.9 C1936.4 1466.5 1942 1470.1 1954.3 1476.3 C1966.5 1482.5 1996.1 1496.1 2004.5 1500.1" fill="none" stroke="#000" stroke-width="2.6"/>
<path d="M1926.6 1453.2 C1931.2 1456.2 1941.6 1464.3 1954.3 1471.3 C1967 1478.2 1994.7 1490.8 2002.8 1494.7" fill="none" stroke="#000" stroke-width="1.9"/>
<path d="M2033.8 1469.4 C2031.9 1468.8 2026 1466.2 2022.5 1465.6 C2019 1465 2015.6 1464.7 2012.5 1465.6 C2009.4 1466.6 2005.5 1468 2003.8 1471.2 C2002 1474.5 2001.2 1480.2 2001.9 1485 C2002.5 1489.8 2004.7 1496 2007.5 1500 C2010.3 1504 2015 1507.3 2018.8 1509 C2022.5 1510.7 2026.5 1510.5 2030 1510.2 C2033.5 1510 2035.8 1508.4 2040 1507.8 C2044.2 1507.1 2051.2 1505.8 2055 1506.2 C2058.8 1506.7 2060 1508.1 2062.5 1510.2 C2065 1512.4 2068.8 1517.5 2070 1519" fill="none" stroke="#000" stroke-width="2.6"/>
<path d="M2015 1470 L2025 1493.8 L2020 1507.8" fill="none" stroke="#000" stroke-width="1.9"/>
<path d="M2015 1470 L2042.5 1483.8 L2052.8 1485.2" fill="none" stroke="#000" stroke-width="1.9"/>
<path d="M2025 1493.8 L2042.5 1483.8" fill="none" stroke="#000" stroke-width="1.9"/>
<path d="M2025 1493.8 C2026.7 1495 2030 1500.2 2035 1501.2 C2040 1502.3 2051.9 1500.2 2055.2 1500" fill="none" stroke="#000" stroke-width="1.9"/>
<path d="M2010 1472.5 L2018.8 1495" fill="none" stroke="#000" stroke-width="1.3"/>
<path d="M2042.5 1483.8 L2046.2 1500" fill="none" stroke="#000" stroke-width="1.3"/>
<path d="M2035 1501.2 L2033.1 1509.4" fill="none" stroke="#000" stroke-width="1.3"/>
<ellipse cx="2028.8" cy="1496.5" rx="1.5" ry="1.5" transform="rotate(0 2028.8 1496.5)" fill="none" stroke="#000" stroke-width="1.6"/>
<path d="M2033.8 1469.4 C2034.4 1468.4 2035.4 1465.1 2037.5 1463.8 C2039.6 1462.4 2043.3 1461 2046.2 1461.2 C2049.2 1461.5 2052.7 1463.5 2055 1465 C2057.3 1466.5 2059.2 1469.4 2060 1470.2" fill="none" stroke="#000" stroke-width="2.4"/>
<path d="M2037.5 1468.1 C2038.8 1467.6 2042.5 1464.9 2045 1465 C2047.5 1465.1 2051.2 1468.3 2052.5 1469" fill="none" stroke="#000" stroke-width="1.4"/>
<path d="M2047.5 1466.5 L2052.8 1485.2" fill="none" stroke="#000" stroke-width="1.3"/>
<path d="M2055 1469.4 C2056.9 1470.7 2062.7 1475.3 2066.2 1477.5 C2069.8 1479.7 2073.1 1481.5 2076.2 1482.5 C2079.4 1483.5 2081.9 1482.7 2085 1483.8 C2088.1 1484.8 2092.1 1486.5 2095 1488.8 C2097.9 1491 2100.7 1494.4 2102.5 1497.5 C2104.3 1500.6 2105.6 1504.2 2105.6 1507.5 C2105.6 1510.8 2104.3 1514.6 2102.5 1517.5 C2100.7 1520.4 2097.9 1523.4 2095 1525 C2092.1 1526.6 2087.9 1527.3 2085 1527.1 C2082.1 1527 2078.8 1524.5 2077.5 1524" fill="none" stroke="#000" stroke-width="2.4"/>
<ellipse cx="2080.2" cy="1510.2" rx="10.2" ry="15.2" transform="rotate(-32 2080.2 1510.2)" fill="none" stroke="#000" stroke-width="2.4"/>
<path d="M2088.3 1518.3 L2087.8 1519.5 L2087.2 1520.6 L2086.4 1521.5 L2085.4 1522.2 L2084.3 1522.6 L2083.2 1522.9 L2081.9 1522.9 L2080.5 1522.7 L2079.2 1522.3 L2077.8 1521.6 L2076.4 1520.8 L2075.1 1519.7 L2073.9 1518.5 L2072.7 1517.2 L2071.7 1515.7 L2070.8 1514.2 L2070 1512.6 L2069.5 1510.9 L2069 1509.3 L2068.8 1507.7 L2068.8 1506.2 L2068.9 1504.7 L2069.3 1503.4 L2069.8 1502.2" fill="none" stroke="#000" stroke-width="5"/>
<path d="M2076.7 1498.7 L2077.5 1498.5 L2078.3 1498.5 L2079.2 1498.5 L2080.1 1498.7 L2081 1499 L2081.9 1499.4 L2082.8 1499.9 L2083.7 1500.5 L2084.6 1501.2 L2085.4 1501.9 L2086.3 1502.8 L2087 1503.7 L2087.8 1504.7 L2088.4 1505.7 L2089 1506.8 L2089.5 1507.9 L2090 1509 L2090.3 1510.1 L2090.6 1511.2 L2090.8 1512.3 L2090.9 1513.3 L2090.9 1514.3 L2090.8 1515.3 L2090.6 1516.2" fill="none" stroke="#000" stroke-width="1.4"/>
<path d="M2067.5 1490 L2078.8 1485" fill="none" stroke="#000" stroke-width="1.4"/>
<path d="M2060 1493.8 C2060.6 1495.6 2061.7 1500.8 2063.8 1505 C2065.8 1509.2 2071 1516.7 2072.5 1519" fill="none" stroke="#000" stroke-width="1.6"/>
<path d="M2052.8 1485.2 C2054 1486 2057.5 1489.2 2060 1490 C2062.5 1490.8 2066.2 1490 2067.5 1490" fill="none" stroke="#000" stroke-width="1.6"/>
<path d="M2076.2 1510 L2083.1 1506.2" fill="none" stroke="#000" stroke-width="1.3"/>
<path d="M2090.6 1210.6 L2138.8 1205.6 L2141.5 1215 L2140 1231.9 L2132.8 1236.5" fill="none" stroke="#000" stroke-width="2.2"/>
<ellipse cx="2093.1" cy="1225.2" rx="3" ry="14" transform="rotate(-4 2093.1 1225.2)" fill="none" stroke="#000" stroke-width="2.2"/>
<path d="M2094 1239.8 L2101.9 1239" fill="none" stroke="#000" stroke-width="2.2"/>
<path d="M2095.9 1211.5 L2096.3 1211.6 L2096.7 1211.9 L2097.1 1212.5 L2097.4 1213.2 L2097.8 1214.2 L2098.1 1215.3 L2098.5 1216.6 L2098.8 1218.1 L2099 1219.7 L2099.3 1221.3 L2099.5 1223.1 L2099.6 1224.8 L2099.7 1226.6 L2099.8 1228.3 L2099.8 1230 L2099.7 1231.6 L2099.6 1233 L2099.5 1234.4 L2099.3 1235.6 L2099.1 1236.6 L2098.8 1237.4 L2098.5 1238 L2098.2 1238.3 L2097.8 1238.5" fill="none" stroke="#000" stroke-width="1.5"/>
<path d="M2137.2 1232.5 L2136.8 1232.4 L2136.4 1232.1 L2136.1 1231.5 L2135.7 1230.8 L2135.3 1229.8 L2135 1228.7 L2134.6 1227.4 L2134.3 1225.9 L2134.1 1224.3 L2133.8 1222.7 L2133.7 1220.9 L2133.5 1219.2 L2133.4 1217.4 L2133.4 1215.7 L2133.4 1214 L2133.4 1212.4 L2133.5 1211 L2133.6 1209.6 L2133.8 1208.4 L2134.1 1207.4 L2134.3 1206.6 L2134.6 1206 L2135 1205.7 L2135.3 1205.5" fill="none" stroke="#000" stroke-width="1.5"/>
<ellipse cx="2116.9" cy="1207.8" rx="1.9" ry="1.8" transform="rotate(0 2116.9 1207.8)" fill="none" stroke="#000" stroke-width="3"/>
<path d="M2080.6 1220 L2090 1218.2 L2090.8 1231.5 L2081.9 1233.2Z" fill="none" stroke="#000" stroke-width="3"/>
<path d="M2085.6 1219 L2086.2 1232.5" fill="none" stroke="#000" stroke-width="2.4"/>
<path d="M2088.1 1218.5 L2088.8 1232" fill="none" stroke="#000" stroke-width="1.6"/>
<path d="M2141.5 1213.2 L2150 1212 L2158.8 1216.9 L2159.4 1222.8 L2152.5 1226.5 L2142.8 1227.8" fill="none" stroke="#000" stroke-width="2.6"/>
<path d="M2146.2 1212.5 L2146.9 1227.2" fill="none" stroke="#000" stroke-width="2.6"/>
<path d="M2150 1212 L2150.6 1226.9" fill="none" stroke="#000" stroke-width="2"/>
<path d="M2154.4 1214.4 L2154.8 1225.2" fill="none" stroke="#000" stroke-width="2.4"/>
<path d="M2091.9 1273.8 C2093 1269.8 2096.6 1257.7 2098.8 1250 C2100.9 1242.3 2103.1 1232.5 2105 1227.5 C2106.9 1222.5 2107.5 1221.9 2110 1220 C2112.5 1218.1 2117.1 1216.2 2120 1216.2 C2122.9 1216.2 2125.4 1218.1 2127.5 1220 C2129.6 1221.9 2131.6 1225 2132.5 1227.5 C2133.4 1230 2134 1231.2 2133.1 1235 C2132.3 1238.8 2128.4 1247.7 2127.5 1250.2" fill="none" stroke="#000" stroke-width="2.2"/>
<path d="M2127.5 1250.2 C2127.1 1248.8 2126 1243.2 2125 1241.2 C2124 1239.2 2122.4 1238.2 2121.2 1238.2 C2120.1 1238.2 2118.6 1240.8 2118.1 1241.2" fill="none" stroke="#000" stroke-width="2.2"/>
<path d="M2118.1 1241.2 L2109.4 1267.5" fill="none" stroke="#000" stroke-width="2.2"/>
<path d="M2127.5 1250.2 C2127.9 1250.9 2128.7 1252.8 2130 1254 C2131.3 1255.2 2134.4 1256.9 2135.2 1257.5" fill="none" stroke="#000" stroke-width="2.4"/>
<path d="M2048.8 1283.1 C2053.5 1282.2 2068.5 1279.5 2077.5 1277.5 C2086.5 1275.5 2094.2 1273.5 2102.5 1271.2 C2110.8 1269 2120.8 1265.6 2127.5 1263.8 C2134.2 1261.9 2140.2 1260.6 2142.8 1260" fill="none" stroke="#000" stroke-width="2.2"/>
<path d="M2051.2 1285.9 C2056 1284.9 2071 1282.2 2080 1280.2 C2089 1278.3 2096.7 1276.3 2105 1274 C2113.3 1271.7 2125.8 1267.8 2130 1266.5" fill="none" stroke="#000" stroke-width="1.5"/>
<path d="M2048.1 1291.9 C2053 1291.4 2068.4 1290.3 2077.5 1288.8 C2086.6 1287.2 2094.2 1285 2102.5 1282.5 C2110.8 1280 2122 1275.8 2127.5 1273.8 C2133 1271.7 2134 1270.6 2135.2 1270" fill="none" stroke="#000" stroke-width="2.2"/>
<path d="M2050 1295.2 C2054.6 1294.7 2069.8 1293.2 2077.5 1292 C2085.2 1290.8 2090.8 1289.3 2096.2 1287.8 C2101.7 1286.2 2107.7 1283.4 2110 1282.5" fill="none" stroke="#000" stroke-width="1.5"/>
<path d="M2049.8 1286 L2049.5 1286 L2049.3 1285.9 L2049.1 1285.9 L2048.9 1285.8 L2048.7 1285.7 L2048.5 1285.6 L2048.4 1285.4 L2048.2 1285.2 L2048.1 1285.1 L2048.1 1284.9 L2048 1284.7 L2048 1284.5 L2048 1284.3 L2048.1 1284.1 L2048.1 1283.9 L2048.2 1283.8 L2048.4 1283.6 L2048.5 1283.4 L2048.7 1283.3 L2048.9 1283.2 L2049.1 1283.1 L2049.3 1283.1 L2049.5 1283 L2049.8 1283" fill="none" stroke="#000" stroke-width="2.2"/>
<path d="M2049 1295.2 L2048.8 1295.2 L2048.5 1295.2 L2048.3 1295.1 L2048.1 1295 L2047.9 1294.9 L2047.8 1294.7 L2047.6 1294.6 L2047.5 1294.4 L2047.4 1294.2 L2047.3 1294 L2047.3 1293.7 L2047.2 1293.5 L2047.3 1293.3 L2047.3 1293 L2047.4 1292.8 L2047.5 1292.6 L2047.6 1292.4 L2047.8 1292.3 L2047.9 1292.1 L2048.1 1292 L2048.3 1291.9 L2048.5 1291.8 L2048.8 1291.8 L2049 1291.8" fill="none" stroke="#000" stroke-width="2.2"/>
<path d="M2040 1282.8 L2048.8 1283.1" fill="none" stroke="#000" stroke-width="2.6"/>
<path d="M2040 1300.2 L2082.5 1300.2" fill="none" stroke="#000" stroke-width="1.9"/>
<path d="M2040 1304.5 L2081.2 1304.5" fill="none" stroke="#000" stroke-width="2.6"/>
<path d="M2083.8 1300 C2084.4 1299.3 2085.4 1296.7 2087.5 1295.8 C2089.6 1294.8 2094 1294.2 2096.2 1294.5 C2098.5 1294.8 2100.4 1297 2101.2 1297.5" fill="none" stroke="#000" stroke-width="2.2"/>
<path d="M2101.2 1297.5 C2102.7 1296.7 2106 1294.6 2110 1292.5 C2114 1290.4 2120.8 1287.5 2125 1285 C2129.2 1282.5 2133.3 1278.8 2135 1277.5" fill="none" stroke="#000" stroke-width="1.5"/>
<path d="M2143.8 1260 C2144.8 1259.1 2147.5 1255.2 2150 1254.4 C2152.5 1253.5 2155.8 1253.9 2158.8 1255 C2161.7 1256.1 2165.1 1258.5 2167.5 1261.2 C2169.9 1264 2172.4 1267.7 2173.2 1271.2 C2174.1 1274.8 2173.2 1279.4 2172.5 1282.5 C2171.8 1285.6 2170.2 1287.5 2168.8 1290 C2167.3 1292.5 2165.2 1295.4 2163.8 1297.5 C2162.3 1299.6 2160.8 1301.7 2160.2 1302.5" fill="none" stroke="#000" stroke-width="3.4"/>
<path d="M2150 1267.5 C2151.7 1267.9 2156.9 1267.9 2160 1270 C2163.1 1272.1 2167.3 1278.5 2168.8 1280.2" fill="none" stroke="#000" stroke-width="5"/>
<path d="M2146.2 1275 C2147.9 1275.4 2152.9 1275.2 2156.2 1277.5 C2159.6 1279.8 2164.8 1287.1 2166.5 1289" fill="none" stroke="#000" stroke-width="5"/>
<path d="M2152.5 1260 C2154.2 1260.6 2159.5 1261.7 2162.5 1263.8 C2165.5 1265.8 2169.3 1271 2170.6 1272.5" fill="none" stroke="#000" stroke-width="2.2"/>
<path d="M2143.8 1260 C2143.1 1261.7 2140.6 1266.2 2140 1270 C2139.4 1273.8 2139.4 1279.2 2140 1282.5 C2140.6 1285.8 2142.1 1287.9 2143.8 1290 C2145.4 1292.1 2149 1294.2 2150 1295" fill="none" stroke="#000" stroke-width="2.4"/>
<path d="M2150 1295 C2151 1294.2 2154.5 1288.8 2156.2 1290 C2158 1291.2 2159.6 1300.4 2160.2 1302.5" fill="none" stroke="#000" stroke-width="2.2"/>
<path d="M2145 1285 C2146.2 1285.8 2150 1287.9 2152.5 1290 C2155 1292.1 2158.8 1296.2 2160 1297.5" fill="none" stroke="#000" stroke-width="1.5"/>
<path d="M2140 1290 L2127.5 1297.5" fill="none" stroke="#000" stroke-width="1.5"/>
<path d="M2160.2 1302.5 C2159.8 1303.8 2159.5 1307.5 2157.8 1310 C2156 1312.5 2153.2 1315.6 2150 1317.5 C2146.8 1319.4 2143.8 1319.4 2138.8 1321.2 C2133.8 1323.1 2124.8 1326 2120 1328.8 C2115.2 1331.5 2112.5 1334.9 2110 1337.5 C2107.5 1340.1 2106.4 1343.6 2105 1344.5 C2103.6 1345.4 2102.1 1343 2101.5 1342.8" fill="none" stroke="#000" stroke-width="2.4"/>
<ellipse cx="2149.4" cy="1301.6" rx="4.2" ry="2.5" transform="rotate(5 2149.4 1301.6)" fill="none" stroke="#000" stroke-width="3.2"/>
<path d="M2117.5 1310.8 L2156.2 1308.8" fill="none" stroke="#000" stroke-width="1.5"/>
<path d="M2115 1319.5 L2147.5 1318.2" fill="none" stroke="#000" stroke-width="1.5"/>
<path d="M2136.2 1276.2 L2127.5 1296.2 L2110 1327.5 L2092.5 1362.5 L2081.2 1377.8 L2077.5 1376.2 L2090 1357.5 L2107.5 1325 L2125 1293.8 L2135 1275" fill="none" stroke="#000" stroke-width="1.6"/>
<path d="M2138.8 1260 L2136.2 1276.2" fill="none" stroke="#000" stroke-width="2"/>
</g>
<g id="p_60_hw_upper">
<path d="M1480.2 1295.5 L1488.2 1294.7" fill="none" stroke="#000" stroke-width="2"/>
<path d="M1478.8 1281.1 L1486.8 1280.3" fill="none" stroke="#000" stroke-width="2"/>
<ellipse cx="1479.5" cy="1288.3" rx="2.5" ry="7.2" transform="rotate(-5.7 1479.5 1288.3)" fill="none" stroke="#000" stroke-width="2"/>
<path d="M1486.8 1280.3 L1487.5 1280.5 L1488.1 1281.2 L1488.8 1282.3 L1489.3 1283.7 L1489.7 1285.4 L1490 1287.2 L1490.1 1289.1 L1490 1290.9 L1489.8 1292.4 L1489.4 1293.6 L1488.8 1294.4 L1488.2 1294.7" fill="none" stroke="#000" stroke-width="2"/>
<path d="M1479.5 1288.3 L1487.5 1287.5" fill="none" stroke="#000" stroke-width="1.2"/>
<ellipse cx="1487.5" cy="1287.5" rx="3.1" ry="8.8" transform="rotate(-5.8 1487.5 1287.5)" fill="none" stroke="#000" stroke-width="2"/>
<path d="M1489.8 1291.9 L1556.5 1285.2" fill="none" stroke="#000" stroke-width="1.9"/>
<path d="M1488.9 1282.7 L1555.5 1276" fill="none" stroke="#000" stroke-width="1.9"/>
<path d="M1489.8 1291.9 L1489.4 1291.8 L1488.9 1291.4 L1488.5 1290.7 L1488.2 1289.7 L1487.9 1288.7 L1487.7 1287.5 L1487.7 1286.3 L1487.7 1285.2 L1487.9 1284.2 L1488.1 1283.4 L1488.5 1282.9 L1488.9 1282.7" fill="none" stroke="#000" stroke-width="1.9"/>
<path d="M1555.5 1276 L1556 1276.1 L1556.4 1276.6 L1556.8 1277.2 L1557.2 1278.2 L1557.4 1279.3 L1557.6 1280.4 L1557.7 1281.6 L1557.6 1282.7 L1557.5 1283.7 L1557.2 1284.5 L1556.9 1285 L1556.5 1285.2" fill="none" stroke="#000" stroke-width="1.9"/>
<path d="M1490.1 1287.2 L1490.1 1287.2 L1490.1 1287.2 L1490.1 1287.2 L1490.1 1287.2 L1490.1 1287.2 L1490.1 1287.2 L1490.1 1287.2 L1490.1 1287.2 L1490.1 1287.2 L1490.1 1287.2 L1490.1 1287.2 L1490.1 1287.2 L1490.1 1287.2 L1490.1 1287.2 L1490.1 1287.2 L1490.1 1287.2 L1490.1 1287.2 L1490.1 1287.2 L1490.1 1287.2 L1490.1 1287.2 L1490.1 1287.2 L1490.1 1287.2 L1490.1 1287.2 L1490.1 1287.2" fill="none" stroke="#000" stroke-width="1.9"/>
<ellipse cx="1556" cy="1280.6" rx="1.6" ry="4.6" transform="rotate(-5.8 1556 1280.6)" fill="none" stroke="#000" stroke-width="1.4"/>
<path d="M1599.5 1291.4 L1602.5 1291.1" fill="none" stroke="#000" stroke-width="2"/>
<path d="M1596.6 1263.6 L1599.5 1263.3" fill="none" stroke="#000" stroke-width="2"/>
<ellipse cx="1598" cy="1277.5" rx="4.2" ry="14" transform="rotate(-6 1598 1277.5)" fill="none" stroke="#000" stroke-width="2"/>
<path d="M1599.5 1263.3 L1600.7 1263.6 L1601.8 1264.9 L1602.9 1267 L1603.9 1269.9 L1604.7 1273.2 L1605.2 1276.8 L1605.4 1280.4 L1605.4 1283.8 L1605 1286.7 L1604.4 1289 L1603.5 1290.5 L1602.5 1291.1" fill="none" stroke="#000" stroke-width="2"/>
<path d="M1602 1287.1 L1621 1285.1" fill="none" stroke="#000" stroke-width="1.9"/>
<path d="M1600 1267.3 L1619 1265.3" fill="none" stroke="#000" stroke-width="1.9"/>
<path d="M1602 1287.1 L1601.2 1286.9 L1600.4 1286 L1599.6 1284.5 L1598.9 1282.4 L1598.4 1280.1 L1598 1277.5 L1597.8 1274.9 L1597.9 1272.5 L1598.2 1270.4 L1598.6 1268.7 L1599.2 1267.7 L1600 1267.3" fill="none" stroke="#000" stroke-width="1.9"/>
<path d="M1619 1265.3 L1619.8 1265.5 L1620.6 1266.4 L1621.4 1267.9 L1622.1 1270 L1622.6 1272.3 L1623 1274.9 L1623.2 1277.5 L1623.1 1279.9 L1622.8 1282 L1622.4 1283.7 L1621.8 1284.7 L1621 1285.1" fill="none" stroke="#000" stroke-width="1.9"/>
<path d="M1621 1285.1 L1620.6 1285.1 L1620.2 1284.9 L1619.8 1284.5 L1619.4 1284 L1619 1283.3 L1618.6 1282.5 L1618.3 1281.5 L1617.9 1280.4 L1617.6 1279.3 L1617.4 1278.1 L1617.2 1276.8 L1617 1275.5 L1616.9 1274.2 L1616.8 1272.9 L1616.8 1271.7 L1616.9 1270.5 L1617 1269.4 L1617.2 1268.4 L1617.4 1267.5 L1617.6 1266.7 L1617.9 1266.1 L1618.2 1265.7 L1618.6 1265.4 L1619 1265.3" fill="none" stroke="#000" stroke-width="1.2"/>
<ellipse cx="1598" cy="1277.5" rx="1.8" ry="6" transform="rotate(-6 1598 1277.5)" fill="none" stroke="#000" stroke-width="1.4"/>
<path d="M1670.5 1278.7 L1718.5 1273.7" fill="none" stroke="#000" stroke-width="1.9"/>
<path d="M1668.5 1260.3 L1716.5 1255.3" fill="none" stroke="#000" stroke-width="1.9"/>
<ellipse cx="1669.5" cy="1269.5" rx="2.8" ry="9.3" transform="rotate(-5.9 1669.5 1269.5)" fill="none" stroke="#000" stroke-width="1.9"/>
<path d="M1716.5 1255.3 L1717.3 1255.5 L1718.1 1256.3 L1718.8 1257.8 L1719.4 1259.6 L1719.9 1261.8 L1720.3 1264.2 L1720.4 1266.6 L1720.4 1268.9 L1720.1 1270.8 L1719.7 1272.4 L1719.1 1273.4 L1718.5 1273.7" fill="none" stroke="#000" stroke-width="1.9"/>
<path d="M1911 1250.5 L1930 1248.6" fill="none" stroke="#000" stroke-width="1.9"/>
<path d="M1909 1230.5 L1928 1228.6" fill="none" stroke="#000" stroke-width="1.9"/>
<ellipse cx="1910" cy="1240.5" rx="3" ry="10" transform="rotate(-5.7 1910 1240.5)" fill="none" stroke="#000" stroke-width="1.9"/>
<path d="M1928 1228.6 L1928.8 1228.9 L1929.6 1229.8 L1930.4 1231.4 L1931.1 1233.4 L1931.6 1235.7 L1932 1238.3 L1932.1 1240.9 L1932.1 1243.3 L1931.8 1245.4 L1931.4 1247.1 L1930.7 1248.1 L1930 1248.6" fill="none" stroke="#000" stroke-width="1.9"/>
<ellipse cx="1910" cy="1240.5" rx="1.7" ry="5.5" transform="rotate(-5.7 1910 1240.5)" fill="none" stroke="#000" stroke-width="1.4"/>
<path d="M1930.4 1252.5 L1933.4 1252.2" fill="none" stroke="#000" stroke-width="2"/>
<path d="M1927.6 1224.7 L1930.6 1224.4" fill="none" stroke="#000" stroke-width="2"/>
<path d="M1930.4 1252.5 L1929.3 1252.2 L1928.1 1250.9 L1927 1248.7 L1926.1 1245.9 L1925.3 1242.6 L1924.8 1239 L1924.6 1235.4 L1924.7 1232 L1925.1 1229 L1925.7 1226.7 L1926.6 1225.3 L1927.6 1224.7" fill="none" stroke="#000" stroke-width="2"/>
<path d="M1930.6 1224.4 L1931.7 1224.7 L1932.9 1226 L1934 1228.2 L1934.9 1231 L1935.7 1234.3 L1936.2 1237.9 L1936.4 1241.5 L1936.3 1244.9 L1935.9 1247.9 L1935.3 1250.2 L1934.4 1251.6 L1933.4 1252.2" fill="none" stroke="#000" stroke-width="2"/>
<path d="M1930.4 1252.5 L1929.8 1252.5 L1929.3 1252.2 L1928.7 1251.6 L1928.1 1250.9 L1927.6 1249.9 L1927 1248.7 L1926.5 1247.4 L1926.1 1245.9 L1925.7 1244.3 L1925.3 1242.6 L1925 1240.8 L1924.8 1239 L1924.7 1237.2 L1924.6 1235.4 L1924.6 1233.7 L1924.7 1232 L1924.8 1230.5 L1925.1 1229 L1925.4 1227.8 L1925.7 1226.7 L1926.1 1225.9 L1926.6 1225.3 L1927.1 1224.8 L1927.6 1224.7" fill="none" stroke="#000" stroke-width="2"/>
<path d="M1985.6 1241 L1991.6 1240.3" fill="none" stroke="#000" stroke-width="1.9"/>
<path d="M1984.4 1231 L1990.4 1230.3" fill="none" stroke="#000" stroke-width="1.9"/>
<ellipse cx="1985" cy="1236" rx="1.5" ry="5" transform="rotate(-6.7 1985 1236)" fill="none" stroke="#000" stroke-width="1.9"/>
<path d="M1990.4 1230.3 L1990.8 1230.5 L1991.2 1230.9 L1991.6 1231.7 L1992 1232.7 L1992.3 1233.8 L1992.5 1235.1 L1992.6 1236.4 L1992.6 1237.6 L1992.5 1238.7 L1992.2 1239.5 L1991.9 1240.1 L1991.6 1240.3" fill="none" stroke="#000" stroke-width="1.9"/>
<ellipse cx="1985" cy="1236" rx="0.8" ry="2.8" transform="rotate(-6.7 1985 1236)" fill="none" stroke="#000" stroke-width="1.4"/>
<path d="M1992 1243.7 L1994.5 1243.5" fill="none" stroke="#000" stroke-width="2"/>
<path d="M1990 1226.9 L1992.5 1226.6" fill="none" stroke="#000" stroke-width="2"/>
<path d="M1992 1243.7 L1991.3 1243.5 L1990.6 1242.8 L1989.9 1241.5 L1989.3 1239.8 L1988.8 1237.8 L1988.5 1235.6 L1988.3 1233.4 L1988.3 1231.3 L1988.5 1229.5 L1988.9 1228.1 L1989.4 1227.2 L1990 1226.9" fill="none" stroke="#000" stroke-width="2"/>
<path d="M1992.5 1226.6 L1993.2 1226.8 L1993.9 1227.6 L1994.6 1228.8 L1995.2 1230.5 L1995.7 1232.5 L1996 1234.7 L1996.2 1236.9 L1996.2 1239 L1996 1240.8 L1995.6 1242.2 L1995.1 1243.1 L1994.5 1243.5" fill="none" stroke="#000" stroke-width="2"/>
<path d="M1992 1243.7 L1991.6 1243.7 L1991.3 1243.5 L1990.9 1243.2 L1990.6 1242.8 L1990.2 1242.2 L1989.9 1241.5 L1989.6 1240.7 L1989.3 1239.8 L1989 1238.8 L1988.8 1237.8 L1988.6 1236.7 L1988.5 1235.6 L1988.4 1234.5 L1988.3 1233.4 L1988.3 1232.3 L1988.3 1231.3 L1988.4 1230.4 L1988.5 1229.5 L1988.7 1228.8 L1988.9 1228.1 L1989.1 1227.6 L1989.4 1227.2 L1989.7 1227 L1990 1226.9" fill="none" stroke="#000" stroke-width="2"/>
<ellipse cx="1774" cy="1208.3" rx="3.2" ry="14.5" transform="rotate(-5 1774 1208.3)" fill="none" stroke="#000" stroke-width="2.2"/>
<ellipse cx="1776" cy="1208.1" rx="3.2" ry="14.5" transform="rotate(-5 1776 1208.1)" fill="none" stroke="#000" stroke-width="1.4"/>
<ellipse cx="1818.3" cy="1203.3" rx="3.2" ry="14.5" transform="rotate(-5 1818.3 1203.3)" fill="none" stroke="#000" stroke-width="2.2"/>
<ellipse cx="1820.3" cy="1203.1" rx="3.2" ry="14.5" transform="rotate(-5 1820.3 1203.1)" fill="none" stroke="#000" stroke-width="1.4"/>
<path d="M1777 1203.8 L1816.3 1198.8" fill="none" stroke="#000" stroke-width="1.9"/>
<path d="M1777 1212.8 L1816.3 1207.8" fill="none" stroke="#000" stroke-width="1.9"/>
<ellipse cx="1812.3" cy="1203.8" rx="1.6" ry="1.6" transform="rotate(0 1812.3 1203.8)" fill="none" stroke="#000" stroke-width="2.2"/>
<path d="M1771 1220.3 L1775 1223.3" fill="none" stroke="#000" stroke-width="1.9"/>
<path d="M1815.3 1215.3 L1819.3 1218.3" fill="none" stroke="#000" stroke-width="1.9"/>
<ellipse cx="955" cy="1678.3" rx="3.2" ry="14.5" transform="rotate(-5 955 1678.3)" fill="none" stroke="#000" stroke-width="2.2"/>
<ellipse cx="957" cy="1678.1" rx="3.2" ry="14.5" transform="rotate(-5 957 1678.1)" fill="none" stroke="#000" stroke-width="1.4"/>
<ellipse cx="1000" cy="1673.3" rx="3.2" ry="14.5" transform="rotate(-5 1000 1673.3)" fill="none" stroke="#000" stroke-width="2.2"/>
<ellipse cx="1002" cy="1673.1" rx="3.2" ry="14.5" transform="rotate(-5 1002 1673.1)" fill="none" stroke="#000" stroke-width="1.4"/>
<path d="M958 1673.8 L998 1668.8" fill="none" stroke="#000" stroke-width="1.9"/>
<path d="M958 1682.8 L998 1677.8" fill="none" stroke="#000" stroke-width="1.9"/>
<ellipse cx="994" cy="1673.8" rx="1.6" ry="1.6" transform="rotate(0 994 1673.8)" fill="none" stroke="#000" stroke-width="2.2"/>
<path d="M952 1690.3 L956 1693.3" fill="none" stroke="#000" stroke-width="1.9"/>
<path d="M997 1685.3 L1001 1688.3" fill="none" stroke="#000" stroke-width="1.9"/>
<path d="M1284.7 1470.4 L1293.2 1469.6" fill="none" stroke="#000" stroke-width="2"/>
<path d="M1283.3 1456 L1291.8 1455.2" fill="none" stroke="#000" stroke-width="2"/>
<ellipse cx="1284" cy="1463.2" rx="2.5" ry="7.2" transform="rotate(-5.4 1284 1463.2)" fill="none" stroke="#000" stroke-width="2"/>
<path d="M1291.8 1455.2 L1292.5 1455.4 L1293.2 1456.1 L1293.8 1457.2 L1294.3 1458.6 L1294.7 1460.3 L1295 1462.2 L1295.1 1464 L1295 1465.8 L1294.8 1467.3 L1294.3 1468.5 L1293.8 1469.3 L1293.2 1469.6" fill="none" stroke="#000" stroke-width="2"/>
<path d="M1284 1463.2 L1292.5 1462.4" fill="none" stroke="#000" stroke-width="1.2"/>
<ellipse cx="1292.5" cy="1462.4" rx="3.1" ry="8.8" transform="rotate(-5.3 1292.5 1462.4)" fill="none" stroke="#000" stroke-width="2"/>
<path d="M1294.8 1466.8 L1362.1 1460.6" fill="none" stroke="#000" stroke-width="1.9"/>
<path d="M1293.9 1457.6 L1361.3 1451.4" fill="none" stroke="#000" stroke-width="1.9"/>
<path d="M1294.8 1466.8 L1294.3 1466.7 L1293.9 1466.3 L1293.5 1465.6 L1293.2 1464.6 L1292.9 1463.6 L1292.7 1462.4 L1292.7 1461.2 L1292.7 1460.1 L1292.9 1459.1 L1293.2 1458.3 L1293.5 1457.8 L1293.9 1457.6" fill="none" stroke="#000" stroke-width="1.9"/>
<path d="M1361.3 1451.4 L1361.7 1451.5 L1362.1 1452 L1362.5 1452.7 L1362.9 1453.6 L1363.1 1454.7 L1363.3 1455.9 L1363.4 1457 L1363.3 1458.2 L1363.1 1459.1 L1362.9 1459.9 L1362.5 1460.4 L1362.1 1460.6" fill="none" stroke="#000" stroke-width="1.9"/>
<path d="M1295.1 1462.2 L1295.1 1462.2 L1295.1 1462.2 L1295.1 1462.2 L1295.1 1462.2 L1295.1 1462.2 L1295.1 1462.2 L1295.1 1462.2 L1295.1 1462.2 L1295.1 1462.2 L1295.1 1462.2 L1295.1 1462.2 L1295.1 1462.2 L1295.1 1462.2 L1295.1 1462.2 L1295.1 1462.2 L1295.1 1462.2 L1295.1 1462.2 L1295.1 1462.2 L1295.1 1462.2 L1295.1 1462.2 L1295.1 1462.2 L1295.1 1462.2 L1295.1 1462.2 L1295.1 1462.2" fill="none" stroke="#000" stroke-width="1.9"/>
<ellipse cx="1361.7" cy="1456" rx="1.6" ry="4.6" transform="rotate(-5.3 1361.7 1456)" fill="none" stroke="#000" stroke-width="1.4"/>
<path d="M1511.4 1446.2 L1518.4 1445.6" fill="none" stroke="#000" stroke-width="1.9"/>
<path d="M1510.6 1436.2 L1517.6 1435.6" fill="none" stroke="#000" stroke-width="1.9"/>
<ellipse cx="1511" cy="1441.2" rx="1.5" ry="5" transform="rotate(-4.9 1511 1441.2)" fill="none" stroke="#000" stroke-width="1.9"/>
<path d="M1517.6 1435.6 L1518 1435.8 L1518.4 1436.2 L1518.8 1437 L1519.1 1438 L1519.3 1439.2 L1519.5 1440.5 L1519.6 1441.8 L1519.5 1443 L1519.4 1444 L1519.1 1444.9 L1518.8 1445.4 L1518.4 1445.6" fill="none" stroke="#000" stroke-width="1.9"/>
<ellipse cx="1511" cy="1441.2" rx="0.8" ry="2.8" transform="rotate(-4.9 1511 1441.2)" fill="none" stroke="#000" stroke-width="1.4"/>
<path d="M1518.7 1449.1 L1521.2 1448.9" fill="none" stroke="#000" stroke-width="2"/>
<path d="M1517.3 1432.1 L1519.8 1431.9" fill="none" stroke="#000" stroke-width="2"/>
<path d="M1518.7 1449.1 L1518 1448.8 L1517.4 1448 L1516.7 1446.7 L1516.2 1445 L1515.7 1443 L1515.5 1440.8 L1515.4 1438.6 L1515.4 1436.6 L1515.7 1434.8 L1516.1 1433.4 L1516.6 1432.5 L1517.3 1432.1" fill="none" stroke="#000" stroke-width="2"/>
<path d="M1519.8 1431.9 L1520.4 1432.1 L1521.1 1432.9 L1521.8 1434.2 L1522.3 1436 L1522.8 1438 L1523 1440.2 L1523.1 1442.4 L1523.1 1444.4 L1522.8 1446.2 L1522.4 1447.6 L1521.8 1448.5 L1521.2 1448.9" fill="none" stroke="#000" stroke-width="2"/>
<path d="M1518.7 1449.1 L1518.4 1449 L1518 1448.8 L1517.7 1448.5 L1517.4 1448 L1517 1447.5 L1516.7 1446.7 L1516.4 1445.9 L1516.2 1445 L1515.9 1444 L1515.7 1443 L1515.6 1441.9 L1515.5 1440.8 L1515.4 1439.7 L1515.4 1438.6 L1515.4 1437.6 L1515.4 1436.6 L1515.5 1435.6 L1515.7 1434.8 L1515.9 1434 L1516.1 1433.4 L1516.4 1432.9 L1516.6 1432.5 L1516.9 1432.2 L1517.3 1432.1" fill="none" stroke="#000" stroke-width="2"/>
<path d="M641.2 1839.4 L650.2 1838.5" fill="none" stroke="#000" stroke-width="2"/>
<path d="M639.8 1825 L648.8 1824.1" fill="none" stroke="#000" stroke-width="2"/>
<ellipse cx="640.5" cy="1832.2" rx="2.5" ry="7.2" transform="rotate(-5.7 640.5 1832.2)" fill="none" stroke="#000" stroke-width="2"/>
<path d="M648.8 1824.1 L649.5 1824.3 L650.1 1825 L650.8 1826.1 L651.3 1827.5 L651.7 1829.2 L652 1831 L652.1 1832.9 L652 1834.7 L651.8 1836.2 L651.4 1837.4 L650.8 1838.2 L650.2 1838.5" fill="none" stroke="#000" stroke-width="2"/>
<path d="M640.5 1832.2 L649.5 1831.3" fill="none" stroke="#000" stroke-width="1.2"/>
<ellipse cx="649.5" cy="1831.3" rx="3.1" ry="8.8" transform="rotate(-5.9 649.5 1831.3)" fill="none" stroke="#000" stroke-width="2"/>
<path d="M651.8 1835.7 L717.8 1828.9" fill="none" stroke="#000" stroke-width="1.9"/>
<path d="M650.9 1826.5 L716.8 1819.7" fill="none" stroke="#000" stroke-width="1.9"/>
<path d="M651.8 1835.7 L651.4 1835.6 L650.9 1835.2 L650.5 1834.5 L650.2 1833.5 L649.9 1832.5 L649.7 1831.3 L649.7 1830.1 L649.7 1829 L649.9 1828 L650.1 1827.2 L650.5 1826.7 L650.9 1826.5" fill="none" stroke="#000" stroke-width="1.9"/>
<path d="M716.8 1819.7 L717.3 1819.8 L717.7 1820.3 L718.1 1820.9 L718.5 1821.9 L718.7 1823 L718.9 1824.1 L719 1825.3 L718.9 1826.4 L718.8 1827.4 L718.5 1828.2 L718.2 1828.7 L717.8 1828.9" fill="none" stroke="#000" stroke-width="1.9"/>
<path d="M652.1 1831 L652.1 1831 L652.1 1831 L652.1 1831 L652.1 1831 L652.1 1831 L652.1 1831 L652.1 1831 L652.1 1831 L652.1 1831 L652.1 1831 L652.1 1831 L652.1 1831 L652.1 1831 L652.1 1831 L652.1 1831 L652.1 1831 L652.1 1831 L652.1 1831 L652.1 1831 L652.1 1831 L652.1 1831 L652.1 1831 L652.1 1831 L652.1 1831" fill="none" stroke="#000" stroke-width="1.9"/>
<ellipse cx="717.3" cy="1824.3" rx="1.6" ry="4.6" transform="rotate(-5.9 717.3 1824.3)" fill="none" stroke="#000" stroke-width="1.4"/>
<path d="M790.8 1832.1 L793.8 1831.7" fill="none" stroke="#000" stroke-width="2"/>
<path d="M787.2 1802.3 L790.2 1801.9" fill="none" stroke="#000" stroke-width="2"/>
<ellipse cx="789" cy="1817.2" rx="4.5" ry="15" transform="rotate(-7 789 1817.2)" fill="none" stroke="#000" stroke-width="2"/>
<path d="M790.2 1801.9 L791.4 1802.3 L792.7 1803.6 L793.9 1805.9 L795 1808.9 L795.8 1812.4 L796.5 1816.3 L796.8 1820.1 L796.8 1823.8 L796.4 1826.9 L795.8 1829.4 L794.9 1831 L793.8 1831.7" fill="none" stroke="#000" stroke-width="2"/>
<path d="M793.3 1827.2 L811.3 1825" fill="none" stroke="#000" stroke-width="1.9"/>
<path d="M790.7 1806.4 L808.7 1804.2" fill="none" stroke="#000" stroke-width="1.9"/>
<path d="M793.3 1827.2 L792.4 1827 L791.5 1826 L790.7 1824.4 L789.9 1822.3 L789.3 1819.9 L788.9 1817.2 L788.7 1814.5 L788.7 1811.9 L788.9 1809.7 L789.3 1808 L790 1806.8 L790.7 1806.4" fill="none" stroke="#000" stroke-width="1.9"/>
<path d="M808.7 1804.2 L809.6 1804.4 L810.5 1805.4 L811.3 1807 L812.1 1809.1 L812.7 1811.5 L813.1 1814.2 L813.3 1816.9 L813.3 1819.5 L813.1 1821.7 L812.7 1823.4 L812 1824.6 L811.3 1825" fill="none" stroke="#000" stroke-width="1.9"/>
<path d="M811.3 1825 L810.9 1825 L810.4 1824.8 L810 1824.4 L809.5 1823.8 L809.1 1823.1 L808.7 1822.2 L808.3 1821.2 L807.9 1820.1 L807.6 1818.9 L807.3 1817.7 L807.1 1816.3 L806.9 1815 L806.7 1813.6 L806.7 1812.3 L806.6 1811 L806.7 1809.7 L806.7 1808.6 L806.9 1807.5 L807.1 1806.6 L807.3 1805.8 L807.6 1805.1 L808 1804.6 L808.3 1804.3 L808.7 1804.2" fill="none" stroke="#000" stroke-width="1.2"/>
<ellipse cx="789" cy="1817.2" rx="1.9" ry="6.3" transform="rotate(-7 789 1817.2)" fill="none" stroke="#000" stroke-width="1.4"/>
<path d="M902.7 1817.3 L949.3 1812.7" fill="none" stroke="#000" stroke-width="1.9"/>
<path d="M900.7 1797.3 L947.3 1792.7" fill="none" stroke="#000" stroke-width="1.9"/>
<ellipse cx="901.7" cy="1807.3" rx="3" ry="10" transform="rotate(-5.6 901.7 1807.3)" fill="none" stroke="#000" stroke-width="1.9"/>
<path d="M947.3 1792.7 L948.1 1793 L948.9 1793.9 L949.7 1795.5 L950.4 1797.5 L950.9 1799.8 L951.3 1802.4 L951.4 1805 L951.4 1807.4 L951.1 1809.5 L950.6 1811.2 L950 1812.2 L949.3 1812.7" fill="none" stroke="#000" stroke-width="1.9"/>
<path d="M1136.1 1793.7 L1152.1 1792" fill="none" stroke="#000" stroke-width="1.9"/>
<path d="M1133.9 1772.9 L1149.9 1771.2" fill="none" stroke="#000" stroke-width="1.9"/>
<ellipse cx="1135" cy="1783.3" rx="3.1" ry="10.5" transform="rotate(-6.1 1135 1783.3)" fill="none" stroke="#000" stroke-width="1.9"/>
<path d="M1149.9 1771.2 L1150.7 1771.4 L1151.6 1772.4 L1152.4 1774 L1153.2 1776.1 L1153.7 1778.6 L1154.1 1781.3 L1154.3 1784 L1154.3 1786.5 L1154 1788.7 L1153.5 1790.5 L1152.9 1791.6 L1152.1 1792" fill="none" stroke="#000" stroke-width="1.9"/>
<ellipse cx="1135" cy="1783.3" rx="1.7" ry="5.8" transform="rotate(-6.1 1135 1783.3)" fill="none" stroke="#000" stroke-width="1.4"/>
<path d="M1152.5 1796 L1155.5 1795.7" fill="none" stroke="#000" stroke-width="2"/>
<path d="M1149.5 1767.2 L1152.5 1766.9" fill="none" stroke="#000" stroke-width="2"/>
<path d="M1152.5 1796 L1151.4 1795.6 L1150.2 1794.3 L1149 1792.1 L1148 1789.2 L1147.2 1785.8 L1146.7 1782.1 L1146.4 1778.3 L1146.5 1774.8 L1146.9 1771.7 L1147.5 1769.3 L1148.4 1767.8 L1149.5 1767.2" fill="none" stroke="#000" stroke-width="2"/>
<path d="M1152.5 1766.9 L1153.6 1767.2 L1154.8 1768.6 L1156 1770.8 L1157 1773.7 L1157.8 1777.1 L1158.3 1780.8 L1158.6 1784.6 L1158.5 1788.1 L1158.1 1791.2 L1157.5 1793.5 L1156.6 1795.1 L1155.5 1795.7" fill="none" stroke="#000" stroke-width="2"/>
<path d="M1152.5 1796 L1152 1796 L1151.4 1795.6 L1150.8 1795.1 L1150.2 1794.3 L1149.6 1793.3 L1149 1792.1 L1148.5 1790.7 L1148 1789.2 L1147.6 1787.5 L1147.2 1785.8 L1146.9 1783.9 L1146.7 1782.1 L1146.5 1780.2 L1146.4 1778.3 L1146.4 1776.5 L1146.5 1774.8 L1146.6 1773.2 L1146.9 1771.7 L1147.2 1770.4 L1147.5 1769.3 L1147.9 1768.5 L1148.4 1767.8 L1148.9 1767.4 L1149.5 1767.2" fill="none" stroke="#000" stroke-width="2"/>
<path d="M1214.5 1780 L1221.5 1779.3" fill="none" stroke="#000" stroke-width="1.9"/>
<path d="M1213.5 1770 L1220.5 1769.3" fill="none" stroke="#000" stroke-width="1.9"/>
<ellipse cx="1214" cy="1775" rx="1.5" ry="5" transform="rotate(-5.7 1214 1775)" fill="none" stroke="#000" stroke-width="1.9"/>
<path d="M1220.5 1769.3 L1220.9 1769.5 L1221.3 1769.9 L1221.7 1770.7 L1222 1771.7 L1222.3 1772.9 L1222.5 1774.2 L1222.6 1775.4 L1222.5 1776.7 L1222.4 1777.7 L1222.2 1778.5 L1221.9 1779.1 L1221.5 1779.3" fill="none" stroke="#000" stroke-width="1.9"/>
<ellipse cx="1214" cy="1775" rx="0.8" ry="2.8" transform="rotate(-5.7 1214 1775)" fill="none" stroke="#000" stroke-width="1.4"/>
<path d="M1221.8 1782.8 L1224.3 1782.5" fill="none" stroke="#000" stroke-width="2"/>
<path d="M1220.2 1765.8 L1222.6 1765.6" fill="none" stroke="#000" stroke-width="2"/>
<path d="M1221.8 1782.8 L1221.2 1782.5 L1220.5 1781.8 L1219.8 1780.5 L1219.2 1778.7 L1218.8 1776.7 L1218.5 1774.6 L1218.3 1772.4 L1218.4 1770.3 L1218.6 1768.5 L1219 1767.1 L1219.5 1766.2 L1220.2 1765.8" fill="none" stroke="#000" stroke-width="2"/>
<path d="M1222.6 1765.6 L1223.3 1765.8 L1224 1766.6 L1224.7 1767.9 L1225.3 1769.6 L1225.7 1771.6 L1226 1773.8 L1226.2 1776 L1226.1 1778.1 L1225.9 1779.9 L1225.5 1781.2 L1225 1782.2 L1224.3 1782.5" fill="none" stroke="#000" stroke-width="2"/>
<path d="M1221.8 1782.8 L1221.5 1782.7 L1221.2 1782.5 L1220.8 1782.2 L1220.5 1781.8 L1220.1 1781.2 L1219.8 1780.5 L1219.5 1779.7 L1219.2 1778.7 L1219 1777.8 L1218.8 1776.7 L1218.6 1775.7 L1218.5 1774.6 L1218.4 1773.4 L1218.3 1772.4 L1218.3 1771.3 L1218.4 1770.3 L1218.5 1769.4 L1218.6 1768.5 L1218.8 1767.7 L1219 1767.1 L1219.2 1766.6 L1219.5 1766.2 L1219.8 1765.9 L1220.2 1765.8" fill="none" stroke="#000" stroke-width="2"/>
<path d="M1360.3 1680.7 L1366.3 1680.7 L1366.3 1692.7 L1360.3 1692.7Z" fill="none" stroke="#000" stroke-width="1.6"/>
<path d="M1360.3 1684.7 L1366.3 1684.7" fill="none" stroke="#000" stroke-width="1.2"/>
<path d="M1360.3 1688.7 L1366.3 1688.7" fill="none" stroke="#000" stroke-width="1.2"/>
<path d="M1045.5 1719 L1051.5 1719 L1051.5 1731 L1045.5 1731Z" fill="none" stroke="#000" stroke-width="1.6"/>
<path d="M1045.5 1723 L1051.5 1723" fill="none" stroke="#000" stroke-width="1.2"/>
<path d="M1045.5 1727 L1051.5 1727" fill="none" stroke="#000" stroke-width="1.2"/>
</g>
<g id="p_70_arm25">
<path d="M1021.7 1779.3 L1063.3 1774.7 L1067.7 1800" fill="none" stroke="#000" stroke-width="1.9"/>
<path d="M1026.9 1806.6 L1026.4 1806.5 L1025.9 1806.2 L1025.4 1805.7 L1024.9 1804.9 L1024.4 1803.9 L1023.9 1802.8 L1023.5 1801.4 L1023.1 1799.9 L1022.8 1798.3 L1022.5 1796.6 L1022.2 1794.8 L1022 1793 L1021.9 1791.2 L1021.8 1789.4 L1021.8 1787.6 L1021.9 1786 L1022 1784.4 L1022.2 1783 L1022.5 1781.8 L1022.8 1780.7 L1023.1 1779.9 L1023.5 1779.3 L1024 1778.9 L1024.4 1778.7" fill="none" stroke="#000" stroke-width="1.9"/>
<path d="M1025 1806.7 L1033.3 1806" fill="none" stroke="#000" stroke-width="1.9"/>
<path d="M1026.7 1804 L1026.4 1803.9 L1026.1 1803.6 L1025.8 1803.2 L1025.5 1802.5 L1025.2 1801.7 L1025 1800.8 L1024.7 1799.7 L1024.4 1798.5 L1024.2 1797.1 L1024 1795.8 L1023.8 1794.3 L1023.7 1792.8 L1023.6 1791.4 L1023.5 1789.9 L1023.4 1788.5 L1023.4 1787.2 L1023.5 1785.9 L1023.6 1784.8 L1023.7 1783.8 L1023.8 1783 L1024 1782.3 L1024.2 1781.8 L1024.4 1781.5 L1024.7 1781.4" fill="none" stroke="#000" stroke-width="1.3"/>
<ellipse cx="1045" cy="1780" rx="1.7" ry="1.3" transform="rotate(0 1045 1780)" fill="none" stroke="#000" stroke-width="2.2"/>
<path d="M1032.7 1807.3 C1033 1805.3 1032.3 1798.3 1034.7 1795.3 C1037 1792.3 1042.4 1789.4 1046.7 1789.3 C1050.9 1789.2 1056.5 1791.7 1060 1794.7 C1063.5 1797.7 1066.4 1805.2 1067.7 1807.3" fill="none" stroke="#000" stroke-width="1.9"/>
<path d="M1032.7 1807.3 L1271.7 2028.3" fill="none" stroke="#000" stroke-width="3.2"/>
<path d="M1039.3 1802 L1277.3 2022.7" fill="none" stroke="#000" stroke-width="1.6"/>
<path d="M1067.7 1806 L1285.3 2011.7" fill="none" stroke="#000" stroke-width="1.9"/>
<path d="M1185 1910.7 L1330.7 1885.3" fill="none" stroke="#000" stroke-width="2.4"/>
<path d="M1200 1925.3 L1328.3 1902" fill="none" stroke="#000" stroke-width="2.4"/>
<path d="M1348.3 1772 L1310 2008.3" fill="none" stroke="#000" stroke-width="1.9"/>
<path d="M1373.3 1774 L1335.3 2015" fill="none" stroke="#000" stroke-width="1.9"/>
<path d="M1348.3 1772 C1349.1 1770.3 1349.6 1764 1352.7 1762 C1355.7 1760 1363.2 1758 1366.7 1760 C1370.1 1762 1372.2 1771.7 1373.3 1774" fill="none" stroke="#000" stroke-width="1.9"/>
<path d="M1334.7 1748.7 L1380 1743.3 L1383.3 1766.7 L1337.3 1778.7" fill="none" stroke="#000" stroke-width="1.9"/>
<ellipse cx="1335.7" cy="1763.7" rx="3" ry="15" transform="rotate(-3 1335.7 1763.7)" fill="none" stroke="#000" stroke-width="1.9"/>
<path d="M1380 1743.3 L1382.3 1766.7" fill="none" stroke="#000" stroke-width="1.3"/>
<ellipse cx="1360" cy="1750" rx="1.7" ry="1.3" transform="rotate(0 1360 1750)" fill="none" stroke="#000" stroke-width="2.2"/>
<path d="M1322.7 1757.3 L1332.7 1756 L1333.3 1770.7 L1324 1771.3Z" fill="none" stroke="#000" stroke-width="2.2"/>
<path d="M1327.3 1756.7 L1328 1771" fill="none" stroke="#000" stroke-width="1.3"/>
<path d="M1384 1750 L1386.7 1765.3 L1384 1750 L1391.7 1752 L1401.7 1757.3 L1401 1762.7 L1392 1765.3 L1386.7 1766" fill="none" stroke="#000" stroke-width="1.9"/>
<path d="M1391.7 1752 L1392 1765.3" fill="none" stroke="#000" stroke-width="1.9"/>
<path d="M1396 1754 L1396.7 1764" fill="none" stroke="#000" stroke-width="1.3"/>
<path d="M1285 2010 C1283.8 2010.2 1279.6 2010 1277.5 2011.2 C1275.4 2012.5 1273.5 2015 1272.5 2017.5 C1271.5 2020 1270.8 2023.5 1271.2 2026.2 C1271.7 2029 1274.4 2032.5 1275 2033.8" fill="none" stroke="#000" stroke-width="2.4"/>
<path d="M1290 2012.5 C1288.8 2012.9 1284.4 2013.3 1282.5 2015 C1280.6 2016.7 1279.3 2019.8 1278.8 2022.5 C1278.2 2025.2 1279.3 2029.8 1279.4 2031.2" fill="none" stroke="#000" stroke-width="2"/>
<path d="M1275 2033.8 C1276.5 2034.2 1280.4 2035.9 1283.8 2036.5 C1287.1 2037.1 1290.6 2036.7 1295 2037.5 C1299.4 2038.3 1305.8 2039.6 1310 2041.2 C1314.2 2042.9 1316.9 2045.2 1320 2047.5 C1323.1 2049.8 1326 2052.7 1328.8 2055 C1331.5 2057.3 1334 2059.9 1336.2 2061.2 C1338.5 2062.6 1341.5 2062.9 1342.5 2063.2" fill="none" stroke="#000" stroke-width="2.4"/>
<path d="M1290 2012.5 C1291.2 2013.8 1295 2018.8 1297.5 2020 C1300 2021.2 1302.9 2020.8 1305 2020 C1307.1 2019.2 1309.2 2015.8 1310 2015" fill="none" stroke="#000" stroke-width="2.2"/>
<path d="M1310 2015 C1310.4 2014 1310.8 2010.3 1312.5 2008.8 C1314.2 2007.2 1317.3 2005.7 1320 2005.6 C1322.7 2005.5 1326.5 2006.6 1328.8 2008.1 C1331 2009.7 1332.9 2013.9 1333.8 2015" fill="none" stroke="#000" stroke-width="2.6"/>
<path d="M1315 2013.8 C1316.2 2013.1 1320 2009.8 1322.5 2010 C1325 2010.2 1328.8 2014.2 1330 2015" fill="none" stroke="#000" stroke-width="1.5"/>
<path d="M1322.5 2010 L1325 2018.8" fill="none" stroke="#000" stroke-width="1.4"/>
<path d="M1291.9 2027.5 L1291.9 2033.1" fill="none" stroke="#000" stroke-width="1.5"/>
<path d="M1296.2 2027.5 L1296.2 2033.1" fill="none" stroke="#000" stroke-width="1.5"/>
<path d="M1291.9 2030.2 L1296.2 2030.2" fill="none" stroke="#000" stroke-width="1.5"/>
<path d="M1297.5 2020 C1301.2 2020.8 1314.6 2024.6 1320 2025 C1325.4 2025.4 1328.3 2022.9 1330 2022.5" fill="none" stroke="#000" stroke-width="1.5"/>
<path d="M1296.2 2030.2 C1300.2 2030.9 1315.2 2034 1320 2034 C1324.8 2034 1324.4 2030.7 1325.2 2030" fill="none" stroke="#000" stroke-width="1.5"/>
<path d="M1333.8 2018.8 C1335.8 2019 1342.5 2018.8 1346.2 2020 C1350 2021.2 1353.5 2023.8 1356.2 2026.2 C1359 2028.8 1361.1 2031.9 1362.5 2035 C1363.9 2038.1 1364.9 2041.7 1364.5 2045 C1364.1 2048.3 1362 2052.5 1360 2055 C1358 2057.5 1355.4 2058.6 1352.5 2060 C1349.6 2061.4 1344.2 2062.7 1342.5 2063.2" fill="none" stroke="#000" stroke-width="2.4"/>
<ellipse cx="1336.5" cy="2045.2" rx="8.2" ry="14" transform="rotate(-35 1336.5 2045.2)" fill="none" stroke="#000" stroke-width="2.4"/>
<path d="M1343.8 2054 L1343.3 2054.9 L1342.7 2055.6 L1342 2056.1 L1341.1 2056.4 L1340.2 2056.6 L1339.1 2056.5 L1338 2056.3 L1336.9 2055.8 L1335.7 2055.2 L1334.5 2054.4 L1333.3 2053.4 L1332.2 2052.3 L1331.2 2051.1 L1330.2 2049.8 L1329.3 2048.5 L1328.6 2047.1 L1328 2045.6 L1327.5 2044.2 L1327.2 2042.8 L1327.1 2041.5 L1327.1 2040.3 L1327.2 2039.2 L1327.6 2038.2 L1328.1 2037.4" fill="none" stroke="#000" stroke-width="5"/>
<path d="M1333 2034.8 L1333.6 2034.7 L1334.3 2034.7 L1335 2034.7 L1335.8 2034.9 L1336.6 2035.2 L1337.4 2035.6 L1338.2 2036 L1339.1 2036.6 L1339.9 2037.2 L1340.7 2037.9 L1341.5 2038.7 L1342.2 2039.5 L1342.9 2040.4 L1343.6 2041.3 L1344.2 2042.3 L1344.8 2043.3 L1345.3 2044.3 L1345.7 2045.3 L1346 2046.3 L1346.3 2047.2 L1346.5 2048.2 L1346.6 2049.1 L1346.6 2050 L1346.5 2050.8" fill="none" stroke="#000" stroke-width="1.5"/>
<path d="M1333.8 2030 L1343.1 2022.5" fill="none" stroke="#000" stroke-width="1.5"/>
<path d="M1337.5 2040 L1342.5 2047.5" fill="none" stroke="#000" stroke-width="1.3"/>
<path d="M1336.2 2046.2 L1343.1 2041.2" fill="none" stroke="#000" stroke-width="1.3"/>
<path d="M1325.2 2030 C1325.6 2030.8 1327.3 2033.1 1327.5 2035 C1327.7 2036.9 1326.5 2040.2 1326.2 2041.2" fill="none" stroke="#000" stroke-width="1.6"/>
</g>
<g id="p_72_link75">
<path d="M1466 1549.3 L1630 1776" fill="none" stroke="#000" stroke-width="3.2"/>
<path d="M1470.7 1546 L1634 1773.3" fill="none" stroke="#000" stroke-width="1.4"/>
<path d="M1484 1538.7 L1647.3 1765" fill="none" stroke="#000" stroke-width="1.9"/>
<ellipse cx="1475.3" cy="1543.3" rx="10" ry="5.3" transform="rotate(-35 1475.3 1543.3)" fill="none" stroke="#000" stroke-width="2.2"/>
<path d="M1481.4 1542.1 L1481.3 1542.9 L1481.1 1543.8 L1480.8 1544.7 L1480.3 1545.7 L1479.6 1546.6 L1478.9 1547.5 L1478 1548.4 L1477.1 1549.3 L1476.1 1550.1 L1475 1550.9 L1473.9 1551.5 L1472.7 1552.1 L1471.6 1552.5 L1470.5 1552.9 L1469.4 1553.1 L1468.4 1553.2 L1467.4 1553.2 L1466.5 1553 L1465.8 1552.8 L1465.1 1552.4 L1464.6 1551.9 L1464.2 1551.3 L1464 1550.7 L1463.9 1549.9" fill="none" stroke="#000" stroke-width="1.9"/>
<path d="M1630 1776 L1629.3 1766 L1638.3 1760 L1647.3 1763.3 L1648.7 1773.3 L1640 1780.7Z" fill="none" stroke="#000" stroke-width="2.2"/>
<ellipse cx="1640" cy="1770.7" rx="4.3" ry="3.7" transform="rotate(-20 1640 1770.7)" fill="none" stroke="#000" stroke-width="2.2"/>
<ellipse cx="1640.7" cy="1771" rx="2.3" ry="2" transform="rotate(-20 1640.7 1771)" fill="none" stroke="#000" stroke-width="1.9"/>
<path d="M1400 1446.7 C1401 1444 1401.1 1439.3 1403.3 1437.3 C1405.6 1435.3 1410.4 1434.2 1413.3 1434.7 C1416.2 1435.1 1419.1 1437.3 1420.7 1440 C1422.2 1442.7 1423.2 1447.1 1422.7 1450.7 C1422.1 1454.3 1419.7 1459.1 1417.3 1461.7 C1414.9 1464.2 1411.2 1466 1408.3 1466 C1405.4 1466 1401.8 1463.8 1400 1461.7 C1398.2 1459.6 1397.3 1455.8 1397.3 1453.3 C1397.3 1450.8 1399 1449.3 1400 1446.7Z" fill="none" stroke="#000" stroke-width="2.2"/>
<ellipse cx="1402" cy="1454" rx="4.7" ry="10" transform="rotate(-10 1402 1454)" fill="none" stroke="#000" stroke-width="2.2"/>
<ellipse cx="1396.7" cy="1455" rx="3.3" ry="7.3" transform="rotate(-10 1396.7 1455)" fill="none" stroke="#000" stroke-width="2.2"/>
<path d="M1392.7 1449.3 L1396.7 1448.7 L1396.7 1460.7 L1393.3 1461.3Z" fill="none" stroke="#000" stroke-width="1.6"/>
<path d="M1420.7 1440 C1421.7 1439 1424.6 1434.4 1426.7 1434 C1428.8 1433.6 1431.9 1435.2 1433.3 1437.3 C1434.7 1439.4 1435 1443.4 1435 1446.7 C1435 1449.9 1433.6 1455 1433.3 1456.7" fill="none" stroke="#000" stroke-width="2"/>
<path d="M1422.7 1450.7 L1434 1449.3" fill="none" stroke="#000" stroke-width="1.3"/>
<ellipse cx="1438.7" cy="1447.7" rx="1.7" ry="5.3" transform="rotate(-5 1438.7 1447.7)" fill="none" stroke="#000" stroke-width="2.2"/>
<path d="M1417.3 1461.7 L1440 1490.7" fill="none" stroke="#000" stroke-width="1.9"/>
<path d="M1430 1459.3 L1450.7 1484" fill="none" stroke="#000" stroke-width="1.9"/>
<ellipse cx="1445.3" cy="1488" rx="6" ry="3.3" transform="rotate(-35 1445.3 1488)" fill="none" stroke="#000" stroke-width="1.8"/>
<path d="M1686.7 1844 L1700 1868.3" fill="none" stroke="#000" stroke-width="1.9"/>
<path d="M1698.7 1840 L1713.3 1864" fill="none" stroke="#000" stroke-width="1.9"/>
<ellipse cx="1692.7" cy="1842.3" rx="6.3" ry="3" transform="rotate(-25 1692.7 1842.3)" fill="none" stroke="#000" stroke-width="1.8"/>
<path d="M1700 1873.3 C1702.2 1871.8 1708.3 1865.8 1713.3 1864 C1718.3 1862.2 1725.8 1861.1 1730 1862.7 C1734.2 1864.2 1736.6 1869.1 1738.3 1873.3 C1740.1 1877.6 1741.5 1884.7 1740.7 1888.3 C1739.8 1891.9 1736.2 1894.7 1733.3 1895 C1730.4 1895.3 1725 1890.8 1723.3 1890" fill="none" stroke="#000" stroke-width="1.9"/>
<ellipse cx="1710" cy="1886.7" rx="10" ry="16" transform="rotate(-25 1710 1886.7)" fill="none" stroke="#000" stroke-width="3"/>
<ellipse cx="1709.3" cy="1887.3" rx="6" ry="11.3" transform="rotate(-25 1709.3 1887.3)" fill="none" stroke="#000" stroke-width="2.2"/>
<ellipse cx="1708.7" cy="1888" rx="2.7" ry="5.3" transform="rotate(-25 1708.7 1888)" fill="none" stroke="#000" stroke-width="2.6"/>
<path d="M1716.7 1871.7 C1717.9 1873.3 1722.3 1878.1 1724 1881.7 C1725.7 1885.3 1726.2 1891.4 1726.7 1893.3" fill="none" stroke="#000" stroke-width="2.4"/>
<path d="M1730 1863.3 C1731 1865.6 1734.8 1871.9 1736 1876.7 C1737.2 1881.4 1737.1 1889.2 1737.3 1891.7" fill="none" stroke="#000" stroke-width="1.3"/>
<path d="M1713.3 1901.7 L1725 1899.3" fill="none" stroke="#000" stroke-width="3"/>
<path d="M1625.1 1965.4 L1632.6 1959.6" fill="none" stroke="#000" stroke-width="2"/>
<path d="M1615.9 1953.6 L1623.4 1947.8" fill="none" stroke="#000" stroke-width="2"/>
<ellipse cx="1620.5" cy="1959.5" rx="2.6" ry="7.5" transform="rotate(-37.7 1620.5 1959.5)" fill="none" stroke="#000" stroke-width="2"/>
<path d="M1623.4 1947.8 L1624.1 1947.6 L1625.1 1947.8 L1626.2 1948.4 L1627.5 1949.3 L1628.8 1950.6 L1630.1 1952.1 L1631.2 1953.7 L1632.1 1955.3 L1632.7 1956.8 L1633 1958 L1633 1959 L1632.6 1959.6" fill="none" stroke="#000" stroke-width="2"/>
<path d="M1620.5 1959.5 L1628 1953.7" fill="none" stroke="#000" stroke-width="1.2"/>
<ellipse cx="1628" cy="1953.7" rx="2.7" ry="7.6" transform="rotate(-37.1 1628 1953.7)" fill="none" stroke="#000" stroke-width="2"/>
<path d="M1632 1956.4 L1679.3 1920.7" fill="none" stroke="#000" stroke-width="1.9"/>
<path d="M1626.5 1949.1 L1673.7 1913.3" fill="none" stroke="#000" stroke-width="1.9"/>
<path d="M1632 1956.4 L1631.6 1956.5 L1631 1956.4 L1630.3 1956 L1629.5 1955.4 L1628.8 1954.6 L1628 1953.7 L1627.3 1952.7 L1626.8 1951.7 L1626.4 1950.8 L1626.2 1950 L1626.3 1949.4 L1626.5 1949.1" fill="none" stroke="#000" stroke-width="1.9"/>
<path d="M1673.7 1913.3 L1674.2 1913.2 L1674.7 1913.3 L1675.4 1913.7 L1676.2 1914.3 L1677 1915.1 L1677.8 1916 L1678.5 1917 L1679 1918 L1679.4 1918.9 L1679.5 1919.7 L1679.5 1920.3 L1679.3 1920.7" fill="none" stroke="#000" stroke-width="1.9"/>
<path d="M1630.1 1952.1 L1630.1 1952.1 L1630.1 1952.1 L1630.1 1952.1 L1630.1 1952.1 L1630.1 1952.1 L1630.1 1952.1 L1630.1 1952.1 L1630.1 1952.1 L1630.1 1952.1 L1630.1 1952.1 L1630.1 1952.1 L1630.1 1952.1 L1630.1 1952.1 L1630.1 1952.1 L1630.1 1952.1 L1630.1 1952.1 L1630.1 1952.1 L1630.1 1952.1 L1630.1 1952.1 L1630.1 1952.1 L1630.1 1952.1 L1630.1 1952.1 L1630.1 1952.1 L1630.1 1952.1" fill="none" stroke="#000" stroke-width="1.9"/>
<ellipse cx="1676.5" cy="1917" rx="1.6" ry="4.6" transform="rotate(-37.1 1676.5 1917)" fill="none" stroke="#000" stroke-width="1.4"/>
<ellipse cx="1772.7" cy="1842.7" rx="5.5" ry="10.5" transform="rotate(-35 1772.7 1842.7)" fill="none" stroke="#000" stroke-width="2.2"/>
<ellipse cx="1772.7" cy="1842.7" rx="2.5" ry="4.8" transform="rotate(-35 1772.7 1842.7)" fill="none" stroke="#000" stroke-width="2.4"/>
<path d="M1771.2 1835.2 L1772.1 1835.4 L1772.9 1835.8 L1773.8 1836.3 L1774.7 1836.8 L1775.5 1837.5 L1776.4 1838.3 L1777.2 1839.1 L1778 1840.1 L1778.7 1841 L1779.4 1842.1 L1780 1843.1 L1780.5 1844.2 L1780.9 1845.2 L1781.3 1846.3 L1781.5 1847.3 L1781.7 1848.3 L1781.7 1849.2 L1781.7 1850.1 L1781.5 1850.8 L1781.3 1851.5 L1780.9 1852.1 L1780.5 1852.6 L1780 1853 L1779.3 1853.2" fill="none" stroke="#000" stroke-width="1.4"/>
<ellipse cx="1821.5" cy="1806" rx="5.5" ry="10.5" transform="rotate(-35 1821.5 1806)" fill="none" stroke="#000" stroke-width="2.2"/>
<ellipse cx="1821.5" cy="1806" rx="2.5" ry="4.8" transform="rotate(-35 1821.5 1806)" fill="none" stroke="#000" stroke-width="2.4"/>
<path d="M1820 1798.5 L1820.9 1798.7 L1821.7 1799.1 L1822.6 1799.6 L1823.5 1800.1 L1824.3 1800.8 L1825.2 1801.6 L1826 1802.4 L1826.8 1803.4 L1827.5 1804.3 L1828.2 1805.4 L1828.8 1806.4 L1829.3 1807.5 L1829.7 1808.5 L1830.1 1809.6 L1830.3 1810.6 L1830.5 1811.6 L1830.5 1812.5 L1830.5 1813.4 L1830.3 1814.1 L1830.1 1814.8 L1829.7 1815.4 L1829.3 1815.9 L1828.8 1816.3 L1828.1 1816.5" fill="none" stroke="#000" stroke-width="1.4"/>
<path d="M1878 1765.9 L1877 1774.8 L1869 1777.4 L1862 1771.1 L1863 1762.2 L1871 1759.6Z" fill="none" stroke="#000" stroke-width="2.2"/>
<ellipse cx="1870" cy="1768.5" rx="4.2" ry="4.8" transform="rotate(-35 1870 1768.5)" fill="none" stroke="#000" stroke-width="2"/>
<path d="M1874.1 1776.3 L1873.1 1777.1 L1872.1 1777.8 L1871 1778.3 L1869.8 1778.5 L1868.5 1778.6 L1867.3 1778.5 L1866 1778.3 L1864.8 1777.8 L1863.6 1777.1 L1862.5 1776.3 L1861.5 1775.4 L1860.7 1774.3 L1859.9 1773.1 L1859.4 1771.9 L1859 1770.6 L1858.8 1769.2 L1858.8 1767.9 L1858.9 1766.6 L1859.3 1765.4 L1859.8 1764.3 L1860.5 1763.2 L1861.3 1762.3 L1862.3 1761.6 L1863.3 1761" fill="none" stroke="#000" stroke-width="1.6"/>
</g>
<g id="p_74_hw_lower">
<path d="M2209 1400.5 L2204.3 1404.2" fill="none" stroke="#000" stroke-width="2"/>
<path d="M2217.1 1410.7 L2212.4 1414.4" fill="none" stroke="#000" stroke-width="2"/>
<ellipse cx="2213" cy="1405.6" rx="2.3" ry="6.5" transform="rotate(141.7 2213 1405.6)" fill="none" stroke="#000" stroke-width="2"/>
<path d="M2212.4 1414.4 L2211.8 1414.6 L2210.9 1414.5 L2209.9 1413.9 L2208.8 1413.1 L2207.7 1412 L2206.5 1410.7 L2205.6 1409.4 L2204.8 1408 L2204.2 1406.7 L2204 1405.6 L2204 1404.8 L2204.3 1404.2" fill="none" stroke="#000" stroke-width="2"/>
<path d="M2213 1405.6 L2208.3 1409.3" fill="none" stroke="#000" stroke-width="1.2"/>
<ellipse cx="2208.3" cy="1409.3" rx="3.5" ry="10" transform="rotate(141.7 2208.3 1409.3)" fill="none" stroke="#000" stroke-width="2"/>
<path d="M2203.8 1407 L2153.1 1447.1" fill="none" stroke="#000" stroke-width="1.9"/>
<path d="M2209.5 1414.2 L2158.9 1454.3" fill="none" stroke="#000" stroke-width="1.9"/>
<path d="M2203.8 1407 L2204.3 1406.9 L2204.8 1407 L2205.6 1407.4 L2206.4 1408 L2207.2 1408.7 L2207.9 1409.6 L2208.6 1410.6 L2209.2 1411.6 L2209.6 1412.5 L2209.8 1413.3 L2209.8 1413.9 L2209.5 1414.2" fill="none" stroke="#000" stroke-width="1.9"/>
<path d="M2158.9 1454.3 L2158.4 1454.4 L2157.8 1454.3 L2157.1 1453.9 L2156.3 1453.3 L2155.5 1452.6 L2154.7 1451.7 L2154 1450.7 L2153.5 1449.7 L2153.1 1448.8 L2152.9 1448 L2152.9 1447.4 L2153.1 1447.1" fill="none" stroke="#000" stroke-width="1.9"/>
<path d="M2206.3 1411 L2206.3 1411 L2206.3 1411 L2206.3 1411 L2206.3 1411 L2206.3 1411 L2206.3 1411 L2206.3 1411 L2206.3 1411 L2206.3 1411 L2206.3 1411 L2206.3 1411 L2206.3 1411 L2206.3 1411 L2206.3 1411 L2206.3 1411 L2206.3 1411 L2206.3 1411 L2206.3 1411 L2206.3 1411 L2206.3 1411 L2206.3 1411 L2206.3 1411 L2206.3 1411 L2206.3 1411" fill="none" stroke="#000" stroke-width="1.9"/>
<ellipse cx="2156" cy="1450.7" rx="1.6" ry="4.6" transform="rotate(141.7 2156 1450.7)" fill="none" stroke="#000" stroke-width="1.4"/>
<ellipse cx="2124" cy="1475" rx="6.5" ry="16.5" transform="rotate(-38.5 2124 1475)" fill="none" stroke="#000" stroke-width="3.2"/>
<ellipse cx="2013.9" cy="1556.9" rx="9.5" ry="14" transform="rotate(-38.5 2013.9 1556.9)" fill="none" stroke="#000" stroke-width="2.4"/>
<ellipse cx="2013.9" cy="1556.9" rx="4.5" ry="7" transform="rotate(-38.5 2013.9 1556.9)" fill="none" stroke="#000" stroke-width="2.2"/>
<ellipse cx="2013.9" cy="1556.9" rx="2" ry="3" transform="rotate(-38.5 2013.9 1556.9)" fill="none" stroke="#000" stroke-width="1.9"/>
<path d="M2010.8 1542.7 L2011.8 1542 L2012.9 1541.6 L2014.1 1541.3 L2015.4 1541.3 L2016.7 1541.4 L2018.1 1541.7 L2019.5 1542.2 L2020.9 1542.9 L2022.3 1543.8 L2023.6 1544.8 L2024.8 1546 L2025.9 1547.3 L2026.9 1548.6 L2027.8 1550.1 L2028.5 1551.6 L2029 1553.1 L2029.4 1554.6 L2029.6 1556.1 L2029.6 1557.5 L2029.4 1558.9 L2029 1560.1 L2028.5 1561.2 L2027.8 1562.2 L2027 1563" fill="none" stroke="#000" stroke-width="2.2"/>
<path d="M2015.5 1536.3 L2016.6 1535.6 L2017.9 1535.1 L2019.2 1534.8 L2020.7 1534.8 L2022.2 1535 L2023.8 1535.4 L2025.4 1536 L2027 1536.8 L2028.5 1537.8 L2030 1539 L2031.4 1540.4 L2032.7 1541.8 L2033.8 1543.4 L2034.8 1545.1 L2035.7 1546.8 L2036.3 1548.5 L2036.8 1550.3 L2037 1552 L2037 1553.6 L2036.9 1555.1 L2036.5 1556.5 L2035.9 1557.8 L2035.1 1558.9 L2034.2 1559.8" fill="none" stroke="#000" stroke-width="2.2"/>
<path d="M2024.1 1529.7 L2025.2 1529 L2026.5 1528.5 L2027.8 1528.2 L2029.3 1528.2 L2030.8 1528.4 L2032.4 1528.8 L2034 1529.4 L2035.6 1530.2 L2037.1 1531.2 L2038.6 1532.4 L2040 1533.8 L2041.3 1535.2 L2042.4 1536.8 L2043.4 1538.5 L2044.3 1540.2 L2044.9 1541.9 L2045.4 1543.7 L2045.6 1545.4 L2045.6 1547 L2045.5 1548.5 L2045.1 1549.9 L2044.5 1551.2 L2043.7 1552.3 L2042.8 1553.2" fill="none" stroke="#000" stroke-width="2.2"/>
<path d="M2005.2 1545.9 L2024.5 1530" fill="none" stroke="#000" stroke-width="1.9"/>
<path d="M2022.6 1567.9 L2042.5 1553" fill="none" stroke="#000" stroke-width="1.9"/>
<path d="M1936.9 1620.7 L1936.5 1630.1 L1928.2 1633.4 L1920.4 1627.3 L1920.9 1617.9 L1929.1 1614.6Z" fill="none" stroke="#000" stroke-width="2.2"/>
<ellipse cx="1928.7" cy="1624" rx="4.4" ry="5" transform="rotate(-38.5 1928.7 1624)" fill="none" stroke="#000" stroke-width="2"/>
<path d="M1933.5 1631.8 L1932.6 1632.7 L1931.6 1633.4 L1930.4 1634 L1929.2 1634.4 L1927.8 1634.5 L1926.5 1634.5 L1925.2 1634.3 L1923.8 1633.9 L1922.6 1633.3 L1921.4 1632.5 L1920.3 1631.6 L1919.3 1630.5 L1918.5 1629.3 L1917.8 1628 L1917.3 1626.7 L1917 1625.3 L1916.9 1623.9 L1917 1622.5 L1917.3 1621.2 L1917.7 1620 L1918.4 1618.9 L1919.2 1617.9 L1920.1 1617 L1921.2 1616.3" fill="none" stroke="#000" stroke-width="1.6"/>
<path d="M1925 1613.3 L1925.5 1612.7 L1926.1 1612.2 L1926.9 1611.8 L1927.7 1611.5 L1928.5 1611.4 L1929.5 1611.4 L1930.4 1611.5 L1931.4 1611.7 L1932.5 1612.1 L1933.5 1612.6 L1934.5 1613.2 L1935.5 1614 L1936.4 1614.8 L1937.3 1615.7 L1938.1 1616.6 L1938.9 1617.7 L1939.6 1618.7 L1940.2 1619.8 L1940.6 1621 L1941 1622.1 L1941.3 1623.2 L1941.4 1624.3 L1941.4 1625.3 L1941.3 1626.3" fill="none" stroke="#000" stroke-width="2"/>
<path d="M1464.8 1941.9 L1460.1 1945.5" fill="none" stroke="#000" stroke-width="2"/>
<path d="M1472.7 1952.2 L1467.9 1955.8" fill="none" stroke="#000" stroke-width="2"/>
<ellipse cx="1468.8" cy="1947" rx="2.3" ry="6.5" transform="rotate(142.7 1468.8 1947)" fill="none" stroke="#000" stroke-width="2"/>
<path d="M1467.9 1955.8 L1467.3 1956 L1466.5 1955.8 L1465.5 1955.3 L1464.4 1954.4 L1463.3 1953.3 L1462.2 1952 L1461.2 1950.7 L1460.5 1949.3 L1459.9 1948 L1459.7 1946.9 L1459.7 1946 L1460.1 1945.5" fill="none" stroke="#000" stroke-width="2"/>
<path d="M1468.8 1947 L1464 1950.7" fill="none" stroke="#000" stroke-width="1.2"/>
<ellipse cx="1464" cy="1950.7" rx="3.5" ry="10" transform="rotate(142.7 1464 1950.7)" fill="none" stroke="#000" stroke-width="2"/>
<path d="M1459.5 1948.3 L1407.9 1987.7" fill="none" stroke="#000" stroke-width="1.9"/>
<path d="M1465.1 1955.6 L1413.5 1995" fill="none" stroke="#000" stroke-width="1.9"/>
<path d="M1459.5 1948.3 L1460 1948.2 L1460.6 1948.3 L1461.3 1948.7 L1462 1949.3 L1462.8 1950.1 L1463.6 1951 L1464.3 1951.9 L1464.8 1952.9 L1465.2 1953.8 L1465.4 1954.6 L1465.4 1955.2 L1465.1 1955.6" fill="none" stroke="#000" stroke-width="1.9"/>
<path d="M1413.5 1995 L1413 1995.1 L1412.4 1995 L1411.7 1994.6 L1411 1994 L1410.2 1993.2 L1409.4 1992.3 L1408.7 1991.3 L1408.2 1990.3 L1407.8 1989.4 L1407.6 1988.7 L1407.6 1988.1 L1407.9 1987.7" fill="none" stroke="#000" stroke-width="1.9"/>
<path d="M1461.9 1952.2 L1461.9 1952.2 L1461.9 1952.2 L1461.9 1952.2 L1461.9 1952.2 L1461.9 1952.2 L1461.9 1952.2 L1461.9 1952.2 L1461.9 1952.2 L1461.9 1952.2 L1461.9 1952.2 L1461.9 1952.2 L1461.9 1952.2 L1461.9 1952.2 L1461.9 1952.2 L1461.9 1952.2 L1461.9 1952.2 L1461.9 1952.2 L1461.9 1952.2 L1461.9 1952.2 L1461.9 1952.2 L1461.9 1952.2 L1461.9 1952.2 L1461.9 1952.2 L1461.9 1952.2" fill="none" stroke="#000" stroke-width="1.9"/>
<ellipse cx="1410.7" cy="1991.3" rx="1.6" ry="4.6" transform="rotate(142.7 1410.7 1991.3)" fill="none" stroke="#000" stroke-width="1.4"/>
<ellipse cx="1386.7" cy="2008.7" rx="6.5" ry="16.5" transform="rotate(-38.5 1386.7 2008.7)" fill="none" stroke="#000" stroke-width="3.2"/>
<ellipse cx="1241.5" cy="2118.2" rx="9.5" ry="14" transform="rotate(-38.5 1241.5 2118.2)" fill="none" stroke="#000" stroke-width="2.4"/>
<ellipse cx="1241.5" cy="2118.2" rx="4.5" ry="7" transform="rotate(-38.5 1241.5 2118.2)" fill="none" stroke="#000" stroke-width="2.2"/>
<ellipse cx="1241.5" cy="2118.2" rx="2" ry="3" transform="rotate(-38.5 1241.5 2118.2)" fill="none" stroke="#000" stroke-width="1.9"/>
<path d="M1238.4 2104 L1239.4 2103.4 L1240.5 2102.9 L1241.8 2102.7 L1243 2102.6 L1244.4 2102.7 L1245.8 2103 L1247.2 2103.6 L1248.6 2104.3 L1249.9 2105.1 L1251.2 2106.2 L1252.5 2107.3 L1253.6 2108.6 L1254.6 2110 L1255.4 2111.4 L1256.1 2112.9 L1256.7 2114.4 L1257 2115.9 L1257.2 2117.4 L1257.2 2118.9 L1257.1 2120.2 L1256.7 2121.5 L1256.2 2122.6 L1255.5 2123.6 L1254.6 2124.4" fill="none" stroke="#000" stroke-width="2.2"/>
<path d="M1243.2 2097.7 L1244.3 2096.9 L1245.5 2096.4 L1246.9 2096.2 L1248.4 2096.1 L1249.9 2096.3 L1251.5 2096.7 L1253.1 2097.3 L1254.6 2098.1 L1256.2 2099.2 L1257.7 2100.3 L1259.1 2101.7 L1260.4 2103.2 L1261.5 2104.8 L1262.5 2106.4 L1263.3 2108.1 L1264 2109.9 L1264.4 2111.6 L1264.7 2113.3 L1264.7 2114.9 L1264.5 2116.5 L1264.2 2117.9 L1263.6 2119.1 L1262.8 2120.2 L1261.9 2121.1" fill="none" stroke="#000" stroke-width="2.2"/>
<path d="M1251.8 2091.1 L1252.9 2090.3 L1254.1 2089.8 L1255.5 2089.6 L1257 2089.5 L1258.5 2089.7 L1260.1 2090.1 L1261.7 2090.7 L1263.2 2091.5 L1264.8 2092.6 L1266.3 2093.7 L1267.7 2095.1 L1269 2096.6 L1270.1 2098.2 L1271.1 2099.8 L1271.9 2101.5 L1272.6 2103.3 L1273 2105 L1273.3 2106.7 L1273.3 2108.3 L1273.1 2109.9 L1272.8 2111.3 L1272.2 2112.5 L1271.4 2113.6 L1270.5 2114.5" fill="none" stroke="#000" stroke-width="2.2"/>
<path d="M1232.8 2107.2 L1252.1 2091.3" fill="none" stroke="#000" stroke-width="1.9"/>
<path d="M1250.2 2129.2 L1270.1 2114.3" fill="none" stroke="#000" stroke-width="1.9"/>
<path d="M1191.6 2159.4 L1191.1 2168.8 L1182.9 2172.1 L1175.1 2165.9 L1175.5 2156.5 L1183.8 2153.3Z" fill="none" stroke="#000" stroke-width="2.2"/>
<ellipse cx="1183.3" cy="2162.7" rx="4.4" ry="5" transform="rotate(-38.5 1183.3 2162.7)" fill="none" stroke="#000" stroke-width="2"/>
<path d="M1188.2 2170.4 L1187.3 2171.3 L1186.2 2172.1 L1185.1 2172.6 L1183.8 2173 L1182.5 2173.2 L1181.2 2173.2 L1179.8 2173 L1178.5 2172.5 L1177.2 2171.9 L1176 2171.2 L1174.9 2170.2 L1173.9 2169.1 L1173.1 2168 L1172.5 2166.7 L1172 2165.3 L1171.7 2163.9 L1171.6 2162.6 L1171.6 2161.2 L1171.9 2159.9 L1172.4 2158.7 L1173 2157.5 L1173.9 2156.5 L1174.8 2155.7 L1175.9 2155" fill="none" stroke="#000" stroke-width="1.6"/>
<path d="M1179.6 2151.9 L1180.2 2151.3 L1180.8 2150.8 L1181.5 2150.4 L1182.3 2150.2 L1183.2 2150 L1184.1 2150 L1185.1 2150.2 L1186.1 2150.4 L1187.1 2150.8 L1188.1 2151.3 L1189.2 2151.9 L1190.1 2152.6 L1191.1 2153.4 L1192 2154.3 L1192.8 2155.3 L1193.6 2156.3 L1194.2 2157.4 L1194.8 2158.5 L1195.3 2159.6 L1195.7 2160.8 L1195.9 2161.9 L1196.1 2162.9 L1196.1 2164 L1196 2164.9" fill="none" stroke="#000" stroke-width="2"/>
<ellipse cx="2676.2" cy="1471" rx="9.5" ry="4.2" transform="rotate(8 2676.2 1471)" fill="none" stroke="#000" stroke-width="2.2"/>
<ellipse cx="2675" cy="1467" rx="6.8" ry="2.8" transform="rotate(8 2675 1467)" fill="none" stroke="#000" stroke-width="2"/>
<path d="M2668.5 1467 L2669 1470.5" fill="none" stroke="#000" stroke-width="1.9"/>
<path d="M2681.8 1467.5 L2682 1471" fill="none" stroke="#000" stroke-width="1.9"/>
<path d="M2670 1475 L2661.5 1520" fill="none" stroke="#000" stroke-width="1.9"/>
<path d="M2680 1476.2 L2671.5 1521.5" fill="none" stroke="#000" stroke-width="1.9"/>
<ellipse cx="2666.5" cy="1521.5" rx="5" ry="2" transform="rotate(8 2666.5 1521.5)" fill="none" stroke="#000" stroke-width="1.6"/>
<path d="M2675 1468.8 L2675 1472.5" fill="none" stroke="#000" stroke-width="1.2"/>
<ellipse cx="2651.2" cy="1592" rx="20" ry="13.5" transform="rotate(25 2651.2 1592)" fill="none" stroke="#000" stroke-width="2.6"/>
<ellipse cx="2651.2" cy="1593" rx="15.5" ry="10" transform="rotate(25 2651.2 1593)" fill="none" stroke="#000" stroke-width="2.4"/>
<ellipse cx="2650" cy="1593.8" rx="10.5" ry="6" transform="rotate(25 2650 1593.8)" fill="none" stroke="#000" stroke-width="3.2"/>
<ellipse cx="2649.5" cy="1594" rx="5.5" ry="2.8" transform="rotate(25 2649.5 1594)" fill="none" stroke="#000" stroke-width="2.6"/>
<path d="M2669.4 1604.7 L2668.5 1606.2 L2667.3 1607.6 L2665.8 1608.7 L2664.1 1609.7 L2662.2 1610.4 L2660 1610.9 L2657.8 1611.1 L2655.4 1611.1 L2652.9 1610.8 L2650.4 1610.3 L2648 1609.5 L2645.5 1608.5 L2643.2 1607.3 L2641 1605.9 L2639 1604.3 L2637.2 1602.6 L2635.7 1600.8 L2634.4 1598.9 L2633.4 1597 L2632.7 1595 L2632.3 1593.1 L2632.3 1591.3 L2632.5 1589.5 L2633.1 1587.8" fill="none" stroke="#000" stroke-width="2.2"/>
<path d="M2637 1605 C2637.1 1606.7 2637.8 1611.7 2637.5 1615 C2637.2 1618.3 2635.9 1620.8 2635.5 1625 C2635.1 1629.2 2635.1 1637.5 2635 1640" fill="none" stroke="#000" stroke-width="1.9"/>
<path d="M2660 1609.5 C2659.7 1611.2 2658.4 1616.6 2658 1620 C2657.6 1623.4 2657.9 1626.6 2657.5 1630 C2657.1 1633.4 2655.8 1638.8 2655.5 1640.5" fill="none" stroke="#000" stroke-width="1.9"/>
<path d="M2637 1616.2 C2638.5 1617.1 2642.7 1621 2646.2 1621.2 C2649.8 1621.5 2656.5 1618.5 2658.5 1618" fill="none" stroke="#000" stroke-width="1.9"/>
<path d="M2636 1626.2 C2637.7 1627 2642.7 1630.3 2646.2 1630.5 C2649.8 1630.7 2655.6 1628 2657.5 1627.5" fill="none" stroke="#000" stroke-width="1.9"/>
<path d="M2635 1635 C2636.7 1635.8 2641.5 1639.2 2645 1639.5 C2648.5 1639.8 2654.2 1637 2656 1636.5" fill="none" stroke="#000" stroke-width="2.4"/>
<path d="M2634 1640.5 C2635.8 1641.5 2640.8 1646 2644.5 1646.2 C2648.2 1646.5 2654.5 1642.7 2656.5 1642" fill="none" stroke="#000" stroke-width="2.4"/>
<path d="M2625 1644.5 C2624.2 1647.1 2619.2 1654.5 2620 1660 C2620.8 1665.5 2625.8 1674.3 2630 1677.5 C2634.2 1680.7 2640.4 1680.6 2645 1679 C2649.6 1677.4 2655.1 1672.3 2657.5 1668 C2659.9 1663.7 2659.8 1656.6 2659.5 1653 C2659.2 1649.4 2656.2 1647.4 2655.5 1646.2" fill="none" stroke="#000" stroke-width="2.4"/>
<ellipse cx="2646.2" cy="1663.8" rx="11.5" ry="14.5" transform="rotate(35 2646.2 1663.8)" fill="none" stroke="#000" stroke-width="2.4"/>
<path d="M2636.3 1675.6 L2635.3 1674.8 L2634.4 1673.8 L2633.7 1672.6 L2633.2 1671.4 L2632.8 1670 L2632.7 1668.5 L2632.7 1666.9 L2632.9 1665.4 L2633.3 1663.8 L2633.9 1662.2 L2634.7 1660.7 L2635.6 1659.3 L2636.6 1657.9 L2637.8 1656.7 L2639 1655.6 L2640.4 1654.7 L2641.8 1654 L2643.2 1653.4 L2644.7 1653.1 L2646.1 1652.9 L2647.5 1653 L2648.8 1653.2 L2650.1 1653.7 L2651.2 1654.4" fill="none" stroke="#000" stroke-width="3"/>
<path d="M2643.8 1662.5 L2652.5 1665" fill="none" stroke="#000" stroke-width="1.3"/>
<path d="M2635 1646.2 L2626.2 1672.5" fill="none" stroke="#000" stroke-width="3"/>
<path d="M2620.5 1648 L2610.5 1640.5 L2600.5 1636.5 L2598 1641.5 L2599.5 1646.5 L2605.5 1652.5 L2618 1658" fill="none" stroke="#000" stroke-width="1.9"/>
<path d="M2610.5 1640.5 L2608 1650.5" fill="none" stroke="#000" stroke-width="1.4"/>
<path d="M2614 1643.8 L2611.5 1653.8" fill="none" stroke="#000" stroke-width="1.9"/>
<ellipse cx="2617" cy="1753.8" rx="9.5" ry="8.5" transform="rotate(0 2617 1753.8)" fill="none" stroke="#000" stroke-width="2.4"/>
<ellipse cx="2616.5" cy="1749" rx="7.5" ry="3.5" transform="rotate(0 2616.5 1749)" fill="none" stroke="#000" stroke-width="2.2"/>
<ellipse cx="2616.5" cy="1749.5" rx="3.8" ry="1.8" transform="rotate(0 2616.5 1749.5)" fill="none" stroke="#000" stroke-width="2.2"/>
<path d="M2609 1750 L2610 1757.5" fill="none" stroke="#000" stroke-width="1.9"/>
<path d="M2624 1750 L2624.5 1757" fill="none" stroke="#000" stroke-width="1.9"/>
<path d="M2611.2 1758.8 C2612.2 1759.2 2615 1761.4 2617 1761.2 C2619 1761.1 2622 1758.5 2623 1758" fill="none" stroke="#000" stroke-width="2.4"/>
</g>
<g id="p_90_labels">
<text x="1182" y="63">300</text>
<text x="1418" y="219">310</text>
<text x="1860" y="85">130b</text>
<text x="2054" y="191">130c</text>
<text x="2426.5" y="64.6">130a</text>
<text x="2426.5" y="93.5">130a1</text>
<text x="2426.5" y="122.4">130a2</text>
<text x="2426.5" y="151.3">130a3</text>
<text x="2426.5" y="180.2">130a4</text>
<text x="2426.5" y="209.1">130a5</text>
<text x="2426.5" y="238">130a6</text>
<text x="2521" y="460">130e</text>
<text x="2536" y="684">130f</text>
<text x="2674" y="734">130g</text>
<text x="2201" y="986">130d</text>
<text x="2402.5" y="1036">55</text>
<text x="1983" y="772">30</text>
<text x="2500" y="1085">31</text>
<text x="2641.7" y="1093">50</text>
<text x="2676.7" y="1173">36</text>
<text x="2761" y="1218">35</text>
<text x="2859.7" y="1275">115</text>
<text x="2956" y="1336.7">110</text>
<text x="2284.7" y="1376.7">190</text>
<text x="2381" y="1435">195</text>
<text x="2284.7" y="1483">180</text>
<text x="2774.7" y="1521.7">200</text>
<text x="2754.7" y="1660">165</text>
<text x="2717.5" y="1786">205</text>
<text x="1778" y="1070">100</text>
<text x="1470" y="1146">95</text>
<text x="1586.7" y="1133">85</text>
<text x="1677" y="1125">90</text>
<text x="1900" y="1113">85</text>
<text x="1976.7" y="1113">96</text>
<text x="1816.7" y="1502.7">10</text>
<text x="1294" y="1352.7">95</text>
<text x="1392.7" y="1341.7">75c</text>
<text x="1506" y="1341.7">96</text>
<text x="1683" y="1606">75b</text>
<text x="1354" y="1586">26</text>
<text x="1215" y="1607">96</text>
<text x="2194" y="1556.7">45</text>
<text x="2080" y="1631">40</text>
<text x="1990.7" y="1701.7">185</text>
<text x="1933" y="1837">183</text>
<text x="1877" y="1889">181</text>
<text x="1776" y="1968">75a</text>
<text x="1705" y="2027">182</text>
<text x="1526" y="2039">180</text>
<text x="1463" y="2098">45</text>
<text x="1333" y="2206.7">40</text>
<text x="1265" y="2256">185</text>
<text x="990.7" y="2011">25</text>
<text x="957" y="1515">100</text>
<text x="1039" y="1614">27</text>
<text x="1135" y="1610.7">85</text>
<text x="898" y="1628">90</text>
<text x="790" y="1653">85</text>
<text x="683" y="1666">95</text>
<text x="171" y="2107.5">26C1702a</text>
<path d="M1183 75 L1087 177" stroke="#000" stroke-width="1.3" fill="none"/>
<path d="M1421 232 L1316 366" stroke="#000" stroke-width="1.3" fill="none"/>
<path d="M1873 97 L1785 233.8" stroke="#000" stroke-width="1.3" fill="none"/>
<path d="M2065 203.8 L1980 332.5" stroke="#000" stroke-width="1.3" fill="none"/>
<path d="M2420 213.8 L2270 455" stroke="#000" stroke-width="1.3" fill="none"/>
<path d="M2531 466 L2445 597.5" stroke="#000" stroke-width="1.3" fill="none"/>
<path d="M2541 698 L2452.5 817.5" stroke="#000" stroke-width="1.3" fill="none"/>
<path d="M2684.5 748.8 L2602.5 855" stroke="#000" stroke-width="1.3" fill="none"/>
<path d="M2248.8 952.5 L2331 857" stroke="#000" stroke-width="1.3" fill="none"/>
<path d="M2396 1048 L2313 1130" stroke="#000" stroke-width="1.3" fill="none"/>
<path d="M1976.7 785 L1890 890" stroke="#000" stroke-width="1.3" fill="none"/>
<path d="M2492.7 1099 L2408 1190" stroke="#000" stroke-width="1.3" fill="none"/>
<path d="M2633 1105.7 L2546.7 1195" stroke="#000" stroke-width="1.3" fill="none"/>
<path d="M2669 1185 L2566.7 1296.7" stroke="#000" stroke-width="1.3" fill="none"/>
<path d="M2755.7 1230 L2661 1335" stroke="#000" stroke-width="1.3" fill="none"/>
<path d="M2859 1286.7 L2763 1395" stroke="#000" stroke-width="1.3" fill="none"/>
<path d="M2956 1349 L2861 1458" stroke="#000" stroke-width="1.3" fill="none"/>
<path d="M2332 1343 L2391 1296.7" stroke="#000" stroke-width="1.3" fill="none"/>
<path d="M2429 1401.7 L2484.7 1353" stroke="#000" stroke-width="1.3" fill="none"/>
<path d="M2276.7 1451.7 L2213 1410" stroke="#000" stroke-width="1.3" fill="none"/>
<path d="M2768.8 1508 L2672.5 1494.5" stroke="#000" stroke-width="1.3" fill="none"/>
<path d="M2746 1647.5 L2656 1638.8" stroke="#000" stroke-width="1.3" fill="none"/>
<path d="M2710 1772.5 L2623.8 1761.8" stroke="#000" stroke-width="1.3" fill="none"/>
<path d="M1797 1083 L1795 1211.7" stroke="#000" stroke-width="1.3" fill="none"/>
<path d="M1484 1158 L1486 1283" stroke="#000" stroke-width="1.3" fill="none"/>
<path d="M1600.7 1146.7 L1599 1273" stroke="#000" stroke-width="1.3" fill="none"/>
<path d="M1691.7 1138 L1691.7 1259" stroke="#000" stroke-width="1.3" fill="none"/>
<path d="M1913 1127 L1911.7 1233" stroke="#000" stroke-width="1.3" fill="none"/>
<path d="M1990.7 1127 L1989 1233" stroke="#000" stroke-width="1.3" fill="none"/>
<path d="M1850 1476.7 L1913 1431.7" stroke="#000" stroke-width="1.3" fill="none"/>
<path d="M1309 1366 L1313 1456" stroke="#000" stroke-width="1.3" fill="none"/>
<path d="M1414 1354 L1417 1440" stroke="#000" stroke-width="1.3" fill="none"/>
<path d="M1520.7 1355 L1521.7 1440" stroke="#000" stroke-width="1.3" fill="none"/>
<path d="M1675 1613 L1573 1671.7" stroke="#000" stroke-width="1.3" fill="none"/>
<path d="M1367.7 1600 L1364 1683" stroke="#000" stroke-width="1.3" fill="none"/>
<path d="M1227.7 1620.7 L1223 1771.7" stroke="#000" stroke-width="1.3" fill="none"/>
<path d="M2187 1528 L2130 1485" stroke="#000" stroke-width="1.3" fill="none"/>
<path d="M2075 1602.7 L2021.7 1563" stroke="#000" stroke-width="1.3" fill="none"/>
<path d="M1983 1670 L1933 1629" stroke="#000" stroke-width="1.3" fill="none"/>
<path d="M1925 1807 L1873 1775" stroke="#000" stroke-width="1.3" fill="none"/>
<path d="M1874 1856 L1828 1811.7" stroke="#000" stroke-width="1.3" fill="none"/>
<path d="M1869 1871.7 L1776.7 1846.7" stroke="#000" stroke-width="1.3" fill="none"/>
<path d="M1771.7 1935 L1720 1888" stroke="#000" stroke-width="1.3" fill="none"/>
<path d="M1702.7 1994 L1651.7 1941.7" stroke="#000" stroke-width="1.3" fill="none"/>
<path d="M1518 2005 L1461.7 1963" stroke="#000" stroke-width="1.3" fill="none"/>
<path d="M1456 2069 L1396.7 2022.7" stroke="#000" stroke-width="1.3" fill="none"/>
<path d="M1326.7 2177 L1255 2121.7" stroke="#000" stroke-width="1.3" fill="none"/>
<path d="M1256 2223 L1183 2166.7" stroke="#000" stroke-width="1.3" fill="none"/>
<path d="M1026.7 1989 L1153 1920" stroke="#000" stroke-width="1.3" fill="none"/>
<path d="M976.7 1528 L975 1676.7" stroke="#000" stroke-width="1.3" fill="none"/>
<path d="M1052.7 1626.7 L1049 1721.7" stroke="#000" stroke-width="1.3" fill="none"/>
<path d="M1149 1623 L1144 1773" stroke="#000" stroke-width="1.3" fill="none"/>
<path d="M912.7 1640.7 L915 1795" stroke="#000" stroke-width="1.3" fill="none"/>
<path d="M804 1666 L799 1808" stroke="#000" stroke-width="1.3" fill="none"/>
<path d="M699 1678 L702.7 1823" stroke="#000" stroke-width="1.3" fill="none"/>
<path d="M1101 196 L1185 263.8" stroke="#000" stroke-width="1.3" stroke-dasharray="12 7" fill="none"/>
<path d="M1217.5 293.8 L1305 367.5" stroke="#000" stroke-width="1.3" stroke-dasharray="12 7" fill="none"/>
<path d="M1355 597 L1527 695" stroke="#000" stroke-width="1.3" stroke-dasharray="12 7" fill="none"/>
<path d="M2125 1041.7 L2510 1261.7" stroke="#000" stroke-width="1.3" stroke-dasharray="12 7" fill="none"/>
<path d="M2573 1301.7 L2623 1330" stroke="#000" stroke-width="1.3" stroke-dasharray="12 7" fill="none"/>
<path d="M2688 1363 L2748 1398" stroke="#000" stroke-width="1.3" stroke-dasharray="12 7" fill="none"/>
<path d="M2771 1415 L2836 1450" stroke="#000" stroke-width="1.3" stroke-dasharray="12 7" fill="none"/>
<path d="M2546 1208 L2546 1261.7" stroke="#000" stroke-width="1.3" stroke-dasharray="12 7" fill="none"/>
<path d="M2406 1296.7 L2483 1340" stroke="#000" stroke-width="1.3" stroke-dasharray="12 7" fill="none"/>
<path d="M2498 1350 L2529.7 1366.7" stroke="#000" stroke-width="1.3" stroke-dasharray="12 7" fill="none"/>
<path d="M2559.7 1385 L2609.7 1416.7" stroke="#000" stroke-width="1.3" stroke-dasharray="12 7" fill="none"/>
<path d="M2604.7 1420 L2454.7 1538" stroke="#000" stroke-width="1.3" stroke-dasharray="12 7" fill="none"/>
<path d="M2454.7 1538 L2596 1635" stroke="#000" stroke-width="1.3" stroke-dasharray="12 7" fill="none"/>
<path d="M2665 1525 L2653.8 1576" stroke="#000" stroke-width="1.3" stroke-dasharray="16 6 3 6" fill="none"/>
<path d="M2631 1680 L2618 1743.8" stroke="#000" stroke-width="1.3" stroke-dasharray="16 6 3 6" fill="none"/>
<path d="M1556.7 1279.3 L1595 1275.5" stroke="#000" stroke-width="1.3" stroke-dasharray="12 7" fill="none"/>
<path d="M1620 1273 L1668 1268" stroke="#000" stroke-width="1.3" stroke-dasharray="12 7" fill="none"/>
<path d="M1718 1263 L1780 1256.7" stroke="#000" stroke-width="1.3" stroke-dasharray="12 7" fill="none"/>
<path d="M1826.7 1252 L1910 1242.7" stroke="#000" stroke-width="1.3" stroke-dasharray="12 7" fill="none"/>
<path d="M1933 1240 L1983 1236" stroke="#000" stroke-width="1.3" stroke-dasharray="12 7" fill="none"/>
<path d="M1361.7 1454 L1393 1451.7" stroke="#000" stroke-width="1.3" stroke-dasharray="12 7" fill="none"/>
<path d="M1441.7 1446.7 L1510 1440.7" stroke="#000" stroke-width="1.3" stroke-dasharray="12 7" fill="none"/>
<path d="M1446.7 1496.7 L1473 1536.7" stroke="#000" stroke-width="1.3" stroke-dasharray="16 6 3 6" fill="none"/>
<path d="M1643 1776.7 L1690 1840" stroke="#000" stroke-width="1.3" stroke-dasharray="16 6 3 6" fill="none"/>
<path d="M1678 1913 L1703 1896.7" stroke="#000" stroke-width="1.3" stroke-dasharray="12 7" fill="none"/>
<path d="M1737 1870 L1766.7 1848" stroke="#000" stroke-width="1.3" stroke-dasharray="12 7" fill="none"/>
<path d="M1779 1837 L1815 1811.7" stroke="#000" stroke-width="1.3" stroke-dasharray="12 7" fill="none"/>
<path d="M1828 1800 L1863 1776" stroke="#000" stroke-width="1.3" stroke-dasharray="12 7" fill="none"/>
<path d="M1363 1693 L1361 1743" stroke="#000" stroke-width="1.3" stroke-dasharray="16 6 3 6" fill="none"/>
<path d="M1048 1733 L1045 1776.7" stroke="#000" stroke-width="1.3" stroke-dasharray="16 6 3 6" fill="none"/>
<path d="M718 1825 L785 1819" stroke="#000" stroke-width="1.3" stroke-dasharray="12 7" fill="none"/>
<path d="M811.7 1816 L900 1807" stroke="#000" stroke-width="1.3" stroke-dasharray="12 7" fill="none"/>
<path d="M950 1801.7 L1021.7 1793" stroke="#000" stroke-width="1.3" stroke-dasharray="12 7" fill="none"/>
<path d="M1066.7 1789 L1131.7 1782.7" stroke="#000" stroke-width="1.3" stroke-dasharray="12 7" fill="none"/>
<path d="M1156.7 1780 L1213 1775" stroke="#000" stroke-width="1.3" stroke-dasharray="12 7" fill="none"/>
<path d="M1938 1616.7 L2001.7 1571.7" stroke="#000" stroke-width="1.3" stroke-dasharray="12 7" fill="none"/>
<path d="M2040 1536.7 L2070 1518" stroke="#000" stroke-width="1.3" stroke-dasharray="12 7" fill="none"/>
<path d="M2100 1496.7 L2113 1488" stroke="#000" stroke-width="1.3" stroke-dasharray="12 7" fill="none"/>
<path d="M2133 1470 L2155 1455" stroke="#000" stroke-width="1.3" stroke-dasharray="12 7" fill="none"/>
<path d="M1191.7 2156.7 L1230 2128" stroke="#000" stroke-width="1.3" stroke-dasharray="12 7" fill="none"/>
<path d="M1263 2100 L1328 2055" stroke="#000" stroke-width="1.3" stroke-dasharray="12 7" fill="none"/>
<path d="M1363 2028 L1378 2018" stroke="#000" stroke-width="1.3" stroke-dasharray="12 7" fill="none"/>
<path d="M1398 2001.7 L1408 1995" stroke="#000" stroke-width="1.3" stroke-dasharray="12 7" fill="none"/>
<path d="M2397.5 806 L2450 818.8" stroke="#000" stroke-width="1.3" stroke-dasharray="16 6 3 6" fill="none"/>
<path d="M2455 820 L2590 852.5" stroke="#000" stroke-width="1.3" stroke-dasharray="16 6 3 6" fill="none"/>
</g>
</svg>
</body></html>
